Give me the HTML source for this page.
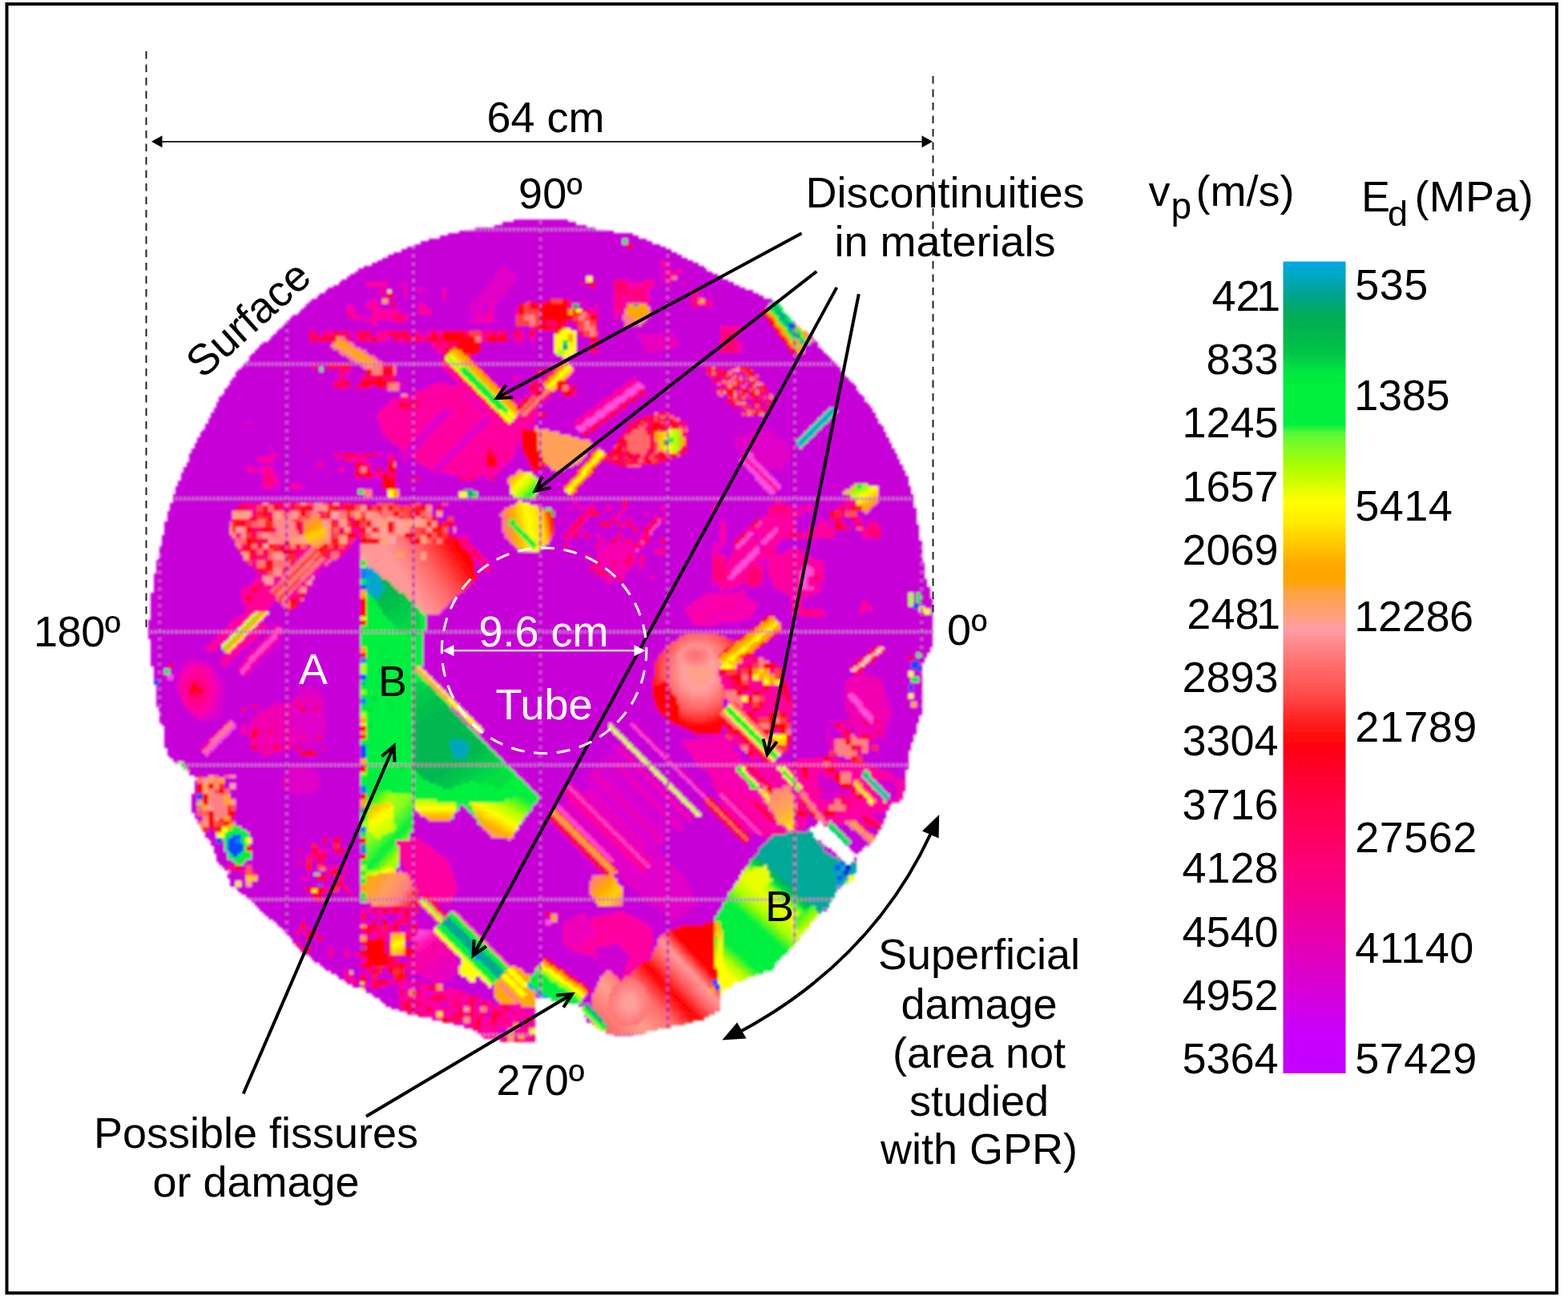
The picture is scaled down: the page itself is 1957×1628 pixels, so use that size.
<!DOCTYPE html>
<html lang="en"><head><meta charset="utf-8"><title>Tomography section</title>
<style>html,body{margin:0;padding:0;background:#fff}body{width:1957px;height:1628px;overflow:hidden}svg{display:block}text{font-family:"Liberation Sans",Arial,sans-serif;font-size:54px;fill:#000}.w{fill:#fff}.m{text-anchor:middle}.e{text-anchor:end}.ln{stroke:#000;stroke-width:4;fill:none;stroke-linecap:butt}</style>
</head><body>
<svg width="1957" height="1628" viewBox="0 0 1957 1628">
<defs>
<filter id="soft" x="-2%" y="-2%" width="104%" height="104%"><feGaussianBlur stdDeviation="1.5"/></filter><filter id="soft2" filterUnits="userSpaceOnUse" x="0" y="0" width="1957" height="1628"><feGaussianBlur stdDeviation="0.65"/></filter>
<clipPath id="hc"><path d="M185.0 787.0 187.0 760.0 195.0 712.0 202.5 672.0 210.0 640.0 217.6 615.5 237.6 565.5 252.6 540.4 275.2 495.3 300.2 460.3 322.7 435.3 355.3 405.2 387.8 375.2 420.4 355.1 452.9 335.1 493.0 315.1 530.5 300.0 580.6 287.5 620.0 281.0 647.0 274.0 702.0 274.0 745.0 286.0 783.0 290.0 830.0 308.5 860.0 325.0 902.8 347.6 940.4 365.0 965.4 375.0 990.5 400.0 1015.5 425.0 1040.5 452.8 1065.6 482.8 1090.6 515.4 1115.6 560.4 1130.7 590.5 1140.7 628.0 1148.2 672.0 1151.0 688.0 1153.6 718.8 1161.0 739.0 1165.0 772.6 1165.0 803.0 1158.7 816.0 1151.0 829.0 1149.0 850.0 1150.0 888.0 1146.0 900.0 1141.0 918.6 1133.0 944.0 1130.6 977.0 1124.0 1000.0 1113.0 1000.0 1108.0 1010.0 1100.0 1032.0 1090.0 1052.0 1078.0 1058.0 1068.0 1066.6 1068.0 1083.0 1066.0 1097.0 1046.0 1110.0 1036.0 1130.0 1016.0 1148.0 993.0 1175.0 975.0 1197.0 960.0 1214.0 935.0 1220.0 915.0 1228.0 900.0 1238.0 899.0 1260.0 876.0 1272.0 852.0 1279.0 826.0 1284.0 800.0 1292.0 775.0 1294.0 761.0 1291.0 748.0 1284.0 734.0 1276.0 723.0 1256.0 700.0 1250.0 669.0 1246.0 667.0 1254.0 666.0 1300.0 640.0 1301.0 608.0 1299.0 592.0 1287.0 554.0 1276.0 515.0 1268.0 485.0 1257.0 462.0 1240.0 439.0 1230.0 408.0 1211.0 373.0 1184.0 354.0 1161.0 325.0 1137.0 310.0 1122.0 288.0 1105.0 282.0 1085.0 270.0 1075.0 265.0 1055.0 246.0 1025.0 238.0 1005.0 245.0 972.0 226.0 956.0 208.0 943.0 205.0 905.0 200.0 900.0 193.0 850.0 187.0 810.0z"/></clipPath>
<linearGradient id="cb" x1="0" y1="326.5" x2="0" y2="1340" gradientUnits="userSpaceOnUse">
<stop offset="0.0000" stop-color="#00a8e4"/>
<stop offset="0.0183" stop-color="#00a8c0"/>
<stop offset="0.0429" stop-color="#00a48c"/>
<stop offset="0.0646" stop-color="#00ac58"/>
<stop offset="0.0824" stop-color="#00b450"/>
<stop offset="0.1120" stop-color="#00c448"/>
<stop offset="0.1367" stop-color="#00e840"/>
<stop offset="0.1613" stop-color="#00f03c"/>
<stop offset="0.2008" stop-color="#00f040"/>
<stop offset="0.2116" stop-color="#58f838"/>
<stop offset="0.2304" stop-color="#84fc20"/>
<stop offset="0.2501" stop-color="#a8fc00"/>
<stop offset="0.2699" stop-color="#ccfc00"/>
<stop offset="0.2955" stop-color="#ffff00"/>
<stop offset="0.3192" stop-color="#ffec00"/>
<stop offset="0.3488" stop-color="#ffc800"/>
<stop offset="0.3735" stop-color="#ffa800"/>
<stop offset="0.3962" stop-color="#ffa400"/>
<stop offset="0.4011" stop-color="#ffa430"/>
<stop offset="0.4228" stop-color="#ffa060"/>
<stop offset="0.4544" stop-color="#ff9ca4"/>
<stop offset="0.4790" stop-color="#ff8080"/>
<stop offset="0.5067" stop-color="#ff6464"/>
<stop offset="0.5363" stop-color="#ff4848"/>
<stop offset="0.5659" stop-color="#ff2020"/>
<stop offset="0.5876" stop-color="#ff0808"/>
<stop offset="0.6152" stop-color="#ff0020"/>
<stop offset="0.6645" stop-color="#ff0048"/>
<stop offset="0.7139" stop-color="#ff0064"/>
<stop offset="0.7632" stop-color="#f80084"/>
<stop offset="0.8125" stop-color="#ec00a0"/>
<stop offset="0.8619" stop-color="#e000c0"/>
<stop offset="0.9112" stop-color="#d400e0"/>
<stop offset="0.9507" stop-color="#c800fc"/>
<stop offset="1.0000" stop-color="#c400ff"/>
</linearGradient>
</defs>
<rect width="1957" height="1628" fill="#fff"/>
<g id="heat" filter="url(#soft)">
<g transform="translate(178.1 272.3) scale(3.4)" fill="none" stroke-width="1.04" shape-rendering="crispEdges">
<path stroke="#c800d8" d="M136 1h20M132 2h27M129 3h34M122 4h44M116 5h57M112 6h68M109 7h73M105 8h71M178 8h7M102 9h74M178 9h9M100 10h78M180 10h10M97 11h81M180 11h12M95 12h99M92 13h104M90 14h108M88 15h112M86 16h104M194 16h8M84 17h106M194 17h10M81 18h51M134 18h56M194 18h12M79 19h52M135 19h55M194 19h2M198 19h9M78 20h52M136 20h54M198 20h11M76 21h53M137 21h53M196 21h15M75 22h54M138 22h25M165 22h25M196 22h17M73 23h55M137 23h26M165 23h8M178 23h6M188 23h2M194 23h21M72 24h10M90 24h4M97 24h30M136 24h25M163 24h1M166 24h7M188 24h4M194 24h4M199 24h18M70 25h12M90 25h4M97 25h29M135 25h29M166 25h7M188 25h31M68 26h28M97 26h4M104 26h6M111 26h14M134 26h39M186 26h35M67 27h20M89 27h1M91 27h5M97 27h4M104 27h6M111 27h13M134 27h39M186 27h15M204 27h20M65 28h22M89 28h1M92 28h4M97 28h13M111 28h13M133 28h40M186 28h15M206 28h20M64 29h26M92 29h4M97 29h13M111 29h12M132 29h41M186 29h15M206 29h22M62 30h20M86 30h2M90 30h11M102 30h8M111 30h11M131 30h18M157 30h16M186 30h15M209 30h22M61 31h21M86 31h2M90 31h1M93 31h8M102 31h8M111 31h9M130 31h11M144 31h2M158 31h2M162 31h11M186 31h15M209 31h22M60 32h15M78 32h4M88 32h3M93 32h8M104 32h16M129 32h9M160 32h6M167 32h6M185 32h16M209 32h21M59 33h16M78 33h4M88 33h13M104 33h16M129 33h9M160 33h6M167 33h6M186 33h43M58 34h17M78 34h6M96 34h5M106 34h14M129 34h8M167 34h6M176 34h1M186 34h41M57 35h18M78 35h6M96 35h5M106 35h14M129 35h8M167 35h6M176 35h1M186 35h42M55 36h20M98 36h22M129 36h8M167 36h6M174 36h2M186 36h42M54 37h23M98 37h22M129 37h8M167 37h6M174 37h2M185 37h44M53 38h28M86 38h6M96 38h24M129 38h8M156 38h2M167 38h10M184 38h46M52 39h32M86 39h51M156 39h2M167 39h10M181 39h1M183 39h47M51 40h86M138 40h4M156 40h4M167 40h10M178 40h34M221 40h10M50 41h87M138 41h4M157 41h3M167 41h45M221 41h11M49 42h12M64 42h2M76 42h2M84 42h2M98 42h2M102 42h2M134 42h2M140 42h2M144 42h7M159 42h1M167 42h27M195 42h17M220 42h13M48 43h13M64 43h2M76 43h2M84 43h2M98 43h2M102 43h2M134 43h2M140 43h2M144 43h7M159 43h1M167 43h14M195 43h17M220 43h13M244 43h1M47 44h14M76 44h2M90 44h2M134 44h2M140 44h2M144 44h7M159 44h5M167 44h15M196 44h16M218 44h16M245 44h1M46 45h15M76 45h2M90 45h2M134 45h2M140 45h2M144 45h7M159 45h5M167 45h16M196 45h16M218 45h17M246 45h1M44 46h26M77 46h29M124 46h27M159 46h5M167 46h16M197 46h15M220 46h16M245 46h3M43 47h26M78 47h28M124 47h27M159 47h5M167 47h17M197 47h15M220 47h16M243 47h5M42 48h28M80 48h27M124 48h27M159 48h5M167 48h17M195 48h17M220 48h17M243 48h6M41 49h31M82 49h26M124 49h27M159 49h5M167 49h18M189 49h23M220 49h18M243 49h7M40 50h33M83 50h27M122 50h30M158 50h80M239 50h12M39 51h36M85 51h26M120 51h34M156 51h96M39 52h37M86 52h24M121 52h33M155 52h98M38 53h40M88 53h21M122 53h31M156 53h2M159 53h95M37 54h25M64 54h4M76 54h4M93 54h16M123 54h29M157 54h98M36 55h26M64 55h1M66 55h2M76 55h5M93 55h17M124 55h25M150 55h1M158 55h48M223 55h33M35 56h30M66 56h6M76 56h6M93 56h18M125 56h20M159 56h48M224 56h32M34 57h38M76 57h6M93 57h19M126 57h18M158 57h49M219 57h1M225 57h32M34 58h38M74 58h6M93 58h20M127 58h10M138 58h10M157 58h51M224 58h1M226 58h32M33 59h39M74 59h6M93 59h21M128 59h8M138 59h9M156 59h24M181 59h27M215 59h1M220 59h1M226 59h33M32 60h38M76 60h4M93 60h22M129 60h13M156 60h22M182 60h27M227 60h33M32 61h38M76 61h4M96 61h11M112 61h4M130 61h12M156 61h21M183 61h26M220 61h1M222 61h1M228 61h33M31 62h39M76 62h2M84 62h2M94 62h11M131 62h11M159 62h17M184 62h26M229 62h33M30 63h60M94 63h9M132 63h10M159 63h15M184 63h26M229 63h33M30 64h70M133 64h9M151 64h3M159 64h14M185 64h26M218 64h1M230 64h33M29 65h66M97 65h1M134 65h7M150 65h4M159 65h13M184 65h27M214 65h1M231 65h33M28 66h66M120 66h1M135 66h2M138 66h2M149 66h21M182 66h31M231 66h34M28 67h63M121 67h1M136 67h1M138 67h1M148 67h21M181 67h33M223 67h1M231 67h34M27 68h63M122 68h1M137 68h1M147 68h20M179 68h36M231 68h35M27 69h62M123 69h1M146 69h20M178 69h38M218 69h1M227 69h1M231 69h36M26 70h62M124 70h1M145 70h20M177 70h41M224 70h1M229 70h23M254 70h14M26 71h61M125 71h1M145 71h18M175 71h16M192 71h27M220 71h1M229 71h22M255 71h13M25 72h61M138 72h1M148 72h14M174 72h14M194 72h26M228 72h1M230 72h20M254 72h15M25 73h61M148 73h13M173 73h11M195 73h54M253 73h16M24 74h62M144 74h15M171 74h10M197 74h51M252 74h18M24 75h14M42 75h45M144 75h14M170 75h9M199 75h48M251 75h19M23 76h64M143 76h16M168 76h10M200 76h46M250 76h21M23 77h64M142 77h2M145 77h14M167 77h11M200 77h45M249 77h23M22 78h66M149 78h11M166 78h11M200 78h27M231 78h13M248 78h24M21 79h67M153 79h8M164 79h12M200 79h23M232 79h11M247 79h26M21 80h68M157 80h5M163 80h13M200 80h18M233 80h9M246 80h27M20 81h70M160 81h15M200 81h17M234 81h7M245 81h29M20 82h71M138 82h1M164 82h10M200 82h17M236 82h4M244 82h30M19 83h73M138 83h1M165 83h9M200 83h18M237 83h3M243 83h32M19 84h27M48 84h46M137 84h2M165 84h8M200 84h18M238 84h3M242 84h33M18 85h28M48 85h47M137 85h2M164 85h2M168 85h4M200 85h19M239 85h37M18 86h52M71 86h24M137 86h3M163 86h2M169 86h3M200 86h19M238 86h38M17 87h30M50 87h20M88 87h2M92 87h2M136 87h4M163 87h1M198 87h21M238 87h39M17 88h25M48 88h23M72 88h2M82 88h8M93 88h1M98 88h1M136 88h5M162 88h2M195 88h25M237 88h40M17 89h25M48 89h23M72 89h2M82 89h8M93 89h2M97 89h3M135 89h6M161 89h2M169 89h1M193 89h26M237 89h41M16 90h22M40 90h4M48 90h16M66 90h12M84 90h6M93 90h8M134 90h8M160 90h2M168 90h4M190 90h30M236 90h42M16 91h22M40 91h4M48 91h16M66 91h12M84 91h6M93 91h10M133 91h9M148 91h1M158 91h3M167 91h8M183 91h38M236 91h43M15 92h23M48 92h24M74 92h4M84 92h2M88 92h2M93 92h12M132 92h11M147 92h3M155 92h5M166 92h56M235 92h44M15 93h23M48 93h24M74 93h4M84 93h2M88 93h2M93 93h13M131 93h7M139 93h4M144 93h8M153 93h6M166 93h57M229 93h5M235 93h45M14 94h30M50 94h28M93 94h14M108 94h5M130 94h7M143 94h16M165 94h59M230 94h50M14 95h30M50 95h28M93 95h24M124 95h2M128 95h7M144 95h14M164 95h61M231 95h50M14 96h30M50 96h38M93 96h5M102 96h14M122 96h4M130 96h4M145 96h12M163 96h62M232 96h49M13 97h31M50 97h38M93 97h41M145 97h11M162 97h64M233 97h48M13 98h31M50 98h4M60 98h28M93 98h42M145 98h10M161 98h66M234 98h19M254 98h7M266 98h15M12 99h32M50 99h4M60 99h28M93 99h42M145 99h9M160 99h68M234 99h6M242 99h10M254 99h6M270 99h12M12 100h67M84 100h6M94 100h24M121 100h14M145 100h10M160 100h69M233 100h25M270 100h12M12 101h67M84 101h6M94 101h22M123 101h12M145 101h11M159 101h71M232 101h25M270 101h12M11 102h70M84 102h6M94 102h22M123 102h13M144 102h13M158 102h100M270 102h13M11 103h128M144 103h114M270 103h13M11 104h127M139 104h19M160 104h16M178 104h54M236 104h22M270 104h13M10 105h26M82 105h4M94 105h4M102 105h2M106 105h4M112 105h25M142 105h16M160 105h4M165 105h11M178 105h54M236 105h15M252 105h6M269 105h14M10 106h25M106 106h2M110 106h25M145 106h11M158 106h2M162 106h2M166 106h4M172 106h4M178 106h12M192 106h17M212 106h17M246 106h8M268 106h15M10 107h24M106 107h2M110 107h23M147 107h1M150 107h6M158 107h2M162 107h1M166 107h4M172 107h4M178 107h12M192 107h17M212 107h17M246 107h8M267 107h17M9 108h24M106 108h2M110 108h22M151 108h11M168 108h6M176 108h8M186 108h23M210 108h19M242 108h10M262 108h3M266 108h18M9 109h24M106 109h2M110 109h21M151 109h10M168 109h6M176 109h8M186 109h2M189 109h20M210 109h19M242 109h10M262 109h22M9 110h24M108 110h4M114 110h18M151 110h3M156 110h4M164 110h8M174 110h4M180 110h8M192 110h35M240 110h8M250 110h2M256 110h4M264 110h20M9 111h24M108 111h4M114 111h18M151 111h3M156 111h3M163 111h9M174 111h4M180 111h7M192 111h33M240 111h8M250 111h2M256 111h4M264 111h20M8 112h24M109 112h1M114 112h18M151 112h7M162 112h6M172 112h2M180 112h6M190 112h22M214 112h10M240 112h8M252 112h2M258 112h4M264 112h2M270 112h14M8 113h24M114 113h18M151 113h6M161 113h7M172 113h2M180 113h5M189 113h23M214 113h9M240 113h8M252 113h2M258 113h4M264 113h2M270 113h15M8 114h24M112 114h2M115 114h17M151 114h5M162 114h18M182 114h2M188 114h24M214 114h6M240 114h4M260 114h2M271 114h14M8 115h24M112 115h2M115 115h17M151 115h5M159 115h1M162 115h18M182 115h2M187 115h25M214 115h6M240 115h4M254 115h10M271 115h14M8 116h24M113 116h20M151 116h4M160 116h2M164 116h2M168 116h6M176 116h7M187 116h25M214 116h6M254 116h10M271 116h14M7 117h26M79 117h1M115 117h2M119 117h14M150 117h4M157 117h1M160 117h2M164 117h2M168 117h6M176 117h6M186 117h26M214 117h5M254 117h10M271 117h14M7 118h26M78 118h2M120 118h14M150 118h5M157 118h11M170 118h2M174 118h2M180 118h2M186 118h4M192 118h20M214 118h4M235 118h9M246 118h39M7 119h27M77 119h3M120 119h15M149 119h19M170 119h2M180 119h1M186 119h4M192 119h20M214 119h3M234 119h10M246 119h40M7 120h27M77 120h3M121 120h15M148 120h6M156 120h10M168 120h2M179 120h1M184 120h26M214 120h3M233 120h53M6 121h29M76 121h4M122 121h15M147 121h8M156 121h10M168 121h1M184 121h26M214 121h3M232 121h7M240 121h46M6 122h29M75 122h5M123 122h15M146 122h22M182 122h6M192 122h17M212 122h5M234 122h3M241 122h45M6 123h30M74 123h6M124 123h43M181 123h7M192 123h17M212 123h4M234 123h1M243 123h43M6 124h31M73 124h7M125 124h37M164 124h3M181 124h1M184 124h25M214 124h2M244 124h42M6 125h31M71 125h9M121 125h1M126 125h36M164 125h2M181 125h1M184 125h25M214 125h1M246 125h40M5 126h33M69 126h11M122 126h1M127 126h39M181 126h1M184 126h25M214 126h1M228 126h2M250 126h36M5 127h34M68 127h12M122 127h2M128 127h38M180 127h2M184 127h25M228 127h1M250 127h37M5 128h35M66 128h14M122 128h2M128 128h36M180 128h2M184 128h25M228 128h1M250 128h37M5 129h36M65 129h15M122 129h3M128 129h36M179 129h3M184 129h25M228 129h1M250 129h37M5 130h37M64 130h16M122 130h4M127 130h39M178 130h31M228 130h2M250 130h37M4 131h39M63 131h17M123 131h44M177 131h32M228 131h2M250 131h37M4 132h38M43 132h1M63 132h17M123 132h45M176 132h10M188 132h21M228 132h2M250 132h37M4 133h37M62 133h18M122 133h48M173 133h1M176 133h33M228 133h3M250 133h38M4 134h36M62 134h18M121 134h49M172 134h37M210 134h1M221 134h1M228 134h3M250 134h38M4 135h35M61 135h19M120 135h89M210 135h1M219 135h3M228 135h3M250 135h38M4 136h33M61 136h19M119 136h93M217 136h15M249 136h40M4 137h32M60 137h20M118 137h94M213 137h6M221 137h13M249 137h40M3 138h33M60 138h20M116 138h91M221 138h15M247 138h34M283 138h1M286 138h3M3 139h33M59 139h21M115 139h90M222 139h16M244 139h37M283 139h1M286 139h3M3 140h33M59 140h21M114 140h90M223 140h15M242 140h39M283 140h1M286 140h4M3 141h34M48 141h2M58 141h22M113 141h89M225 141h13M242 141h22M266 141h15M283 141h1M286 141h4M3 142h34M47 142h4M57 142h23M112 142h89M226 142h12M242 142h22M266 142h15M285 142h5M3 143h35M46 143h6M56 143h24M111 143h88M225 143h13M242 143h21M268 143h15M287 143h3M3 144h35M46 144h7M54 144h26M110 144h89M225 144h13M250 144h13M265 144h1M268 144h17M289 144h1M3 145h34M46 145h34M109 145h91M224 145h14M250 145h13M265 145h22M289 145h1M3 146h33M45 146h35M104 146h96M224 146h6M231 146h11M251 146h39M3 147h31M44 147h36M104 147h97M223 147h5M232 147h58M2 148h31M43 148h37M104 148h97M219 148h8M233 148h57M2 149h30M42 149h1M45 149h35M104 149h98M211 149h15M234 149h56M2 150h29M35 150h1M41 150h1M46 150h2M50 150h30M104 150h121M234 150h56M2 151h28M34 151h1M40 151h1M45 151h3M51 151h29M104 151h119M235 151h55M2 152h27M33 152h1M39 152h1M44 152h3M52 152h28M103 152h119M234 152h56M2 153h26M32 153h1M38 153h1M43 153h3M51 153h29M103 153h96M211 153h10M233 153h57M2 154h25M31 154h1M37 154h1M42 154h3M50 154h30M103 154h94M214 154h5M231 154h59M3 155h23M30 155h1M41 155h3M50 155h30M103 155h93M217 155h1M230 155h60M3 156h22M29 156h1M40 156h3M49 156h31M103 156h91M229 156h61M3 157h21M28 157h1M39 157h3M48 157h32M103 157h89M228 157h42M271 157h19M3 158h20M27 158h2M37 158h4M47 158h33M103 158h89M226 158h42M272 158h17M3 159h21M26 159h4M36 159h4M46 159h34M103 159h88M225 159h42M273 159h16M3 160h28M35 160h4M45 160h35M103 160h87M224 160h42M271 160h13M286 160h2M3 161h27M34 161h4M44 161h36M103 161h86M225 161h40M270 161h11M283 161h1M286 161h2M3 162h26M33 162h5M43 162h37M103 162h86M228 162h35M269 162h12M283 162h4M3 163h13M23 163h5M32 163h5M42 163h38M103 163h85M230 163h32M268 163h14M285 163h2M3 164h7M11 164h4M25 164h4M31 164h5M41 164h39M103 164h85M233 164h28M266 164h16M285 164h1M4 165h6M11 165h4M26 165h9M40 165h40M102 165h86M235 165h24M265 165h17M4 166h4M10 166h4M27 166h8M40 166h40M103 166h85M235 166h25M264 166h20M4 167h4M10 167h4M28 167h8M39 167h41M104 167h84M235 167h26M265 167h16M283 167h3M4 168h5M11 168h2M28 168h9M38 168h42M105 168h83M235 168h26M267 168h14M283 168h3M4 169h5M11 169h2M29 169h51M106 169h81M236 169h23M270 169h12M285 169h1M6 170h7M29 170h51M107 170h80M236 170h22M271 170h11M285 170h1M6 171h7M30 171h50M108 171h79M236 171h22M272 171h14M5 172h8M30 172h30M61 172h19M109 172h78M237 172h21M272 172h9M283 172h3M5 173h8M30 173h28M64 173h16M110 173h77M237 173h21M272 173h9M283 173h3M5 174h8M30 174h27M65 174h15M111 174h76M237 174h21M273 174h13M5 175h9M30 175h26M65 175h15M112 175h75M238 175h20M273 175h8M283 175h3M5 176h9M30 176h26M66 176h14M113 176h74M238 176h20M273 176h8M283 176h3M5 177h9M30 177h25M66 177h14M114 177h74M213 177h2M238 177h20M273 177h13M5 178h10M30 178h22M54 178h1M67 178h13M115 178h73M213 178h2M239 178h19M274 178h8M284 178h2M5 179h10M30 179h10M42 179h5M67 179h13M116 179h72M213 179h2M239 179h19M274 179h8M284 179h2M6 180h10M30 180h6M38 180h7M67 180h13M113 180h1M117 180h72M239 180h19M274 180h12M6 181h11M29 181h7M38 181h5M67 181h13M114 181h1M118 181h71M239 181h19M275 181h11M6 182h12M29 182h13M67 182h13M115 182h1M119 182h71M238 182h21M275 182h11M6 183h13M28 183h13M67 183h13M116 183h1M120 183h71M238 183h21M274 183h11M6 184h14M27 184h13M67 184h13M117 184h1M121 184h71M238 184h21M274 184h11M6 185h25M33 185h7M67 185h13M118 185h1M122 185h72M238 185h14M254 185h2M274 185h11M7 186h23M34 186h2M38 186h1M67 186h13M119 186h1M123 186h48M172 186h7M181 186h14M238 186h16M258 186h1M273 186h11M8 187h21M34 187h2M38 187h1M67 187h13M120 187h1M124 187h47M173 187h7M182 187h16M213 187h1M238 187h16M258 187h2M273 187h11M8 188h20M33 188h3M38 188h1M67 188h13M121 188h1M125 188h47M174 188h7M183 188h17M213 188h1M238 188h13M252 188h4M260 188h1M273 188h11M8 189h19M32 189h4M66 189h14M122 189h1M124 189h49M175 189h7M184 189h18M212 189h2M238 189h13M252 189h4M260 189h1M272 189h12M8 190h18M31 190h7M66 190h14M123 190h51M176 190h7M185 190h25M238 190h13M252 190h4M261 190h1M272 190h11M8 191h17M30 191h9M66 191h14M124 191h51M177 191h7M186 191h18M238 191h13M252 191h4M272 191h11M8 192h16M29 192h10M65 192h15M125 192h51M178 192h7M187 192h11M238 192h14M269 192h14M8 193h15M28 193h11M56 193h2M64 193h16M126 193h51M179 193h7M188 193h10M216 193h1M238 193h14M266 193h16M8 194h14M27 194h13M55 194h1M58 194h1M62 194h4M67 194h13M127 194h47M176 194h2M180 194h7M189 194h10M217 194h2M237 194h15M270 194h12M9 195h12M26 195h14M54 195h2M58 195h8M67 195h13M128 195h45M177 195h2M181 195h7M190 195h10M217 195h3M237 195h15M270 195h12M9 196h13M25 196h17M52 196h6M64 196h16M129 196h43M178 196h2M182 196h7M191 196h9M218 196h3M237 196h15M266 196h4M271 196h10M9 197h14M24 197h20M48 197h10M64 197h16M130 197h41M179 197h2M183 197h7M192 197h9M219 197h3M234 197h18M254 197h1M264 197h6M271 197h10M10 198h70M131 198h39M180 198h2M184 198h7M193 198h9M219 198h4M233 198h14M248 198h2M254 198h4M264 198h17M11 199h69M132 199h37M181 199h2M185 199h7M194 199h8M220 199h4M225 199h3M232 199h8M256 199h4M264 199h17M12 200h1M15 200h65M133 200h35M182 200h2M186 200h7M195 200h8M266 200h15M16 201h64M134 201h33M183 201h2M187 201h7M196 201h8M266 201h15M16 202h38M61 202h19M135 202h31M184 202h2M188 202h7M197 202h8M270 202h11M17 203h36M63 203h17M136 203h29M185 203h2M189 203h7M198 203h9M273 203h7M17 204h35M64 204h16M137 204h27M186 204h2M190 204h7M199 204h9M275 204h5M19 205h1M22 205h2M28 205h2M34 205h17M65 205h15M138 205h25M187 205h2M191 205h7M200 205h8M276 205h4M30 206h21M65 206h15M139 206h23M188 206h2M192 206h7M201 206h8M278 206h2M19 207h1M30 207h21M65 207h15M140 207h22M189 207h2M193 207h7M202 207h7M19 208h1M30 208h2M34 208h17M65 208h15M141 208h16M158 208h5M190 208h2M194 208h7M203 208h6M19 209h1M30 209h2M34 209h17M65 209h15M142 209h14M159 209h5M191 209h2M195 209h7M204 209h6M279 209h1M19 210h1M32 210h20M64 210h16M143 210h12M160 210h3M192 210h2M196 210h7M205 210h5M279 210h1M19 211h1M32 211h22M62 211h18M144 211h10M161 211h1M193 211h2M197 211h7M206 211h5M18 212h2M32 212h48M145 212h10M194 212h2M198 212h7M207 212h4M18 213h2M32 213h48M146 213h10M195 213h2M199 213h7M209 213h3M18 214h2M34 214h46M145 214h10M196 214h2M200 214h6M210 214h2M18 215h2M34 215h46M144 215h10M197 215h2M201 215h5M211 215h1M18 216h2M34 216h46M116 216h2M143 216h9M154 216h1M198 216h2M202 216h5M212 216h1M18 217h2M34 217h46M99 217h1M116 217h3M143 217h8M199 217h2M203 217h5M18 218h2M34 218h46M99 218h2M115 218h5M142 218h8M200 218h2M204 218h5M244 218h1M272 218h1M19 219h1M34 219h46M99 219h3M114 219h7M141 219h8M201 219h2M205 219h5M244 219h1M268 219h5M19 220h3M33 220h47M99 220h5M114 220h8M140 220h8M202 220h9M244 220h2M269 220h4M20 221h2M33 221h47M99 221h6M113 221h10M140 221h9M199 221h1M202 221h10M244 221h3M251 221h1M262 221h3M270 221h2M34 222h46M99 222h24M139 222h11M198 222h15M244 222h4M253 222h1M271 222h1M34 223h46M99 223h25M138 223h13M198 223h16M243 223h4M250 223h1M254 223h5M266 223h1M24 224h1M36 224h44M99 224h26M138 224h14M199 224h16M220 224h1M243 224h2M255 224h5M266 224h3M24 225h2M38 225h42M99 225h27M137 225h16M195 225h2M198 225h18M221 225h1M241 225h3M256 225h6M267 225h3M23 226h4M39 226h41M98 226h29M136 226h18M194 226h23M222 226h2M257 226h6M268 226h2M23 227h4M39 227h41M98 227h30M136 227h19M193 227h25M223 227h4M258 227h6M24 228h3M40 228h26M68 228h2M73 228h7M102 228h32M135 228h21M192 228h27M223 228h7M259 228h6M25 229h2M29 229h1M40 229h26M68 229h2M73 229h7M103 229h54M191 229h29M222 229h7M248 229h1M260 229h6M25 230h5M39 230h23M64 230h6M72 230h8M104 230h54M190 230h38M249 230h1M259 230h8M26 231h4M40 231h22M64 231h6M72 231h8M106 231h53M189 231h38M250 231h1M259 231h6M26 232h4M40 232h17M58 232h4M68 232h2M74 232h6M107 232h53M189 232h37M250 232h3M260 232h4M26 233h5M40 233h17M58 233h4M68 233h2M74 233h6M108 233h53M190 233h36M251 233h3M261 233h2M27 234h4M40 234h20M68 234h12M110 234h52M191 234h34M253 234h2M27 235h4M40 235h20M68 235h12M111 235h52M192 235h32M255 235h1M261 235h1M27 236h6M38 236h19M58 236h2M62 236h2M66 236h14M94 236h1M112 236h52M193 236h30M261 236h1M28 237h6M37 237h20M58 237h2M62 237h2M66 237h8M75 237h5M94 237h1M113 237h52M194 237h29M29 238h2M36 238h2M40 238h20M62 238h2M72 238h2M75 238h5M94 238h2M113 238h53M195 238h27M30 239h1M36 239h2M40 239h20M62 239h2M72 239h2M75 239h5M93 239h3M113 239h54M196 239h25M32 240h4M42 240h26M72 240h2M75 240h5M93 240h1M95 240h2M114 240h54M197 240h23M31 241h5M42 241h21M65 241h3M72 241h2M75 241h5M114 241h55M173 241h1M198 241h22M31 242h7M42 242h16M62 242h2M68 242h2M74 242h6M114 242h51M173 242h2M199 242h20M32 243h6M42 243h16M62 243h2M68 243h2M74 243h6M115 243h50M174 243h2M199 243h20M32 244h2M36 244h2M40 244h30M74 244h6M115 244h49M174 244h3M200 244h18M32 245h2M36 245h2M40 245h24M66 245h4M74 245h6M115 245h49M175 245h3M200 245h17M34 246h26M72 246h2M76 246h4M116 246h48M176 246h3M201 246h16M255 246h1M35 247h25M72 247h2M76 247h4M115 247h49M176 247h5M201 247h15M36 248h26M66 248h10M77 248h3M101 248h1M115 248h49M176 248h6M202 248h13M38 249h24M66 249h10M77 249h3M101 249h1M114 249h51M176 249h7M202 249h13M39 250h21M62 250h2M66 250h14M101 250h1M114 250h52M176 250h8M203 250h11M40 251h24M66 251h14M113 251h53M176 251h10M203 251h11M41 252h43M101 252h1M108 252h4M113 252h54M176 252h11M204 252h9M42 253h40M84 253h2M101 253h2M109 253h79M203 253h10M43 254h37M101 254h3M110 254h79M201 254h11M250 254h1M44 255h36M101 255h4M111 255h2M115 255h33M150 255h23M177 255h14M200 255h11M45 256h35M82 256h4M88 256h6M100 256h6M116 256h32M152 256h8M163 256h6M179 256h13M198 256h13M46 257h34M82 257h4M88 257h6M100 257h7M117 257h33M152 257h6M163 257h2M181 257h12M197 257h13M48 258h32M86 258h2M90 258h2M98 258h2M101 258h7M118 258h30M152 258h3M183 258h11M195 258h15M49 259h9M60 259h20M86 259h2M90 259h2M98 259h2M101 259h8M119 259h29M150 259h4M185 259h21M50 260h8M60 260h20M94 260h4M101 260h7M120 260h34M186 260h11M51 261h7M60 261h20M94 261h4M101 261h6M121 261h33M187 261h8M52 262h4M58 262h2M64 262h16M122 262h32M187 262h6M53 263h3M58 263h2M64 263h16M123 263h31M187 263h4M54 264h6M62 264h2M66 264h14M82 264h2M90 264h1M124 264h30M187 264h3M55 265h5M62 265h2M66 265h14M90 265h1M125 265h29M188 265h1M55 266h1M58 266h22M89 266h1M96 266h3M126 266h28M188 266h1M58 267h22M89 267h1M96 267h3M127 267h28M187 267h2M57 268h1M62 268h6M70 268h10M89 268h1M128 268h29M187 268h1M62 269h6M70 269h4M76 269h4M89 269h1M129 269h29M187 269h1M59 270h9M70 270h4M76 270h2M130 270h32M61 271h7M70 271h4M76 271h2M115 271h1M131 271h34M186 271h1M62 272h18M94 272h4M115 272h2M132 272h15M149 272h17M185 272h1M63 273h17M94 273h4M116 273h1M133 273h14M150 273h17M65 274h15M116 274h1M134 274h12M152 274h16M66 275h14M137 275h8M153 275h16M67 276h7M76 276h6M88 276h2M96 276h2M139 276h5M155 276h16M69 277h5M77 277h5M88 277h2M96 277h2M140 277h4M156 277h14M71 278h3M78 278h2M82 278h2M86 278h6M100 278h2M115 278h2M142 278h1M157 278h12M72 279h2M78 279h2M82 279h2M86 279h6M97 279h6M114 279h5M122 279h2M159 279h9M79 280h1M97 280h8M112 280h8M122 280h3M160 280h8M75 281h1M79 281h1M92 281h1M103 281h4M111 281h15M162 281h5M77 282h2M82 282h1M89 282h5M110 282h17M128 282h1M163 282h4M82 283h3M86 283h8M114 283h15M164 283h2M82 284h12M117 284h12M164 284h2M84 285h10M120 285h9M144 285h1M163 285h2M85 286h9M123 286h6M144 286h2M162 286h3M87 287h7M125 287h5M161 287h4M88 288h6M128 288h3M161 288h4M89 289h5M160 289h2M164 289h1M91 290h4M94 291h1M162 293h1M163 294h1M163 295h2"/>
<path stroke="#ff00a0" d="M190 16h2M190 17h2M192 18h2M192 19h2M196 19h2M192 20h6M192 21h4M192 22h2M176 23h2M184 23h2M192 23h2M82 24h8M96 24h1M178 24h6M186 24h2M192 24h2M198 24h1M82 25h8M96 25h1M178 25h6M186 25h2M96 26h1M101 26h1M110 26h1M184 26h2M96 27h1M101 27h1M110 27h1M184 27h2M201 27h3M96 28h1M184 28h2M201 28h3M96 29h1M184 29h2M201 29h3M84 30h2M156 30h1M176 30h10M206 30h2M84 31h2M128 31h1M146 31h2M156 31h2M160 31h2M176 31h10M206 31h2M75 32h1M82 32h4M101 32h3M156 32h2M166 32h1M176 32h2M204 32h2M75 33h1M82 33h4M101 33h3M156 33h2M166 33h1M176 33h2M76 34h2M84 34h10M101 34h5M137 34h1M164 34h2M173 34h3M76 35h2M84 35h10M101 35h5M137 35h1M164 35h2M173 35h3M78 36h2M84 36h8M96 36h2M126 36h2M173 36h1M78 37h2M84 37h8M96 37h2M126 37h2M173 37h1M81 38h5M122 38h6M84 39h2M142 40h2M154 40h2M212 40h4M218 40h3M142 41h2M212 41h4M218 41h3M104 42h2M108 42h2M104 43h2M108 43h2M88 44h2M124 44h2M142 44h2M88 45h2M124 45h2M142 45h2M106 46h2M110 46h2M164 46h2M218 46h2M106 47h2M110 47h2M164 47h2M218 47h2M108 48h2M218 48h2M108 49h2M218 49h2M154 52h1M109 53h2M153 53h1M158 53h1M109 54h3M152 54h1M110 55h3M151 55h1M74 56h2M111 56h3M148 56h3M158 56h1M74 57h2M112 57h3M148 57h2M157 57h1M113 58h3M137 58h1M148 58h1M156 58h1M114 59h3M136 59h2M147 59h1M155 59h1M180 59h1M115 60h3M146 60h1M178 60h4M107 61h5M116 61h3M177 61h4M105 62h15M146 62h2M176 62h4M103 63h18M146 63h2M151 63h1M174 63h4M182 63h2M100 64h22M142 64h2M150 64h1M158 64h1M173 64h4M181 64h2M98 65h25M141 65h3M149 65h1M158 65h1M172 65h4M180 65h2M94 66h26M121 66h3M140 66h1M148 66h1M170 66h4M178 66h2M91 67h30M122 67h3M139 67h1M147 67h1M169 67h4M177 67h2M90 68h4M102 68h20M123 68h3M138 68h1M146 68h1M167 68h4M175 68h2M89 69h5M102 69h21M124 69h3M137 69h1M145 69h1M166 69h4M174 69h2M88 70h8M98 70h12M112 70h4M118 70h6M125 70h3M144 70h1M165 70h4M173 70h2M87 71h9M98 71h12M114 71h2M118 71h7M126 71h3M143 71h2M163 71h4M171 71h2M86 72h22M113 72h17M142 72h4M162 72h4M170 72h2M86 73h21M112 73h13M127 73h4M137 73h3M141 73h5M161 73h4M169 73h2M86 74h20M111 74h13M128 74h4M136 74h8M159 74h4M167 74h2M87 75h18M110 75h13M127 75h6M135 75h9M158 75h4M166 75h2M87 76h17M109 76h13M126 76h17M159 76h2M165 76h1M87 77h16M108 77h13M125 77h17M163 77h2M198 77h1M88 78h14M107 78h13M124 78h15M162 78h2M88 79h14M106 79h13M123 79h16M161 79h1M177 79h1M89 80h12M105 80h13M122 80h17M90 81h10M104 81h13M121 81h18M199 81h1M91 82h8M104 82h12M120 82h18M92 83h6M103 83h12M119 83h19M94 84h3M102 84h12M118 84h8M128 84h9M95 85h1M101 85h12M117 85h9M128 85h9M188 85h1M100 86h12M116 86h10M130 86h7M48 87h2M86 87h2M90 87h2M99 87h12M115 87h11M130 87h6M42 88h6M71 88h1M76 88h6M99 88h11M114 88h12M130 88h6M176 88h1M220 88h2M42 89h6M71 89h1M76 89h6M100 89h9M113 89h13M130 89h5M221 89h2M64 90h2M82 90h2M101 90h7M112 90h14M130 90h4M222 90h2M64 91h2M82 91h2M103 91h4M111 91h15M130 91h3M223 91h2M38 92h2M44 92h4M72 92h2M105 92h1M110 92h22M224 92h2M38 93h2M44 93h4M72 93h2M109 93h22M225 93h2M84 94h4M113 94h17M226 94h2M84 95h4M117 95h7M126 95h2M227 95h2M48 96h2M126 96h2M228 96h2M48 97h2M229 97h2M44 98h4M54 98h4M230 98h2M44 99h4M54 99h4M231 99h2M232 100h1M232 104h2M260 104h2M164 105h1M232 105h2M260 105h2M40 106h2M62 106h1M164 106h1M209 106h1M238 106h2M242 106h4M258 106h2M40 107h2M62 107h1M163 107h1M165 107h1M209 107h1M238 107h2M242 107h4M258 107h2M162 108h1M174 108h2M209 108h1M232 108h3M238 108h4M161 109h1M163 109h1M174 109h2M188 109h1M209 109h1M230 109h12M160 110h1M162 110h2M188 110h1M227 110h13M262 110h2M159 111h1M162 111h1M187 111h1M226 111h14M262 111h2M161 112h1M212 112h2M227 112h13M248 112h3M157 113h1M160 113h1M185 113h1M212 113h2M226 113h14M248 113h3M159 114h1M212 114h2M222 114h10M233 114h5M246 114h5M252 114h2M264 114h2M158 115h1M212 115h2M222 115h9M233 115h5M246 115h8M264 115h2M155 116h1M157 116h1M183 116h1M212 116h2M226 116h4M232 116h5M242 116h2M246 116h4M252 116h2M264 116h2M117 117h2M154 117h1M156 117h1M182 117h2M212 117h2M223 117h1M226 117h3M231 117h5M242 117h2M246 117h4M252 117h2M264 117h2M116 118h1M118 118h2M155 118h2M182 118h1M212 118h2M222 118h6M230 118h5M117 119h1M119 119h1M181 119h1M212 119h2M221 119h6M229 119h5M61 120h1M117 120h2M120 120h1M210 120h2M220 120h6M228 120h5M60 121h2M118 121h2M121 121h1M210 121h2M217 121h1M219 121h6M228 121h4M239 121h1M59 122h2M119 122h2M122 122h1M188 122h2M209 122h1M217 122h7M226 122h2M237 122h4M58 123h2M120 123h1M123 123h1M188 123h2M209 123h1M216 123h7M226 123h2M235 123h8M57 124h2M68 124h1M121 124h1M124 124h1M212 124h2M216 124h6M225 124h19M56 125h2M68 125h1M122 125h1M124 125h2M212 125h2M215 125h6M224 125h22M56 126h1M66 126h2M123 126h1M125 126h2M215 126h5M223 126h3M230 126h20M55 127h1M65 127h2M124 127h1M126 127h2M214 127h5M222 127h4M229 127h21M54 128h1M64 128h2M124 128h2M127 128h1M214 128h4M221 128h1M226 128h2M229 128h9M240 128h3M245 128h5M53 129h1M63 129h2M125 129h2M214 129h3M220 129h2M226 129h2M229 129h9M240 129h2M246 129h4M52 130h1M62 130h2M126 130h1M214 130h2M219 130h3M230 130h11M246 130h2M51 131h1M61 131h2M214 131h2M218 131h4M230 131h11M246 131h2M48 132h3M60 132h2M214 132h1M217 132h3M230 132h11M244 132h2M48 133h3M59 133h2M214 133h6M231 133h10M244 133h2M48 134h2M58 134h2M209 134h1M211 134h10M231 134h10M244 134h4M47 135h2M57 135h2M60 135h1M209 135h1M211 135h8M231 135h10M244 135h4M46 136h2M56 136h2M212 136h5M232 136h10M246 136h3M55 137h2M212 137h1M219 137h2M234 137h15M54 138h2M218 138h2M236 138h11M53 139h2M216 139h3M238 139h6M53 140h1M215 140h2M238 140h4M52 141h1M213 141h3M238 141h4M211 142h7M210 143h3M214 143h4M263 143h2M266 143h2M208 144h3M214 144h2M238 144h4M246 144h4M263 144h2M266 144h2M37 145h4M207 145h2M214 145h2M238 145h4M246 145h4M263 145h2M36 146h4M205 146h3M250 146h1M34 147h5M203 147h3M33 148h5M203 148h2M32 149h5M43 149h2M31 150h4M42 150h4M48 150h2M30 151h4M41 151h4M48 151h1M29 152h4M40 152h4M47 152h2M50 152h2M28 153h4M39 153h4M46 153h2M49 153h2M27 154h4M38 154h4M45 154h2M49 154h1M26 155h4M36 155h5M44 155h2M48 155h2M25 156h4M35 156h5M43 156h2M47 156h2M24 157h4M34 157h5M42 157h2M46 157h2M23 158h4M33 158h4M41 158h2M45 158h2M24 159h2M32 159h4M40 159h2M44 159h2M31 160h4M39 160h2M43 160h2M30 161h4M38 161h2M42 161h2M29 162h4M38 162h1M41 162h2M28 163h4M37 163h2M40 163h2M29 164h2M36 164h2M39 164h2M218 164h2M35 165h2M39 165h1M218 165h2M19 166h2M35 166h1M38 166h2M230 166h2M17 167h2M21 167h2M37 167h2M230 167h2M16 168h1M23 168h1M37 168h1M212 168h2M23 169h1M212 169h2M15 170h1M24 170h1M222 170h2M15 171h1M24 171h1M222 171h2M224 172h2M230 172h4M224 173h2M230 173h4M222 174h2M228 174h2M232 174h2M260 174h2M222 175h2M228 175h2M232 175h2M261 175h1M15 176h1M24 176h1M262 176h1M15 177h1M24 177h1M263 177h1M16 178h1M23 178h1M52 178h2M215 178h1M238 178h1M264 178h1M16 179h1M23 179h1M52 179h2M238 179h1M264 179h2M17 180h2M21 180h2M220 180h4M230 180h4M265 180h1M221 181h3M230 181h4M266 181h1M267 182h1M268 183h1M268 184h1M31 185h1M30 186h1M180 186h1M29 187h1M181 187h1M28 188h1M36 188h2M182 188h1M230 188h2M27 189h1M36 189h2M183 189h1M230 189h2M26 190h1M184 190h1M216 190h2M25 191h1M185 191h1M216 191h2M24 192h1M186 192h1M23 193h2M187 193h1M22 194h2M188 194h1M21 195h2M189 195h1M190 196h1M236 196h1M191 197h1M192 198h1M226 198h1M247 198h1M193 199h1M240 199h10M252 199h4M194 200h1M237 200h13M254 200h8M195 201h1M238 201h12M254 201h12M196 202h1M238 202h4M244 202h6M254 202h16M197 203h1M238 203h4M244 203h6M256 203h9M266 203h7M198 204h1M238 204h4M244 204h4M250 204h2M260 204h4M267 204h8M199 205h1M239 205h3M244 205h4M250 205h2M260 205h4M267 205h9M200 206h1M240 206h8M260 206h5M268 206h10M201 207h1M240 207h8M260 207h1M263 207h3M276 207h4M157 208h1M202 208h1M241 208h7M264 208h3M276 208h4M157 209h2M203 209h1M242 209h6M264 209h4M277 209h2M155 210h2M158 210h2M204 210h1M239 210h1M241 210h7M266 210h3M277 210h2M154 211h4M159 211h2M205 211h1M212 211h2M218 211h1M240 211h2M243 211h5M266 211h3M277 211h2M155 212h4M160 212h2M206 212h1M211 212h1M213 212h2M219 212h2M240 212h1M244 212h4M254 212h2M259 212h3M267 212h3M277 212h2M156 213h4M161 213h2M212 213h1M214 213h2M220 213h2M244 213h5M254 213h2M258 213h4M268 213h2M277 213h2M157 214h4M162 214h2M213 214h1M215 214h2M221 214h2M225 214h2M241 214h1M245 214h6M260 214h6M269 214h3M274 214h4M158 215h4M163 215h2M214 215h1M216 215h2M222 215h2M226 215h2M241 215h1M246 215h6M260 215h7M268 215h7M153 216h1M159 216h4M164 216h2M215 216h1M217 216h2M223 216h2M227 216h2M242 216h1M247 216h5M260 216h14M154 217h1M160 217h4M165 217h2M216 217h1M218 217h2M224 217h2M228 217h2M247 217h5M260 217h14M155 218h1M161 218h4M166 218h2M217 218h1M219 218h2M225 218h2M229 218h2M248 218h2M254 218h18M156 219h1M162 219h4M167 219h2M218 219h1M220 219h2M226 219h2M230 219h2M249 219h1M254 219h14M148 220h1M157 220h1M163 220h4M168 220h2M219 220h1M221 220h2M227 220h2M231 220h1M250 220h14M266 220h3M149 221h1M158 221h1M164 221h4M169 221h2M220 221h1M222 221h2M228 221h2M250 221h1M252 221h10M267 221h3M150 222h1M159 222h1M165 222h4M170 222h2M221 222h1M223 222h2M229 222h2M251 222h1M254 222h4M262 222h2M269 222h2M151 223h1M160 223h1M166 223h4M171 223h2M222 223h1M224 223h2M263 223h1M270 223h1M152 224h1M161 224h1M167 224h4M172 224h2M223 224h1M225 224h2M264 224h2M153 225h1M162 225h1M168 225h4M173 225h2M224 225h1M226 225h2M265 225h2M154 226h1M163 226h1M169 226h4M174 226h2M225 226h1M266 226h2M155 227h1M164 227h1M170 227h4M175 227h2M268 227h1M98 228h4M156 228h1M165 228h1M171 228h4M176 228h2M93 229h10M157 229h1M166 229h1M172 229h4M177 229h2M93 230h11M158 230h1M167 230h1M173 230h4M178 230h2M94 231h12M159 231h1M168 231h1M174 231h4M179 231h2M94 232h13M160 232h1M169 232h1M175 232h4M180 232h2M94 233h14M161 233h1M170 233h1M176 233h4M181 233h2M60 234h2M94 234h16M162 234h1M171 234h1M177 234h4M182 234h2M60 235h2M94 235h17M163 235h1M172 235h1M178 235h4M183 235h2M95 236h17M164 236h1M179 236h4M184 236h2M74 237h1M95 237h18M165 237h1M180 237h4M185 237h2M96 238h17M166 238h1M181 238h4M96 239h17M167 239h1M182 239h3M97 240h17M168 240h1M183 240h1M97 241h17M169 241h1M72 242h2M98 242h16M72 243h2M98 243h17M99 244h16M100 245h15M100 246h16M101 247h14M102 248h13M102 249h1M105 249h9M106 250h8M107 251h6M112 252h1M173 255h4M169 256h10M165 257h16M164 258h19M165 259h20M165 260h21M166 261h21M166 262h21M167 263h20M165 264h22M108 265h1M164 265h24M162 266h26M105 267h1M155 267h2M161 267h10M175 267h12M104 268h1M157 268h2M160 268h6M176 268h11M158 269h8M177 269h10M101 270h1M162 270h4M178 270h9M165 271h1M179 271h7M166 272h1M179 272h6M178 273h6M178 274h5M84 275h2M177 275h5M177 276h4M177 277h3M173 278h1M176 278h3M174 279h1M176 279h1M92 280h1M96 280h1M175 280h1M96 281h4M83 282h1M94 282h2M98 282h2M102 282h2M94 283h2M98 283h2M102 283h2M112 283h2M102 284h2M106 284h6M114 284h2M102 285h2M106 285h6M114 285h2M118 285h2M94 286h4M100 286h4M112 286h2M116 286h4M94 287h4M100 287h4M112 287h2M116 287h4M124 287h1M98 288h2M104 288h4M112 288h2M116 288h2M98 289h2M104 289h4M112 289h2M116 289h2M130 289h2M134 289h4M95 290h1M106 290h4M114 290h2M126 290h2M130 290h2M138 290h2M142 290h2M95 291h1M106 291h4M114 291h2M126 291h2M130 291h2M138 291h2M142 291h2M97 292h3M104 292h4M110 292h2M118 292h2M122 292h2M132 292h2M104 293h4M110 293h2M118 293h2M122 293h2M132 293h2M106 294h4M116 294h2M120 294h2M124 294h4M130 294h2M134 294h4M116 295h2M120 295h2M124 295h4M130 295h2M134 295h4M114 296h2M124 296h4M130 296h6M124 297h4M130 297h6M124 298h6M136 298h4M124 299h6M136 299h4M126 300h4M132 300h2M136 300h2M140 300h2M126 301h4M132 301h2M136 301h2M140 301h2M140 302h2"/>
<path stroke="#ff0000" d="M178 10h2M178 11h2M164 24h2M164 25h2M90 28h2M90 29h2M149 30h1M154 30h2M91 31h2M148 31h2M154 31h2M91 32h2M138 32h2M142 32h14M138 33h2M142 33h14M138 34h2M146 34h10M158 34h1M161 34h1M227 34h2M138 35h2M146 35h10M158 35h3M228 35h1M146 36h12M164 36h3M228 36h2M146 37h12M164 37h3M229 37h2M146 38h2M152 38h2M230 38h2M146 39h2M152 39h2M230 39h2M144 40h6M152 40h2M166 40h1M231 40h2M144 41h6M152 41h2M166 41h1M232 41h2M106 42h2M151 42h2M233 42h1M106 43h2M233 43h2M106 44h2M120 44h2M128 44h2M164 44h3M234 44h2M106 45h2M120 45h2M128 45h2M164 45h3M235 45h2M122 46h2M236 46h1M115 47h1M122 47h2M236 47h2M112 48h2M115 48h2M166 48h1M237 48h2M112 49h1M117 49h1M166 49h1M238 49h2M118 50h1M120 50h2M238 50h1M119 51h1M110 52h1M120 52h1M111 53h1M121 53h1M154 53h1M68 54h2M74 54h2M112 54h1M122 54h1M153 54h1M68 55h2M74 55h2M113 55h1M123 55h1M149 55h1M152 55h1M206 55h1M212 55h1M222 55h1M82 56h2M88 56h4M114 56h1M124 56h1M145 56h3M151 56h1M222 56h1M82 57h2M88 57h4M115 57h1M125 57h1M144 57h4M150 57h1M220 57h1M222 57h1M224 57h1M86 58h2M116 58h1M126 58h1M149 58h1M211 58h1M86 59h2M117 59h1M127 59h1M148 59h1M211 59h1M214 59h1M74 60h2M80 60h12M118 60h1M128 60h1M147 60h1M152 60h4M218 60h1M220 60h1M74 61h2M80 61h10M119 61h1M129 61h1M146 61h1M152 61h4M209 61h1M213 61h1M70 62h2M78 62h4M86 62h2M120 62h1M130 62h1M142 62h2M152 62h2M158 62h1M216 62h1M223 62h1M121 63h1M131 63h1M142 63h2M152 63h2M158 63h1M211 63h1M214 63h1M216 63h2M220 63h2M226 63h1M228 63h1M122 64h1M132 64h1M144 64h3M149 64h1M154 64h4M183 64h2M212 64h1M220 64h1M226 64h1M123 65h1M133 65h1M144 65h2M148 65h1M154 65h4M182 65h2M215 65h1M124 66h1M134 66h1M141 66h2M144 66h1M147 66h1M180 66h2M216 66h1M125 67h1M135 67h1M140 67h2M143 67h1M146 67h1M179 67h2M215 67h1M225 67h1M229 67h2M94 68h2M98 68h2M126 68h1M136 68h1M139 68h2M142 68h1M145 68h1M177 68h2M94 69h2M98 69h2M127 69h1M138 69h2M141 69h1M144 69h1M176 69h2M216 69h1M224 69h1M229 69h1M128 70h1M137 70h2M140 70h1M143 70h1M175 70h2M129 71h1M139 71h1M142 71h1M173 71h2M219 71h1M221 71h1M228 71h1M130 72h1M141 72h1M146 72h2M172 72h2M224 72h1M131 73h1M140 73h1M146 73h2M171 73h2M132 74h1M169 74h2M194 74h1M133 75h1M168 75h2M166 76h2M165 77h2M139 78h5M164 78h2M186 78h1M139 79h6M162 79h2M176 79h1M139 80h6M162 80h1M139 81h6M139 82h6M139 83h6M139 84h6M139 85h6M166 85h1M126 86h2M140 86h6M165 86h1M71 87h1M74 87h4M82 87h4M126 87h2M140 87h6M164 87h1M170 87h1M126 88h4M141 88h6M164 88h1M169 88h1M126 89h4M141 89h6M163 89h1M168 89h1M170 89h1M172 89h1M78 90h2M90 90h2M126 90h4M142 90h6M162 90h1M167 90h1M78 91h2M90 91h2M126 91h4M142 91h6M161 91h1M166 91h1M86 92h2M90 92h3M143 92h4M160 92h1M165 92h1M86 93h2M90 93h3M143 93h1M159 93h1M165 93h1M78 94h2M82 94h2M88 94h2M92 94h1M159 94h1M164 94h1M78 95h2M82 95h2M88 95h2M92 95h1M158 95h1M163 95h1M88 96h5M98 96h4M116 96h2M120 96h2M128 96h2M157 96h1M162 96h1M88 97h5M156 97h1M161 97h1M88 98h5M155 98h1M160 98h1M88 99h5M154 99h1M159 99h1M159 100h1M158 101h1M157 102h1M70 106h2M108 106h2M165 106h1M70 107h2M108 107h2M164 107h1M163 108h1M162 109h1M150 110h1M161 110h1M189 110h1M34 111h2M150 111h1M160 111h2M188 111h1M225 111h1M90 112h2M160 112h1M188 112h1M224 112h2M90 113h2M109 113h1M223 113h2M44 114h2M158 114h1M186 114h1M254 114h2M44 115h2M57 116h1M112 116h1M156 116h1M220 116h2M112 117h3M155 117h1M219 117h2M100 118h2M114 118h2M117 118h1M183 118h1M218 118h2M100 119h2M114 119h2M118 119h1M182 119h1M217 119h2M114 120h3M119 120h1M217 120h1M115 121h3M120 121h1M52 122h2M64 122h2M115 122h4M121 122h1M52 123h2M65 123h1M116 123h4M121 123h2M117 124h4M122 124h2M117 125h4M123 125h1M118 126h4M124 126h1M119 127h3M125 127h1M119 128h3M126 128h1M120 129h2M127 129h1M121 130h1M121 131h2M122 132h1M40 136h2M40 137h2M58 138h2M38 139h2M58 139h1M38 140h2M80 140h2M80 141h2M80 142h2M80 143h2M80 144h2M80 145h2M80 146h2M230 146h1M228 147h2M80 148h2M227 148h2M80 149h2M226 149h1M225 150h1M223 151h2M234 151h1M222 152h2M232 152h2M221 153h1M231 153h2M219 154h2M230 154h1M218 155h2M229 155h1M217 156h1M227 156h2M216 157h1M226 157h2M270 157h1M214 158h2M225 158h1M268 158h2M213 159h2M224 159h1M267 159h2M271 159h2M80 160h2M212 160h1M221 160h3M266 160h2M270 160h1M80 161h2M211 161h1M219 161h3M265 161h1M268 161h2M281 161h2M263 162h2M267 162h2M281 162h2M262 163h2M266 163h2M10 164h1M228 164h4M261 164h2M265 164h1M10 165h1M228 165h4M259 165h2M263 165h2M212 166h2M222 166h2M234 166h1M262 166h2M212 167h2M222 167h2M234 167h1M261 167h2M216 168h4M234 168h1M216 169h4M234 169h2M191 170h1M218 170h2M234 170h2M18 171h2M190 171h3M218 171h2M234 171h2M18 172h2M188 172h5M220 172h2M228 172h2M234 172h3M17 173h5M187 173h7M220 173h2M228 173h2M234 173h3M17 174h2M20 174h2M187 174h7M218 174h2M224 174h2M236 174h1M17 175h2M187 175h8M218 175h2M224 175h2M236 175h2M188 176h8M222 176h2M236 176h2M188 177h8M222 177h2M236 177h2M188 178h8M217 178h1M226 178h2M188 179h9M218 179h1M226 179h2M189 180h8M219 180h1M224 180h2M189 181h8M220 181h1M224 181h2M190 182h7M221 182h3M230 182h2M234 182h2M191 183h6M212 183h1M222 183h2M230 183h2M234 183h2M192 184h5M213 184h1M223 184h1M230 184h2M194 185h4M211 185h1M214 185h1M224 185h1M230 185h2M264 185h2M197 186h2M209 186h1M214 186h2M225 186h1M230 186h6M80 187h2M202 187h5M214 187h3M226 187h1M230 187h6M80 188h2M216 188h3M227 188h3M234 188h2M216 189h4M228 189h2M234 189h2M80 190h2M219 190h2M229 190h1M236 190h2M80 191h2M220 191h2M230 191h1M236 191h2M221 192h2M231 192h1M236 192h2M222 193h2M232 193h1M236 193h2M223 194h2M233 194h1M236 194h1M224 195h2M234 195h1M236 195h1M222 196h2M225 196h2M235 196h1M222 197h2M226 197h2M223 198h1M227 198h2M250 198h2M228 199h2M250 199h2M221 200h1M80 201h2M221 201h2M80 202h2M222 202h2M242 202h2M252 202h2M80 203h2M223 203h2M242 203h2M252 203h2M224 204h2M242 204h2M254 204h2M225 205h2M242 205h2M254 205h2M226 206h2M254 206h2M227 207h2M254 207h2M20 208h2M24 208h2M228 208h2M256 208h4M20 209h2M24 209h2M229 209h2M256 209h4M20 210h2M28 210h2M229 210h2M260 210h2M265 210h1M20 211h2M28 211h2M230 211h1M260 211h2M22 212h2M80 212h2M262 212h2M22 213h2M80 213h2M207 213h2M241 213h1M262 213h2M206 214h1M208 214h2M223 214h1M242 214h1M206 215h2M209 215h2M224 215h2M242 215h2M31 216h1M207 216h2M210 216h2M225 216h2M243 216h1M31 217h1M151 217h1M208 217h2M211 217h2M226 217h2M244 217h1M24 218h2M31 218h1M152 218h1M209 218h2M212 218h2M227 218h2M240 218h4M245 218h1M250 218h4M24 219h2M31 219h1M149 219h1M153 219h1M210 219h2M213 219h2M228 219h2M240 219h4M245 219h2M250 219h4M24 220h2M32 220h1M149 220h2M154 220h1M211 220h2M214 220h2M229 220h2M246 220h1M264 220h2M24 221h2M28 221h2M32 221h1M150 221h2M155 221h1M212 221h2M215 221h2M230 221h2M247 221h1M265 221h2M24 222h2M30 222h2M151 222h2M156 222h1M213 222h2M216 222h2M239 222h1M266 222h3M24 223h2M30 223h1M152 223h2M157 223h1M214 223h2M217 223h2M267 223h3M25 224h1M153 224h2M158 224h1M215 224h2M218 224h2M269 224h2M154 225h2M159 225h1M216 225h2M219 225h2M155 226h2M160 226h1M217 226h2M220 226h2M156 227h2M161 227h1M218 227h2M221 227h2M80 228h2M157 228h2M162 228h1M219 228h2M222 228h1M80 229h2M158 229h2M163 229h1M220 229h2M159 230h2M164 230h1M38 231h2M160 231h2M165 231h1M38 232h2M161 232h2M166 232h1M162 233h2M167 233h1M80 234h2M163 234h2M168 234h1M80 235h2M164 235h2M169 235h1M64 236h2M165 236h2M170 236h1M166 237h2M171 237h1M167 238h2M172 238h1M168 239h2M173 239h1M74 240h1M169 240h2M74 241h1M170 241h1M103 249h2M104 250h2M105 251h2M100 252h1M106 252h2M86 253h2M94 253h2M107 253h2M108 254h2M109 255h2M148 255h2M110 256h2M148 256h2M206 259h4M197 260h13M80 261h2M195 261h15M195 262h15M195 263h15M196 264h14M82 265h7M197 265h13M82 266h7M198 266h12M82 267h7M199 267h11M82 268h7M98 268h2M200 268h10M80 269h9M98 269h2M201 269h9M82 270h8M202 270h8M82 271h8M203 271h7M82 272h8M147 272h2M204 272h6M82 273h8M148 273h2M205 273h5M82 274h8M94 274h2M149 274h3M184 274h1M206 274h4M82 275h2M94 275h2M151 275h2M185 275h1M207 275h3M152 276h3M186 276h1M207 276h4M154 277h2M187 277h1M208 277h3M80 278h2M155 278h2M188 278h1M209 278h2M80 279h2M156 279h3M210 279h1M78 280h1M158 280h2M78 281h1M159 281h3M161 282h2M162 283h2M192 283h1M163 284h1M193 284h1M194 285h1M195 286h1M196 287h1M197 288h1M198 289h1M199 290h1M200 291h1"/>
<path stroke="#00f040" d="M176 8h2M176 9h2M232 31h1M230 32h1M233 32h1M230 33h2M233 33h2M230 34h2M234 34h1M231 35h2M235 35h1M232 36h2M236 36h1M233 37h1M236 37h2M233 38h2M237 38h2M234 39h2M239 39h1M235 40h2M239 40h1M236 41h1M239 41h2M236 42h2M240 42h2M237 43h2M241 43h1M238 44h2M241 44h2M154 45h2M238 45h1M242 45h2M154 46h2M243 46h2M240 47h1M65 55h1M117 55h2M65 56h1M116 56h4M117 57h4M118 58h4M119 59h4M120 60h4M121 61h4M122 62h4M123 63h4M124 64h4M125 65h4M126 66h4M127 67h4M128 68h4M129 69h4M130 70h4M252 70h1M132 71h2M251 71h1M254 71h1M250 72h1M253 72h1M249 73h1M252 73h1M248 74h1M251 74h1M247 75h1M250 75h1M246 76h1M249 76h1M245 77h1M248 77h1M244 78h1M247 78h1M243 79h1M246 79h1M242 80h1M245 80h1M193 81h2M241 81h1M244 81h1M193 82h2M240 82h1M243 82h1M242 83h1M241 84h1M262 98h2M262 99h2M79 100h2M79 101h2M121 101h2M121 102h2M148 107h2M135 111h2M134 112h3M135 113h3M136 114h3M137 115h3M138 116h3M139 117h3M140 118h3M141 119h3M142 120h3M143 121h1M80 126h2M80 127h2M80 133h2M80 134h2M82 138h1M284 138h2M82 139h2M284 139h2M82 140h3M284 140h2M82 141h4M284 141h2M82 142h4M82 143h5M100 143h1M82 144h6M101 144h1M42 145h1M82 145h6M101 145h2M41 146h1M82 146h7M102 146h2M40 147h1M82 147h8M102 147h2M39 148h1M82 148h9M102 148h2M38 149h1M82 149h10M102 149h2M37 150h1M80 150h13M102 150h2M36 151h1M80 151h13M102 151h2M35 152h1M80 152h14M102 152h1M34 153h1M80 153h16M102 153h1M33 154h1M80 154h19M101 154h2M32 155h1M80 155h23M31 156h1M80 156h23M30 157h1M80 157h23M29 158h1M82 158h6M90 158h8M99 158h4M82 159h6M90 159h8M99 159h4M82 160h14M98 160h5M284 160h2M82 161h14M98 161h5M284 161h2M82 162h6M92 162h11M82 163h6M92 163h11M82 164h21M82 165h18M8 166h2M82 166h4M88 166h12M8 167h2M82 167h4M88 167h13M82 168h14M98 168h4M82 169h14M98 169h5M282 169h3M80 170h12M94 170h5M100 170h4M282 170h3M82 171h10M94 171h5M103 171h2M80 172h6M88 172h11M80 173h6M88 173h11M82 174h10M94 174h5M80 175h12M94 175h5M108 175h1M80 176h3M86 176h13M109 176h1M82 177h1M86 177h13M110 177h1M82 178h8M92 178h6M111 178h1M80 179h10M92 179h6M112 179h1M80 180h3M84 180h6M92 180h6M214 180h2M80 181h3M84 181h6M92 181h6M214 181h3M82 182h17M215 182h3M82 183h17M216 183h3M82 184h17M217 184h3M82 185h17M218 185h3M82 186h1M84 186h15M219 186h3M82 187h1M84 187h15M119 187h1M220 187h3M82 188h14M98 188h1M120 188h1M221 188h3M82 189h14M98 189h1M121 189h1M222 189h3M82 190h16M122 190h1M223 190h3M82 191h16M123 191h1M224 191h3M80 192h19M124 192h1M225 192h3M80 193h19M125 193h1M226 193h3M82 194h16M126 194h1M227 194h3M82 195h16M127 195h1M228 195h3M82 196h6M90 196h9M128 196h1M229 196h3M82 197h6M90 197h9M129 197h1M230 197h3M82 198h2M86 198h2M90 198h9M130 198h1M231 198h2M82 199h2M86 199h2M90 199h9M131 199h1M82 200h16M132 200h1M14 201h2M82 201h16M132 201h2M15 202h1M82 202h12M96 202h3M133 202h2M218 202h2M234 202h1M82 203h18M134 203h2M218 203h2M235 203h1M265 203h1M82 204h19M135 204h2M219 204h2M235 204h2M265 204h2M80 205h22M136 205h2M220 205h2M236 205h2M264 205h1M266 205h1M80 206h23M135 206h4M221 206h2M237 206h2M265 206h1M267 206h1M80 207h25M120 207h2M134 207h6M222 207h2M238 207h2M266 207h1M268 207h1M80 208h28M117 208h9M133 208h8M223 208h2M239 208h1M267 208h1M269 208h1M82 209h28M114 209h15M132 209h10M223 209h3M240 209h1M268 209h1M270 209h1M82 210h61M240 210h1M269 210h1M271 210h1M82 211h3M91 211h53M270 211h1M272 211h1M82 212h2M99 212h46M271 212h1M273 212h1M82 213h1M99 213h37M141 213h5M272 213h1M108 214h25M142 214h3M272 214h1M20 215h2M99 215h1M115 215h5M99 216h1M115 216h1M118 216h3M115 217h1M119 217h2M142 217h1M120 218h2M141 218h1M80 219h2M121 219h1M80 220h2M113 220h1M122 220h1M80 221h2M139 221h1M98 222h1M123 222h1M252 222h1M33 223h1M97 223h1M252 223h2M33 224h3M96 224h1M253 224h2M31 225h7M95 225h1M254 225h2M30 226h9M80 226h2M255 226h2M30 227h3M36 227h3M80 227h2M256 227h2M29 228h2M36 228h2M257 228h2M30 229h1M36 229h2M258 229h2M30 230h1M37 230h2M30 231h1M37 231h1M30 232h1M37 232h1M31 233h1M36 233h4M88 233h1M31 234h2M35 234h5M87 234h1M31 235h9M86 235h1M33 236h5M80 236h2M85 236h1M34 237h3M80 237h2M80 240h2M63 241h2M80 241h2M80 243h2M80 244h2M233 246h1M234 247h1M80 248h2M80 249h2M80 250h2M102 250h1M80 251h2M103 251h1M214 251h1M104 252h1M213 252h3M105 253h1M213 253h5M241 253h1M106 254h1M212 254h7M242 254h1M107 255h1M113 255h1M211 255h9M108 256h1M112 256h3M211 256h10M109 257h1M113 257h3M210 257h12M114 258h3M210 258h13M109 259h1M115 259h3M212 259h12M108 260h3M116 260h3M212 260h14M108 261h4M117 261h3M212 261h15M109 262h4M118 262h3M213 262h15M110 263h4M119 263h3M213 263h16M111 264h4M120 264h3M213 264h17M112 265h4M121 265h3M213 265h18M113 266h4M122 266h3M214 266h18M114 267h4M123 267h3M215 267h19M115 268h4M124 268h3M216 268h19M116 269h4M125 269h3M217 269h19M117 270h3M126 270h3M218 270h18M118 271h4M127 271h3M220 271h15M119 272h3M128 272h3M221 272h13M120 273h4M129 273h3M222 273h11M121 274h4M130 274h3M223 274h9M122 275h4M131 275h3M224 275h8M123 276h4M132 276h2M144 276h1M225 276h6M76 277h1M124 277h4M144 277h2M226 277h2M125 278h4M143 278h5M126 279h4M142 279h7M127 280h3M142 280h8M128 281h1M142 281h10M143 282h10M145 283h10M146 284h10M147 285h10M149 286h10M150 287h10M155 288h6M162 290h1M162 291h2M163 292h2M164 293h2M165 294h2M166 295h2M167 296h2M168 297h2M169 298h1"/>
<path stroke="#ff8080" d="M194 22h2M161 35h2M140 36h4M160 36h3M176 36h3M140 37h4M160 37h2M176 37h4M142 38h2M162 38h2M177 38h4M142 39h2M162 39h2M177 39h4M162 40h4M177 40h1M162 41h4M164 42h2M164 43h2M72 44h2M122 44h2M73 45h2M122 45h2M75 46h2M69 47h1M76 47h2M70 48h2M78 48h2M72 49h2M80 49h2M73 50h2M81 50h2M75 51h2M83 51h2M76 52h2M84 52h2M78 53h2M86 53h2M80 54h2M84 54h4M92 54h1M81 55h2M84 55h4M92 55h1M218 55h1M84 56h4M92 56h1M216 56h1M84 57h4M92 57h1M216 59h1M90 61h4M90 62h4M154 62h2M224 62h1M90 63h4M148 63h1M154 63h2M147 64h2M146 65h2M212 65h1M143 66h1M145 66h2M142 67h1M144 67h2M141 68h1M143 68h2M219 68h1M140 69h1M142 69h2M139 70h1M141 70h2M138 71h1M140 71h2M139 72h2M193 77h1M188 86h1M182 89h1M92 90h1M92 91h1M80 92h2M80 93h2M81 100h3M81 101h3M81 102h3M46 106h2M46 107h2M62 108h2M85 108h1M62 109h1M131 109h1M132 112h1M132 113h1M132 114h1M132 115h1M46 116h2M90 116h2M46 117h2M93 118h1M93 119h1M34 120h2M93 120h2M35 121h1M62 121h1M94 121h2M61 122h2M94 122h2M60 123h2M64 123h1M96 123h1M59 124h2M63 124h1M96 124h2M58 125h2M62 125h1M65 125h2M96 125h2M57 126h2M61 126h2M64 126h2M97 126h2M56 127h2M60 127h2M63 127h2M98 127h2M55 128h2M59 128h2M62 128h2M98 128h2M54 129h2M58 129h2M61 129h2M99 129h2M53 130h2M57 130h2M60 130h2M100 130h2M52 131h2M56 131h2M59 131h2M100 131h2M51 132h2M55 132h2M58 132h2M101 132h2M51 133h1M54 133h2M58 133h1M102 133h2M50 134h1M53 134h2M57 134h1M102 134h2M49 135h1M52 135h2M56 135h1M103 135h2M48 136h1M51 136h2M55 136h1M104 136h2M47 137h1M50 137h2M54 137h1M104 137h2M49 138h2M53 138h1M105 138h2M49 139h1M52 139h1M106 139h2M51 140h2M106 140h2M51 141h1M107 141h2M108 142h2M108 143h2M109 144h1M200 156h3M205 156h3M199 157h1M208 157h2M202 158h1M209 158h2M200 159h1M204 159h2M210 159h1M199 160h1M205 160h2M211 160h1M195 161h1M199 161h1M205 161h2M195 162h1M200 162h1M204 162h2M226 162h2M195 163h1M202 163h1M226 163h4M226 164h2M194 165h1M226 165h2M194 166h1M194 167h1M194 168h1M220 168h2M220 169h2M195 170h1M195 171h1M196 172h1M212 172h1M196 173h1M211 173h1M197 174h1M210 174h1M214 174h4M198 175h1M209 175h1M214 175h4M199 176h2M208 176h1M214 176h6M224 176h2M201 177h7M215 177h5M224 177h2M216 178h1M218 178h2M216 179h2M219 179h1M217 180h2M218 181h2M212 182h2M219 182h2M213 183h2M220 183h2M214 184h2M221 184h2M232 184h2M32 185h1M215 185h2M222 185h2M232 185h2M31 186h2M216 186h2M223 186h2M226 186h4M30 187h2M217 187h2M224 187h2M227 187h3M29 188h2M219 188h1M225 188h2M236 188h2M28 189h2M220 189h1M226 189h2M236 189h2M27 190h2M221 190h1M227 190h2M260 190h1M26 191h2M222 191h1M228 191h2M260 191h2M25 192h2M223 192h1M229 192h2M254 192h4M260 192h6M25 193h1M224 193h1M230 193h2M254 193h4M260 193h6M24 194h1M220 194h2M225 194h1M231 194h2M254 194h6M264 194h2M23 195h1M220 195h2M226 195h1M232 195h2M254 195h6M264 195h2M22 196h1M221 196h1M227 196h1M233 196h2M254 196h8M264 196h2M228 197h1M255 197h7M229 198h1M258 198h2M230 199h1M250 200h2M250 201h2M256 204h4M256 205h4M26 206h2M256 206h4M26 207h2M256 207h4M228 209h1M228 210h1M262 210h1M226 211h1M229 211h1M242 211h1M262 211h2M25 212h5M227 212h1M241 212h3M25 213h5M228 213h1M242 213h2M20 214h2M25 214h5M207 214h1M228 214h1M243 214h2M254 214h2M25 215h5M208 215h1M229 215h1M244 215h2M254 215h2M25 216h6M209 216h1M244 216h3M252 216h6M26 217h5M210 217h1M245 217h2M252 217h6M26 218h5M211 218h1M246 218h2M26 219h5M150 219h1M212 219h1M247 219h2M26 220h4M151 220h1M213 220h1M247 220h3M26 221h1M152 221h1M214 221h1M248 221h2M153 222h1M215 222h1M249 222h2M258 222h2M154 223h1M216 223h1M235 223h1M239 223h1M259 223h2M155 224h1M217 224h1M236 224h1M260 224h2M156 225h1M218 225h1M237 225h1M262 225h1M157 226h1M219 226h1M263 226h2M158 227h1M220 227h1M264 227h2M159 228h1M221 228h1M265 228h2M160 229h1M266 229h2M161 230h1M162 231h1M163 232h1M164 233h1M165 234h1M166 235h1M167 236h1M168 237h1M169 238h1M65 239h2M170 239h1M171 240h1M172 241h1M98 244h1M97 245h1M96 246h1M96 247h1M95 248h1M94 249h1M94 250h1M103 250h1M93 251h1M104 251h1M92 252h1M105 252h1M106 253h1M107 254h1M108 255h1M114 255h1M109 256h1M115 256h1M110 257h1M116 257h1M117 258h1M118 259h1M119 260h1M120 261h1M121 262h1M122 263h1M123 264h1M190 264h1M124 265h1M191 265h1M125 266h1M192 266h1M126 267h1M189 267h1M193 267h1M127 268h1M190 268h1M128 269h1M191 269h1M129 270h1M191 270h1M130 271h1M192 271h1M131 272h1M193 272h1M132 273h1M194 273h1M133 274h1M195 274h1M134 275h1M196 275h1M197 276h1M201 276h1M198 277h1M202 277h1M199 278h1M203 278h1M200 279h1M204 279h1M201 280h1M205 280h1M131 281h1M178 281h1M202 281h1M131 282h2M175 282h7M203 282h1M132 283h2M174 283h2M181 283h2M203 283h1M133 284h2M173 284h2M182 284h2M204 284h1M134 285h2M173 285h1M183 285h1M205 285h1M135 286h2M172 286h2M183 286h2M206 286h1M136 287h2M172 287h1M184 287h1M207 287h1M137 288h2M172 288h1M184 288h1M208 288h1M172 289h1M184 289h1M209 289h1M172 290h1M184 290h1M210 290h1M173 291h1M183 291h1M211 291h1M173 292h1M183 292h1M174 293h1M182 293h1M175 294h2M180 294h2M177 295h3"/>
<path stroke="#ffff00" d="M163 22h2M163 23h2M90 27h1M159 34h2M154 41h3M153 42h6M151 43h5M158 43h1M151 44h5M158 44h1M151 45h3M158 45h1M151 46h3M156 46h3M151 47h3M156 47h3M151 48h3M156 48h3M151 49h1M155 49h4M112 50h1M155 50h3M113 51h1M154 51h2M111 52h1M114 52h1M112 53h1M115 53h1M113 54h1M116 54h1M156 54h1M114 55h1M155 55h2M115 56h1M154 56h2M116 57h1M153 57h2M117 58h1M152 58h2M118 59h1M151 59h2M119 60h1M150 60h2M120 61h1M149 61h2M121 62h1M148 62h2M122 63h1M123 64h1M124 65h1M125 66h1M126 67h1M127 68h1M128 69h1M129 70h1M130 71h2M134 71h1M131 72h2M134 72h2M132 73h2M135 73h2M133 74h2M134 75h1M167 86h2M166 87h3M166 88h2M165 89h2M164 90h2M163 91h2M162 92h2M161 93h2M141 94h1M161 94h2M140 95h1M160 95h2M139 96h1M159 96h2M138 97h1M158 97h2M137 98h1M157 98h2M156 99h2M90 100h2M155 100h3M90 101h2M116 101h3M156 101h1M90 102h2M116 102h3M264 102h1M140 105h1M140 106h1M141 109h1M141 110h1M141 111h1M141 112h1M142 115h1M142 116h1M142 117h1M143 122h1M285 143h2M285 144h4M41 145h1M45 145h1M287 145h2M40 146h1M44 146h1M39 147h1M43 147h1M80 147h2M38 148h1M42 148h1M37 149h1M41 149h1M232 149h1M36 150h1M40 150h1M231 150h1M35 151h1M39 151h1M229 151h2M34 152h1M38 152h1M228 152h1M33 153h1M37 153h1M227 153h1M32 154h1M36 154h1M225 154h2M31 155h1M35 155h1M224 155h2M30 156h1M34 156h1M223 156h1M29 157h1M33 157h1M222 157h1M32 158h1M220 158h2M31 159h1M219 159h2M218 160h1M216 161h2M215 162h2M214 163h1M213 164h3M101 165h1M212 165h4M102 166h1M103 167h1M281 167h2M104 168h1M224 168h2M281 168h2M105 169h1M224 169h2M106 170h1M228 170h2M232 170h2M107 171h1M228 171h2M232 171h2M108 172h1M109 173h1M110 174h1M111 175h1M281 175h2M112 176h1M220 176h2M281 176h2M112 177h2M220 177h2M113 178h2M114 179h2M215 179h1M115 180h2M216 180h1M116 181h2M213 181h1M217 181h1M117 182h2M214 182h1M218 182h1M118 183h2M215 183h1M219 183h1M119 184h2M216 184h1M220 184h1M120 185h2M217 185h1M221 185h1M80 186h2M121 186h2M218 186h1M222 186h1M122 187h2M171 187h1M219 187h1M223 187h1M123 188h2M172 188h1M220 188h1M224 188h1M173 189h1M221 189h1M225 189h1M174 190h1M222 190h1M226 190h1M230 190h6M175 191h1M223 191h1M227 191h1M231 191h5M176 192h1M224 192h1M228 192h1M177 193h1M225 193h1M229 193h1M178 194h1M226 194h1M230 194h1M179 195h1M227 195h1M231 195h1M180 196h1M228 196h1M232 196h1M181 197h1M229 197h1M233 197h1M182 198h1M230 198h1M183 199h1M231 199h1M184 200h1M185 201h1M219 201h1M186 202h1M220 202h1M233 202h1M235 202h1M187 203h1M220 203h1M234 203h1M236 203h1M188 204h1M221 204h1M237 204h1M189 205h1M222 205h1M235 205h1M238 205h1M190 206h1M223 206h1M236 206h1M239 206h1M191 207h1M224 207h1M237 207h1M192 208h1M225 208h1M238 208h1M240 208h1M261 208h1M193 209h1M239 209h1M241 209h1M262 209h1M194 210h1M226 210h1M263 210h1M195 211h1M227 211h1M264 211h1M196 212h1M228 212h1M265 212h1M197 213h1M229 213h1M266 213h1M198 214h1M229 214h1M266 214h2M122 215h1M199 215h1M267 215h1M200 216h1M91 217h1M100 217h15M201 217h1M127 218h1M202 218h1M88 219h1M129 219h1M203 219h1M87 220h1M131 220h1M85 221h1M84 222h1M134 222h1M136 223h1M236 223h1M29 224h2M237 224h1M29 225h2M27 226h3M27 227h3M38 228h2M38 229h2M90 239h1M89 240h1M259 242h2M259 243h2M62 247h2M102 251h1M103 252h1M104 253h1M105 254h1M106 255h1M107 256h1M108 257h1M109 258h1M107 261h1M107 262h2M108 263h2M109 264h2M110 265h2M111 266h2M92 267h1M112 267h2M113 268h2M211 268h2M114 269h2M211 269h2M115 270h2M211 270h2M116 271h2M211 271h2M117 272h2M211 272h2M117 273h3M211 273h2M117 274h4M146 274h1M211 274h3M116 275h6M146 275h2M210 275h4M116 276h7M134 276h2M147 276h3M211 276h3M116 277h8M134 277h3M149 277h2M211 277h3M117 278h8M132 278h2M135 278h3M150 278h3M211 278h4M119 279h3M124 279h2M132 279h3M136 279h3M151 279h3M211 279h5M120 280h2M125 280h2M133 280h3M137 280h3M153 280h2M211 280h6M126 281h2M134 281h3M138 281h3M154 281h3M211 281h6M127 282h1M135 282h3M139 282h2M156 282h2M212 282h4M136 283h3M157 283h3M212 283h2M137 284h3M158 284h3M212 284h1M138 285h3M160 285h2M139 286h1M161 286h1"/>
<path stroke="#ffa800" d="M88 30h2M204 30h2M88 31h2M204 31h2M178 32h2M182 32h3M178 33h8M229 33h1M156 34h2M177 34h9M229 34h1M156 35h2M177 35h9M229 35h2M179 36h7M230 36h2M180 37h5M231 37h2M181 38h3M232 38h1M182 39h1M232 39h2M233 40h2M240 40h1M234 41h2M241 41h1M234 42h2M242 42h2M156 43h2M235 43h2M242 43h2M71 44h1M156 44h2M236 44h2M243 44h2M71 45h2M156 45h2M237 45h1M239 45h2M244 45h2M71 46h4M237 46h4M72 47h4M238 47h2M241 47h2M74 48h4M114 48h1M239 48h4M76 49h4M114 49h3M240 49h3M77 50h4M115 50h3M79 51h4M116 51h3M80 52h4M117 52h3M82 53h4M118 53h3M155 53h1M119 54h3M154 54h2M120 55h3M153 55h2M121 56h3M152 56h2M122 57h3M151 57h2M123 58h3M150 58h2M124 59h3M149 59h2M125 60h3M148 60h2M126 61h3M147 61h2M127 62h3M128 63h3M129 64h3M95 65h2M130 65h3M131 66h3M132 67h3M133 68h3M134 69h3M135 70h2M136 71h2M137 72h1M188 79h1M188 80h1M188 81h1M167 85h1M166 86h1M165 87h1M169 87h1M165 88h1M168 88h1M164 89h1M167 89h1M163 90h1M166 90h1M162 91h1M165 91h1M161 92h1M164 92h1M160 93h1M163 93h2M160 94h1M163 94h1M135 95h1M159 95h1M162 95h1M134 96h1M158 96h1M161 96h1M157 97h1M160 97h1M156 98h1M159 98h1M155 99h1M158 99h1M92 100h2M158 100h1M92 101h2M157 101h1M92 102h2M269 103h1M266 105h1M135 106h1M265 106h1M135 107h1M135 108h1M147 110h1M64 113h1M62 114h1M60 115h1M148 116h1M137 118h1M137 119h1M137 120h1M80 137h2M80 138h2M80 139h2M43 145h2M42 146h2M41 147h2M230 147h2M40 148h2M229 148h3M39 149h2M227 149h3M233 149h1M38 150h2M226 150h3M232 150h2M37 151h2M225 151h3M231 151h3M36 152h2M224 152h2M229 152h3M35 153h2M222 153h3M228 153h3M34 154h2M221 154h3M227 154h3M33 155h2M220 155h3M226 155h3M32 156h2M218 156h3M224 156h3M31 157h2M217 157h3M223 157h3M30 158h2M80 158h2M216 158h3M222 158h3M30 159h1M80 159h2M215 159h3M221 159h3M213 160h3M219 160h2M212 161h3M218 161h1M211 162h3M218 162h2M215 163h1M218 163h2M224 166h2M228 166h2M224 167h2M228 167h2M226 168h2M230 168h2M226 169h2M230 169h2M230 170h2M230 171h2M282 178h2M282 179h2M80 184h2M80 185h2M80 189h2M80 199h2M80 200h2M16 203h1M28 206h2M28 207h2M261 207h2M262 208h2M263 209h1M264 210h1M265 211h1M30 212h2M266 212h1M30 213h2M267 213h1M30 214h2M80 214h2M268 214h1M30 215h2M80 215h2M80 216h2M150 218h2M151 219h2M30 220h2M104 220h9M152 220h2M27 221h1M30 221h2M123 221h1M153 221h2M154 222h2M260 222h2M31 223h2M126 223h1M155 223h2M261 223h2M31 224h2M128 224h1M156 224h2M262 224h2M130 225h1M157 225h2M263 225h2M158 226h2M265 226h1M133 227h1M159 227h2M266 227h2M160 228h2M267 228h2M161 229h2M162 230h2M163 231h2M164 232h2M165 233h2M166 234h2M167 235h2M168 236h2M169 237h2M170 238h2M171 239h2M172 240h2M172 243h1M171 244h1M80 245h2M170 245h1M80 246h2M169 246h1M80 247h2M168 247h1M167 248h1M166 249h1M101 251h1M102 252h1M103 253h1M104 254h1M105 255h1M106 256h1M150 256h2M107 257h1M150 257h2M108 258h1M150 258h2M80 260h2M91 263h1M80 264h2M80 265h2M95 270h1M147 273h1M147 274h2M135 275h2M148 275h3M136 276h3M150 276h2M133 277h1M137 277h3M151 277h3M134 278h1M138 278h4M153 278h2M131 279h1M135 279h1M139 279h3M154 279h2M130 280h3M136 280h1M140 280h2M155 280h3M129 281h2M132 281h2M137 281h1M157 281h2M108 282h2M129 282h2M133 282h2M138 282h1M158 282h3M108 283h2M129 283h3M134 283h2M139 283h3M160 283h2M208 283h2M98 284h2M129 284h4M135 284h2M140 284h4M161 284h2M208 284h2M98 285h2M129 285h5M136 285h2M141 285h3M162 285h1M129 286h6M137 286h2M140 286h4M130 287h6M138 287h6M131 288h6M139 288h5M139 289h5M138 300h2M138 301h2"/>
<path stroke="#e000c8" d="M192 16h2M192 17h2M132 18h2M190 18h2M131 19h4M190 19h2M130 20h6M190 20h2M129 21h8M190 21h2M129 22h9M190 22h2M128 23h9M190 23h2M94 24h2M127 24h9M94 25h2M126 25h9M102 26h2M125 26h9M102 27h2M124 27h10M124 28h9M204 28h2M123 29h9M204 29h2M82 30h2M101 30h1M110 30h1M122 30h9M82 31h2M101 31h1M110 31h1M124 31h2M129 31h1M76 32h2M86 32h2M120 32h4M126 32h2M76 33h2M86 33h2M120 33h4M126 33h2M94 34h2M122 34h4M94 35h2M122 35h4M80 36h4M80 37h4M218 42h2M218 43h2M211 56h1M213 56h1M208 59h2M212 60h1M210 62h1M213 66h1M227 66h1M226 67h1M216 68h1M228 69h1M110 70h2M218 70h1M110 71h4M108 72h5M107 73h5M125 73h2M106 74h5M124 74h4M105 75h5M123 75h4M104 76h5M122 76h4M103 77h5M121 77h4M102 78h5M120 78h4M227 78h4M102 79h4M119 79h4M223 79h9M101 80h4M118 80h4M218 80h15M100 81h4M117 81h4M217 81h17M99 82h5M116 82h4M217 82h19M98 83h5M115 83h4M218 83h19M97 84h5M114 84h4M218 84h20M96 85h5M113 85h4M219 85h20M70 86h1M95 86h5M112 86h4M219 86h3M223 86h15M70 87h1M94 87h5M111 87h4M219 87h2M224 87h14M94 88h4M110 88h4M224 88h13M95 89h2M109 89h4M225 89h12M46 90h2M108 90h4M226 90h10M46 91h2M107 91h4M227 91h9M106 92h4M228 92h7M106 93h3M234 93h1M48 94h2M107 94h1M48 95h2M48 98h2M58 98h2M253 98h1M48 99h2M58 99h2M240 99h2M252 99h2M258 102h2M258 103h2M234 104h2M234 105h2M210 106h2M229 106h1M240 106h2M210 107h2M229 107h1M240 107h2M248 110h2M248 111h2M220 114h2M220 115h2M224 116h2M224 117h2M244 118h2M244 119h2M212 120h2M226 120h2M212 121h2M226 121h2M210 122h2M232 122h2M210 123h2M232 123h2M226 126h2M226 127h2M170 128h2M170 129h2M226 134h2M248 134h2M226 135h2M248 135h2M16 163h1M15 164h1M24 164h1M25 165h1M26 166h1M27 168h1M27 169h1M28 172h1M60 172h1M28 173h1M58 173h6M28 174h1M57 174h8M56 175h9M56 176h10M55 177h1M58 177h2M62 177h2M65 177h1M27 178h1M55 178h1M58 178h6M65 178h2M27 179h1M55 179h1M58 179h6M65 179h2M56 180h2M60 180h2M64 180h3M26 181h1M56 181h2M60 181h2M64 181h3M25 182h1M54 182h13M24 183h1M54 183h13M23 184h1M54 184h10M66 184h1M54 185h10M66 185h1M55 186h1M58 186h9M55 187h1M58 187h9M55 188h12M55 189h11M56 190h2M60 190h4M270 190h1M56 191h2M60 191h4M270 191h1M57 192h8M58 193h6M59 194h3M270 196h1M270 197h1M54 202h7M53 203h10M52 204h12M51 205h14M51 206h14M51 207h14M51 208h14M51 209h14M52 210h12M54 211h8M162 211h2M162 212h3M163 213h3M155 214h2M164 214h3M154 215h4M165 215h3M155 216h4M166 216h3M155 217h5M167 217h3M156 218h5M168 218h3M157 219h5M169 219h3M158 220h5M170 220h3M159 221h5M171 221h3M160 222h5M172 222h3M161 223h5M173 223h3M162 224h5M174 224h3M163 225h5M175 225h3M164 226h5M176 226h3M165 227h5M177 227h3M166 228h5M178 228h3M167 229h5M179 229h3M168 230h5M180 230h3M169 231h5M181 231h5M170 232h5M182 232h5M188 232h1M171 233h5M183 233h7M172 234h5M184 234h7M173 235h5M185 235h7M173 236h6M186 236h7M172 237h8M187 237h7M173 238h8M186 238h9M174 239h8M185 239h11M174 240h9M184 240h13M174 241h24M60 242h2M175 242h24M60 243h2M176 243h23M177 244h23M178 245h22M179 246h22M181 247h20M182 248h20M183 249h19M184 250h19M186 251h17M187 252h17M188 253h15M189 254h12M191 255h9M192 256h6M193 257h4M194 258h1M90 262h2M90 263h1M84 264h2M74 269h2M92 271h2M115 277h1M114 278h1M113 279h1M82 280h2M111 280h1M82 281h2M110 281h1M96 282h2M96 283h2M104 284h2M104 285h2M110 288h2M122 288h2M110 289h2M122 289h2M140 290h2M140 291h2"/>
<path stroke="#ff50e0" d="M181 61h2M180 62h4M178 63h4M177 64h4M176 65h4M174 66h4M173 67h4M171 68h4M170 69h4M169 70h4M167 71h4M166 72h4M165 73h4M163 74h4M162 75h4M161 76h4M159 77h4M160 78h2M222 86h1M221 87h3M222 88h2M219 89h2M223 89h2M220 90h2M224 90h2M221 91h2M225 91h2M222 92h2M226 92h2M223 93h2M227 93h2M224 94h2M228 94h2M225 95h2M229 95h2M225 96h3M230 96h2M226 97h3M231 97h2M227 98h3M232 98h2M228 99h3M233 99h1M229 100h3M230 101h2M189 111h1M189 112h1M226 112h1M188 113h1M225 113h1M187 114h1M232 114h1M186 115h1M231 115h2M186 116h1M222 116h2M230 116h2M221 117h2M229 117h2M220 118h2M228 118h2M183 119h1M219 119h2M227 119h2M218 120h2M218 121h1M225 121h1M181 122h1M224 122h2M223 123h3M222 124h3M221 125h3M220 126h3M219 127h3M218 128h3M243 128h2M217 129h3M242 129h4M216 130h3M241 130h5M216 131h2M241 131h5M215 132h2M241 132h3M241 133h3M241 134h3M241 135h3M242 136h4M49 151h2M49 152h1M48 153h1M47 154h2M46 155h2M45 156h2M44 157h2M43 158h2M42 159h2M41 160h2M40 161h2M39 162h2M39 163h1M38 164h1M37 165h2M36 166h2M36 167h1M9 168h2M9 169h2M259 175h2M259 176h3M260 177h3M261 178h3M262 179h2M263 180h2M263 181h3M264 182h3M265 183h3M266 184h2M267 185h1M33 186h1M179 186h1M32 187h2M180 187h1M31 188h2M181 188h1M30 189h2M182 189h1M29 190h2M183 190h1M28 191h2M184 191h1M27 192h2M185 192h1M26 193h2M186 193h1M25 194h2M187 194h1M24 195h2M188 195h1M23 196h2M189 196h1M23 197h1M190 197h1M191 198h1M192 199h1M193 200h1M194 201h1M195 202h1M196 203h1M197 204h1M198 205h1M199 206h1M200 207h1M201 208h1M227 208h1M156 209h1M202 209h1M157 210h1M203 210h1M158 211h1M204 211h1M159 212h1M205 212h1M212 212h1M160 213h1M206 213h1M213 213h1M161 214h1M214 214h1M162 215h1M215 215h1M152 216h1M163 216h1M216 216h1M152 217h2M164 217h1M217 217h1M153 218h2M165 218h1M218 218h1M154 219h2M166 219h1M219 219h1M155 220h2M167 220h1M220 220h1M156 221h2M168 221h1M221 221h1M157 222h2M169 222h1M222 222h1M158 223h2M170 223h1M223 223h1M159 224h2M171 224h1M224 224h1M160 225h2M172 225h1M225 225h1M161 226h2M173 226h1M226 226h1M162 227h2M174 227h1M163 228h2M175 228h1M164 229h2M176 229h1M165 230h2M177 230h1M166 231h2M178 231h1M167 232h2M179 232h1M168 233h2M180 233h1M169 234h2M181 234h1M170 235h2M182 235h1M171 236h2M183 236h1M184 237h1M185 238h1M148 258h2M148 259h2M101 262h1"/>
<path stroke="#ff7878" d="M217 58h1M211 61h1M230 65h1M220 66h1M188 72h1M190 73h1M196 74h1M184 76h1M199 78h1M183 87h1M196 87h1M186 88h1M51 108h1M72 108h3M76 108h2M88 108h2M104 108h2M51 109h1M72 109h3M76 109h2M88 109h2M104 109h2M72 110h3M88 110h2M92 114h1M92 115h1M42 116h2M48 116h1M92 116h1M42 117h2M48 117h2M93 117h2M34 118h2M94 118h1M108 118h2M34 119h2M94 119h2M108 119h2M40 120h2M54 120h2M95 120h2M40 121h2M54 121h2M96 121h2M96 122h2M97 123h2M98 124h2M98 125h2M42 126h3M68 126h1M99 126h2M42 127h3M67 127h1M100 127h2M42 128h3M100 128h2M101 129h2M102 130h2M102 131h2M103 132h2M104 133h2M104 134h2M105 135h2M106 136h2M106 137h2M107 138h2M108 139h2M58 140h1M108 140h2M109 141h2M110 142h2M110 143h1M200 155h8M198 156h2M208 156h2M197 157h2M210 157h1M196 158h2M211 158h1M196 159h1M201 159h3M211 159h2M195 160h1M200 160h2M204 160h1M200 161h2M204 161h1M194 162h1M201 162h3M194 163h1M194 164h1M194 169h1M194 170h1M194 171h1M195 172h1M195 173h1M212 173h1M196 174h1M211 174h1M197 175h1M210 175h2M198 176h1M209 176h2M199 177h2M208 177h1M201 178h6M20 206h2M20 207h2M97 246h1M95 249h1M93 252h1M189 268h1M194 268h1M190 269h1M195 269h1M190 270h1M196 270h1M191 271h1M197 271h1M192 272h1M198 272h1M193 273h1M194 274h1M195 275h1M196 276h1M197 277h1M198 278h1M199 279h1M176 280h5M200 280h1M174 281h4M179 281h4M201 281h1M206 281h1M173 282h2M182 282h2M202 282h1M207 282h1M173 283h1M183 283h1M202 283h1M172 284h1M184 284h1M203 284h1M172 285h1M184 285h1M204 285h1M210 285h1M171 286h1M185 286h1M205 286h1M171 287h1M185 287h1M206 287h1M165 288h1M171 288h1M185 288h1M207 288h1M166 289h1M171 289h1M185 289h1M208 289h1M167 290h1M171 290h1M185 290h1M209 290h1M168 291h1M171 291h2M184 291h3M210 291h1M169 292h1M172 292h1M184 292h1M187 292h1M170 293h1M172 293h2M183 293h2M188 293h1M171 294h1M173 294h2M182 294h2M189 294h1M172 295h1M174 295h3M180 295h3M190 295h1M173 296h1M176 296h5M191 296h1M192 297h1M176 300h1"/>
<path stroke="#ff4040" d="M150 30h4M141 31h1M150 31h4M140 32h2M140 33h2M140 34h6M140 35h6M137 36h3M144 36h2M158 36h2M163 36h1M137 37h3M144 37h2M158 37h2M162 37h2M137 38h5M144 38h2M160 38h2M164 38h2M137 39h5M144 39h2M160 39h2M164 39h2M160 40h2M160 41h2M120 42h4M162 42h2M166 42h1M120 43h4M162 43h2M166 43h1M119 50h1M220 56h1M221 57h1M215 66h1M218 67h1M183 75h1M199 77h1M173 84h1M177 88h1M182 90h1M56 105h2M88 105h2M96 106h1M97 107h1M97 108h1M75 112h1M75 113h1M101 114h2M102 115h1M105 120h2M106 121h1M63 122h1M107 122h1M62 123h2M107 123h2M61 124h2M64 124h2M108 124h1M60 125h2M63 125h2M109 125h1M38 126h2M59 126h2M63 126h1M109 126h2M39 127h1M58 127h2M62 127h1M110 127h1M57 128h2M61 128h1M111 128h1M56 129h2M60 129h1M111 129h2M55 130h2M59 130h1M112 130h1M54 131h2M58 131h1M113 131h1M53 132h2M57 132h1M113 132h2M52 133h2M56 133h2M114 133h1M51 134h2M55 134h2M115 134h1M50 135h2M54 135h2M115 135h2M49 136h2M53 136h2M116 136h1M48 137h2M52 137h2M117 137h1M48 138h1M51 138h2M50 139h2M50 140h1M214 155h1M215 156h1M190 161h1M224 164h2M189 165h1M224 165h2M189 166h1M214 166h4M220 166h2M232 166h2M189 167h1M214 167h4M220 167h2M232 167h2M232 168h2M232 169h2M220 170h2M220 171h2M226 176h2M226 177h2M224 178h2M224 179h2M212 180h1M211 181h1M198 182h1M209 182h1M232 182h2M201 183h6M232 183h2M226 184h4M234 184h2M226 185h4M234 185h2M236 186h2M236 187h2M214 190h2M215 191h1M219 194h1M234 194h2M235 195h1M28 222h2M28 223h2M99 248h1M97 251h1M192 263h1M193 264h1M194 265h1M195 266h1M196 267h1M187 272h1M188 273h1M189 274h1M190 275h1M191 276h1M204 276h1M181 277h1M192 277h1M205 277h1M182 278h1M193 278h1M206 278h1M183 279h1M194 279h1M207 279h1M184 280h1M208 280h1M187 284h1M188 285h1M199 285h1M189 286h1M200 286h1M190 287h1M201 287h1M191 288h1M202 288h1M192 289h1M203 289h1M193 290h1M204 290h1M194 291h1M205 291h1M195 292h1M206 292h1M196 293h1"/>
<path stroke="#f800a8" d="M254 106h2M254 107h2M190 110h2M190 111h2M176 112h2M176 113h2M170 126h2M170 127h2M170 130h2M170 131h2M170 134h2M18 165h4M17 166h2M21 166h2M16 167h1M23 167h1M15 168h1M24 168h1M15 169h1M24 169h1M14 170h1M25 170h1M14 171h1M25 171h1M14 172h1M25 172h1M14 173h1M25 173h1M14 174h1M25 174h1M14 175h1M25 175h1M14 176h1M25 176h1M14 177h1M25 177h1M56 177h2M15 178h1M24 178h1M15 179h1M24 179h1M16 180h1M23 180h1M17 181h2M21 181h2M19 182h2M251 190h1M251 191h1M44 194h2M266 194h2M44 195h2M266 195h2M262 196h2M262 197h2M222 200h15M223 201h15M224 202h9M236 202h2M225 203h9M237 203h1M226 204h9M208 205h2M227 205h8M209 206h2M228 206h8M209 207h4M229 207h8M209 208h5M230 208h8M210 209h6M231 209h4M238 209h1M210 210h7M238 210h1M211 211h1M214 211h4M238 211h2M215 212h4M239 212h1M216 213h4M226 213h2M239 213h2M212 214h1M217 214h4M227 214h1M239 214h2M212 215h2M218 215h4M228 215h1M240 215h1M213 216h2M219 216h4M229 216h1M213 217h3M220 217h4M242 217h2M214 218h3M221 218h4M239 218h1M215 219h3M222 219h4M239 219h1M216 220h3M223 220h4M239 220h5M217 221h3M224 221h4M232 221h1M239 221h5M218 222h3M225 222h4M231 222h2M240 222h4M219 223h3M226 223h9M240 223h3M221 224h2M227 224h9M239 224h4M222 225h2M228 225h9M238 225h3M224 226h1M227 226h9M227 227h4M74 238h1M74 239h1M70 242h2M70 243h2M82 254h2M82 255h2M94 256h2M94 257h2M100 258h1M100 259h1M96 262h2M96 263h2M109 266h2M108 267h4M106 268h6M105 269h5M104 270h5M94 271h2M102 271h6M101 272h5M100 273h5M101 274h3M88 275h2M101 275h1M74 276h2M98 276h2M74 277h2M98 277h2M76 278h2M76 279h2M112 284h2M112 285h2M118 288h2M118 289h2M102 290h2M102 291h2M112 292h2M140 292h2M112 293h2M140 293h2M142 296h2M142 297h2M130 300h2M130 301h2"/>
<path stroke="#ff0088" d="M186 23h2M184 24h2M184 25h2M178 26h6M178 27h6M110 28h1M173 28h7M110 29h1M173 29h7M173 30h3M202 30h2M208 30h1M173 31h3M202 31h2M208 31h1M173 32h3M206 32h3M173 33h3M75 34h1M75 35h1M76 36h2M77 37h1M92 38h2M216 40h2M216 41h2M124 42h2M130 42h2M138 42h2M216 42h2M124 43h2M130 43h2M138 43h2M216 43h2M61 44h1M138 44h2M61 45h1M138 45h2M188 73h1M179 75h1M179 77h1M179 78h1M198 79h1M176 84h1M184 87h1M186 87h1M176 89h1M183 90h1M176 91h1M44 94h4M44 95h4M44 96h2M44 97h2M258 104h2M38 105h2M258 105h2M50 106h2M72 106h2M176 106h2M230 106h2M236 106h2M50 107h2M72 107h2M176 107h2M230 107h2M236 107h2M46 108h2M229 108h1M236 108h2M46 109h2M229 109h1M76 110h2M252 110h2M76 111h2M252 111h2M266 112h4M266 113h4M58 114h1M238 114h2M244 114h2M270 114h1M58 115h1M238 115h2M244 115h2M270 115h1M184 116h2M244 116h2M250 116h2M184 117h2M244 117h2M250 117h2M56 122h2M70 122h2M228 122h4M56 123h2M228 123h4M182 124h2M209 124h3M182 125h2M209 125h3M212 126h2M212 127h2M212 128h2M222 128h2M238 128h2M212 129h2M222 129h2M238 129h2M209 130h1M226 130h2M248 130h2M209 131h1M226 131h2M248 131h2M209 132h1M212 132h2M220 132h2M226 132h2M248 132h2M209 133h1M212 133h2M220 133h2M226 133h2M248 133h2M238 142h4M238 143h4M242 144h4M242 145h4M19 169h2M18 170h1M21 170h1M17 171h1M22 171h1M22 175h1M17 176h1M22 176h1M18 177h1M21 177h1M19 178h2M258 185h2M42 188h2M256 188h2M42 189h2M256 189h2M58 190h2M262 190h2M58 191h2M262 191h2M32 238h2M32 239h2M40 240h2M40 241h2M86 256h2M86 257h2M88 262h2M92 262h2M88 263h2M102 288h2M102 289h2M120 296h2M120 297h2M124 300h2M125 301h1"/>
<path stroke="#ff7070" d="M217 60h1M214 61h2M221 65h1M226 72h1M194 73h1M197 77h1M188 82h1M180 91h2M88 106h1M88 107h2M57 108h1M90 108h1M57 109h1M90 109h1M42 111h3M32 112h1M42 112h3M92 112h1M32 113h1M42 113h3M92 113h1M95 117h1M95 118h2M96 119h2M97 120h2M98 121h1M42 122h2M98 122h2M42 123h2M69 123h3M99 123h2M69 124h3M100 124h1M69 125h2M100 125h2M48 126h6M101 126h2M48 127h6M102 127h1M48 128h6M102 128h2M103 129h2M104 130h1M104 131h2M105 132h2M106 133h1M106 134h2M107 135h2M108 136h1M108 137h2M109 138h2M110 139h2M49 140h1M110 140h2M53 141h1M111 141h2M51 142h3M52 143h2M200 154h8M199 155h1M208 155h2M197 156h1M210 156h1M196 157h1M211 157h1M195 158h1M212 158h1M195 159h1M194 160h1M202 160h2M194 161h1M202 161h2M193 162h1M193 163h1M193 164h1M193 165h1M193 166h1M193 167h1M193 168h1M193 169h1M193 170h1M194 172h1M194 173h1M195 174h1M212 174h1M196 175h1M212 175h1M196 176h2M211 176h1M197 177h2M209 177h2M199 178h2M207 178h2M201 179h6M26 205h2M20 216h2M20 217h2M98 245h1M97 247h1M96 248h1M95 250h1M94 251h1M191 264h1M188 268h1M189 269h1M189 270h1M190 271h1M191 272h1M192 273h1M199 273h1M193 274h1M200 274h1M194 275h1M201 275h1M195 276h1M202 276h1M196 277h1M203 277h1M197 278h1M177 279h2M198 279h1M199 280h1M200 281h1M201 282h1M172 283h1M184 283h1M201 283h1M202 284h1M171 285h1M185 285h1M203 285h1M204 286h1M211 286h1M205 287h1M186 288h1M206 288h1M186 289h2M207 289h1M165 290h1M187 290h2M208 290h1M166 291h1M188 291h2M209 291h1M167 292h1M189 292h2M168 293h1M190 293h2M169 294h1M191 294h2M169 295h2M192 295h2M170 296h2M175 296h1M181 296h1M193 296h2M171 297h2M172 298h1M173 299h1M173 300h2"/>
<path stroke="#ff0060" d="M87 27h2M87 28h2M142 31h2M162 34h2M166 34h1M163 35h1M166 35h1M148 38h4M154 38h2M158 38h2M166 38h1M148 39h4M154 39h2M158 39h2M166 39h1M137 40h1M150 40h2M137 41h1M150 41h2M62 42h2M78 42h2M118 42h2M160 42h2M62 43h2M78 43h2M118 43h2M160 43h2M74 44h2M108 44h2M75 45h1M108 45h2M108 46h2M112 46h4M166 46h1M108 47h2M112 47h3M166 47h1M110 48h2M164 48h2M110 49h2M164 49h2M70 54h4M88 54h4M70 55h4M88 55h4M207 56h1M82 58h4M92 58h1M213 58h1M82 59h4M92 59h1M72 60h2M92 60h1M72 61h2M72 62h2M88 62h2M144 62h2M156 62h2M222 62h1M144 63h2M156 63h2M96 68h2M225 68h1M96 69h2M184 73h1M185 76h1M176 83h1M198 86h1M92 88h1M187 88h1M92 89h1M80 90h2M173 90h1M80 91h2M78 92h2M82 92h2M78 93h2M82 93h2M80 94h2M80 95h2M118 96h2M68 105h2M36 106h2M36 107h2M39 110h1M60 110h1M38 111h2M186 112h2M186 113h2M69 114h1M180 114h2M69 115h1M180 115h2M44 118h2M44 119h2M40 124h2M162 124h2M40 125h2M162 125h2M42 135h2M42 136h2M222 161h3M224 162h2M224 163h2M220 164h4M232 164h1M220 165h4M232 165h2M218 166h2M218 167h2M214 168h2M222 168h2M214 169h2M222 169h2M216 170h2M216 171h2M216 172h4M222 172h2M216 173h4M222 173h2M226 174h2M234 174h2M226 175h2M234 175h2M60 177h2M222 178h2M222 179h2M224 184h2M236 184h2M225 185h1M236 185h2M256 185h2M268 185h2M214 188h2M214 189h2M220 192h1M220 193h2M252 200h2M264 200h2M252 201h2M250 202h2M250 203h2M256 214h2M256 215h2M70 232h2M70 233h2M94 258h2M94 259h2M74 280h2M100 284h2M100 285h2M120 286h3M120 287h4M116 290h2M116 291h2M114 292h2M114 293h2M138 302h2M142 302h2"/>
<path stroke="#ff6868" d="M224 59h1M216 61h1M220 62h1M225 69h1M191 73h1M193 73h1M182 77h2M180 78h4M179 79h6M177 80h9M177 81h9M178 82h8M178 83h8M178 84h8M178 85h7M179 86h6M52 105h2M89 106h1M91 108h1M102 108h2M91 109h1M102 109h2M58 110h2M104 110h2M58 111h1M104 111h2M40 112h2M40 113h2M70 114h2M70 115h2M82 116h2M82 117h2M36 118h2M97 118h1M104 118h2M36 119h2M104 119h2M58 120h2M99 120h1M58 121h2M99 121h2M100 122h2M101 123h1M46 124h2M101 124h1M46 125h2M103 126h1M103 127h2M104 128h2M105 129h1M105 130h2M106 131h2M107 132h1M107 133h2M108 134h2M109 135h1M109 136h2M110 137h2M111 138h1M112 139h1M112 140h2M201 153h6M199 154h1M208 154h1M197 155h2M210 155h1M196 156h1M211 156h1M195 157h1M212 157h1M213 158h1M194 159h1M193 160h1M193 161h1M192 164h1M192 165h1M192 166h1M192 167h1M192 168h1M192 169h1M193 171h1M193 172h1M194 174h1M213 174h1M195 175h1M212 176h1M196 177h1M211 177h1M198 178h1M209 178h2M199 179h2M207 179h2M202 180h4M30 205h2M30 210h2M30 211h2M20 222h2M32 222h2M21 223h1M98 246h1M96 249h1M94 252h1M192 265h1M193 266h1M194 267h1M195 268h1M188 269h1M196 269h1M192 274h1M193 275h1M194 276h1M195 277h1M196 278h1M204 278h1M179 279h1M197 279h1M205 279h1M198 280h1M206 280h1M199 281h1M207 281h1M200 282h1M208 282h1M186 287h1M204 287h1M187 288h1M205 288h1M188 289h1M206 289h1M189 290h1M207 290h1M190 291h1M208 291h1M191 292h1M209 292h1M192 293h1M193 294h1M194 295h1M165 296h1M195 296h1M170 298h2M170 299h2"/>
<path stroke="#ff9090" d="M217 61h1M213 64h1M230 66h1M218 68h1M58 105h2M63 105h3M63 106h3M63 107h3M82 108h1M84 109h3M84 110h3M36 114h2M104 114h2M36 115h2M104 115h2M33 116h1M36 116h2M33 117h1M36 117h2M68 117h1M48 118h2M68 118h1M48 119h2M68 119h1M90 120h1M90 121h2M90 122h2M91 123h2M92 124h1M92 125h2M93 126h2M94 127h2M94 128h2M48 129h3M95 129h2M48 130h3M96 130h2M48 131h3M96 131h2M97 132h2M98 133h2M98 134h2M99 135h2M100 136h2M100 137h2M101 138h2M102 139h2M102 140h2M103 141h2M104 142h2M104 143h2M105 144h2M106 145h2M201 157h4M199 158h1M206 158h1M198 159h1M207 159h1M197 160h1M208 160h2M197 161h1M208 161h1M210 161h1M198 162h1M207 162h1M210 162h1M196 163h1M199 163h1M206 163h1M211 163h1M196 164h1M201 164h4M211 164h1M196 165h1M211 165h1M196 166h1M196 167h1M196 168h1M196 169h1M211 169h1M196 170h1M211 170h1M197 171h1M210 171h1M197 172h1M210 172h1M198 173h1M209 173h1M199 174h2M208 174h1M201 175h7M24 214h1M24 215h1M189 265h1M190 266h1M191 267h2M192 268h2M193 269h2M193 270h1M195 270h1M194 271h1M196 271h1M195 272h1M196 273h1M197 274h1M198 275h1M199 276h1M200 277h1M201 278h1M202 279h1M203 280h2M204 281h2M205 282h2M205 283h1M207 283h1M176 284h5M206 284h1M175 285h1M181 285h1M207 285h1M175 286h1M181 286h1M208 286h1M174 287h1M182 287h1M209 287h1M174 288h1M182 288h1M210 288h1M174 289h1M182 289h1M211 289h1M124 290h2M174 290h1M182 290h1M124 291h2M175 291h1M181 291h1M176 292h2M179 292h2M178 293h1M134 302h2"/>
<path stroke="#f000b8" d="M126 31h2M128 32h1M128 33h1M126 34h3M126 35h3M122 36h4M128 36h1M122 37h4M128 37h1M120 38h2M128 38h1M38 75h2M40 92h4M40 93h4M158 104h2M158 105h2M178 110h2M178 111h2M160 114h2M160 115h2M220 138h1M219 139h3M217 140h3M216 141h2M213 143h1M211 144h3M209 145h3M208 146h3M206 147h3M205 148h2M204 149h2M17 164h2M21 164h2M16 165h1M23 165h1M15 166h1M24 166h1M14 167h1M25 167h1M13 169h1M26 169h1M13 170h1M26 170h1M26 177h1M26 178h1M25 180h1M54 180h2M24 181h1M54 181h2M23 182h1M19 183h4M36 186h2M36 187h2M251 188h1M251 189h1M174 194h2M174 195h3M175 196h3M176 197h3M177 198h3M178 199h3M179 200h3M180 201h3M181 202h3M182 203h3M183 204h3M184 205h3M185 206h3M186 207h3M187 208h3M188 209h3M163 210h2M189 210h3M164 211h2M190 211h3M165 212h2M191 212h3M166 213h2M192 213h3M167 214h2M193 214h3M168 215h2M194 215h3M169 216h2M195 216h3M170 217h2M196 217h3M171 218h2M197 218h3M172 219h2M198 219h3M173 220h2M199 220h3M174 221h2M200 221h2M175 222h2M176 223h2M177 224h2M178 225h2M179 226h2M180 227h2M181 228h2M182 229h2M183 230h2M66 232h2M66 233h2M96 253h2M80 254h2M98 254h2M80 255h2M98 255h2M160 256h3M158 257h5M155 258h9M154 259h11M154 260h11M154 261h12M154 262h12M154 263h13M154 264h11M154 265h10M154 266h8M157 267h4M159 268h1M114 270h1M113 271h2M80 272h2M112 272h2M80 273h2M110 273h3M109 274h3M108 275h2M106 276h3M105 277h3M104 278h2M103 279h2M128 289h2M112 290h2M112 291h2M118 296h2M118 297h2"/>
<path stroke="#ff0010" d="M110 42h8M110 43h8M84 44h2M110 44h10M132 44h2M84 45h2M110 45h10M132 45h2M116 46h6M116 47h6M107 48h1M117 48h7M118 49h6M110 50h2M221 55h1M213 57h1M214 60h1M215 63h1M219 69h1M230 69h1M190 72h3M185 73h3M182 74h1M186 74h1M189 74h1M192 74h1M180 75h1M182 75h1M184 75h1M188 75h2M193 75h4M178 76h1M183 76h1M187 76h4M193 76h2M197 76h1M178 77h1M180 77h2M185 77h3M189 77h1M192 77h1M178 78h1M188 78h1M191 78h2M178 79h1M185 79h1M199 79h1M175 81h2M174 82h4M186 83h1M199 83h1M174 84h2M177 84h1M187 84h1M173 85h1M175 85h1M177 85h1M186 85h1M198 85h2M172 86h3M178 86h1M186 86h2M196 86h1M171 87h1M178 87h2M181 87h2M185 87h1M190 87h2M194 87h2M197 87h1M174 88h1M178 88h4M190 88h2M194 88h1M174 89h1M177 89h1M181 89h1M184 89h2M192 89h1M172 90h1M174 90h2M178 90h2M181 90h1M185 90h1M175 91h1M54 105h2M80 105h2M82 106h2M82 107h2M58 108h2M75 108h1M92 108h2M58 109h2M75 109h1M92 109h2M46 110h2M68 110h1M75 110h1M46 111h2M69 111h1M75 111h1M82 112h2M82 113h2M38 114h2M90 114h2M38 115h2M90 115h2M96 116h2M104 116h2M96 117h2M104 117h2M38 118h2M80 118h2M84 118h2M38 119h2M80 119h2M84 119h2M52 120h2M52 121h2M65 121h1M38 122h2M50 122h2M39 123h1M51 123h1M39 124h1M39 125h1M56 142h1M53 144h1M28 224h1M28 225h1M64 246h2M64 247h2M58 259h2M92 260h2M92 261h2M80 280h2M86 280h2M81 281h1M86 281h2M84 282h2M85 283h1"/>
<path stroke="#ff0098" d="M86 42h2M86 43h2M78 44h2M94 44h2M78 45h2M94 45h2M191 75h1M186 76h1M196 76h1M184 77h1M185 78h1M185 86h1M180 87h1M192 87h1M171 89h1M52 106h2M52 107h2M70 111h2M251 112h1M251 113h1M168 118h2M168 119h2M182 126h2M182 127h2M42 132h1M186 132h2M41 133h3M40 134h5M39 135h3M44 135h2M37 136h3M44 136h2M36 137h4M42 137h5M36 138h12M56 138h2M36 139h2M40 139h9M56 139h2M36 140h2M40 140h9M37 141h11M264 141h2M37 142h10M264 142h2M38 143h8M265 143h1M38 144h8M220 162h4M220 163h4M234 165h1M211 166h1M19 167h2M211 167h1M17 168h2M21 168h2M211 168h1M16 169h2M22 169h1M16 170h1M23 170h1M212 170h4M224 170h4M212 171h4M224 171h4M15 172h1M24 172h1M213 172h3M226 172h2M15 173h1M24 173h1M213 173h3M226 173h2M15 174h1M24 174h1M220 174h2M230 174h2M15 175h1M24 175h1M220 175h2M230 175h2M228 176h8M16 177h1M23 177h1M228 177h8M17 178h1M22 178h1M220 178h2M228 178h10M17 179h6M220 179h2M228 179h10M19 180h2M226 180h4M234 180h5M226 181h4M234 181h5M224 182h6M236 182h2M224 183h6M236 183h2M252 185h2M256 186h2M256 187h2M232 188h2M232 189h2M218 190h1M218 191h2M216 192h4M252 192h2M217 193h3M252 193h2M222 194h1M222 195h2M224 196h1M224 197h2M224 198h2M224 199h1M64 232h2M64 233h2M60 250h2M94 254h2M94 255h2M98 262h2M98 263h2M98 272h2M98 273h2M98 274h3M98 275h3M74 278h2M74 279h2M90 280h2M90 281h2M138 289h1M138 292h2M138 293h2M122 298h2M140 298h2M123 299h1M140 299h2"/>
<path stroke="#ff8888" d="M219 59h1M217 64h1M217 66h1M83 108h2M53 109h2M51 110h4M92 110h2M48 111h7M92 111h1M48 112h8M48 113h8M49 114h7M114 114h1M49 115h8M114 115h1M49 116h8M86 116h1M50 117h6M86 117h1M50 118h4M50 119h2M91 120h2M92 121h2M92 122h2M94 125h2M95 126h2M96 127h2M96 128h2M97 129h2M98 130h2M98 131h2M99 132h2M100 133h2M100 134h2M101 135h2M102 136h2M102 137h2M103 138h2M104 139h2M104 140h2M105 141h2M106 142h2M106 143h2M107 144h2M108 145h1M203 156h2M206 157h2M200 158h2M203 158h3M208 158h1M199 159h1M206 159h1M209 159h1M198 160h1M207 160h1M210 160h1M198 161h1M207 161h1M196 162h1M199 162h1M206 162h1M200 163h2M203 163h3M195 164h1M212 164h1M195 165h1M195 166h1M195 167h1M195 168h1M195 169h1M196 171h1M211 171h1M211 172h1M197 173h1M210 173h1M198 174h1M209 174h1M199 175h2M208 175h1M201 176h7M24 210h2M24 211h2M22 220h2M22 221h2M189 266h1M190 267h1M191 268h1M192 269h1M192 270h1M193 271h1M194 272h1M197 272h1M195 273h1M198 273h1M196 274h1M199 274h1M197 275h1M200 275h1M198 276h1M199 277h1M200 278h1M201 279h1M202 280h1M203 281h1M204 282h1M176 283h5M204 283h1M175 284h1M181 284h1M205 284h1M174 285h1M182 285h1M206 285h1M209 285h1M174 286h1M182 286h1M207 286h1M210 286h1M173 287h1M183 287h1M208 287h1M211 287h1M173 288h1M183 288h1M209 288h1M173 289h1M183 289h1M210 289h1M173 290h1M183 290h1M211 290h1M174 291h1M182 291h1M174 292h2M181 292h2M175 293h3M179 293h3M177 294h3"/>
<path stroke="#ff9898" d="M209 55h1M217 56h1M209 57h1M215 57h1M213 60h1M215 60h1M225 61h1M215 62h1M211 64h1M222 72h1M44 105h2M70 105h2M104 106h2M104 107h2M54 108h3M55 109h2M55 110h2M100 110h2M66 111h3M72 111h3M84 111h3M66 112h3M72 112h3M84 112h3M66 113h3M72 113h3M84 113h3M82 114h2M82 115h2M44 116h2M44 117h2M46 118h2M46 119h2M80 120h10M80 121h10M80 122h10M48 123h3M80 123h11M48 124h4M81 124h11M48 125h4M82 125h10M82 126h11M83 127h11M84 128h10M85 129h10M86 130h10M87 131h9M44 132h4M88 132h9M44 133h4M90 133h8M45 134h3M91 134h7M92 135h7M93 136h7M94 137h6M96 138h5M97 139h5M98 140h4M99 141h4M100 142h4M101 143h3M102 144h3M103 145h3M200 157h1M205 157h1M198 158h1M207 158h1M197 159h1M208 159h1M196 160h1M196 161h1M209 161h1M197 162h1M208 162h2M197 163h2M207 163h1M210 163h1M197 164h1M200 164h1M205 164h1M210 164h1M197 165h1M210 165h1M197 166h1M197 167h1M210 167h1M197 168h1M210 168h1M197 169h1M210 169h1M197 170h1M210 170h1M198 171h1M209 171h1M198 172h2M208 172h2M199 173h2M207 173h2M201 174h7M22 206h2M22 207h2M31 240h1M190 265h1M191 266h1M194 270h1M195 271h1M196 272h1M197 273h1M198 274h1M199 275h1M200 276h1M201 277h1M202 278h1M203 279h1M206 283h1M207 284h1M176 285h5M208 285h1M176 286h1M180 286h1M209 286h1M175 287h1M181 287h1M210 287h1M175 288h1M181 288h1M211 288h1M175 289h1M181 289h1M175 290h2M180 290h2M176 291h2M179 291h2M178 292h1"/>
<path stroke="#f800b0" d="M160 106h2M190 106h2M160 107h2M190 107h2M166 116h2M166 117h2M174 119h2M170 120h9M169 121h11M168 122h13M167 123h14M167 124h11M180 124h1M166 125h12M180 125h1M168 126h2M174 126h2M180 126h1M168 127h2M174 127h2M166 128h4M172 128h8M166 129h4M172 129h7M172 130h6M172 131h5M168 132h6M170 133h3M207 138h11M205 139h11M204 140h11M220 140h3M202 141h11M218 141h7M201 142h10M218 142h8M199 143h11M218 143h7M199 144h9M216 144h9M200 145h7M212 145h2M216 145h8M200 146h5M211 146h13M201 147h2M209 147h14M201 148h2M207 148h12M202 149h2M206 149h5M17 165h1M22 165h1M16 166h1M23 166h1M15 167h1M24 167h1M14 168h1M14 169h1M25 169h1M13 171h1M13 172h1M26 172h1M13 173h1M26 173h1M13 174h1M26 174h1M26 175h1M25 178h1M24 180h1M23 181h1M18 182h1M21 182h2M48 186h2M48 187h2M210 190h4M204 191h11M198 192h18M198 193h18M199 194h18M200 195h17M200 196h18M201 197h18M202 198h17M202 199h18M203 200h18M204 201h15M220 201h1M205 202h13M221 202h1M207 203h11M221 203h2M208 204h11M222 204h2M210 205h10M223 205h2M211 206h10M224 206h2M213 207h9M225 207h2M214 208h9M226 208h1M216 209h7M226 209h2M217 210h9M219 211h7M221 212h6M222 213h4M224 214h1M82 253h2M88 253h2M86 254h2M86 255h2M98 256h2M98 257h2M80 258h2M80 259h2M80 262h2M100 262h1M80 263h2M100 263h1M110 269h1M109 270h1M106 272h1M105 273h1M102 275h1M100 276h2M100 277h1M76 280h2M76 281h2M96 284h2M96 285h2M122 290h2M122 291h2"/>
<path stroke="#d800d0" d="M120 31h4M124 32h2M124 33h2M120 34h2M120 35h2M120 36h2M120 37h2M209 60h1M222 64h1M228 67h1M229 72h1M40 75h2M46 84h2M46 85h2M38 90h2M44 90h2M38 91h2M44 91h2M154 110h2M154 111h2M27 167h1M28 169h1M28 170h1M28 171h2M29 172h1M29 173h1M29 174h1M29 175h1M28 176h2M28 177h2M28 178h2M28 179h2M27 180h3M27 181h2M26 182h3M25 183h3M24 184h3M173 195h1M172 196h3M171 197h5M170 198h7M169 199h9M168 200h5M175 200h4M167 201h6M176 201h4M166 202h8M177 202h4M167 203h8M178 203h4M168 204h8M179 204h4M163 205h1M169 205h8M180 205h4M162 206h3M170 206h8M181 206h4M162 207h4M171 207h8M182 207h4M163 208h4M172 208h8M183 208h4M164 209h4M173 209h8M184 209h4M165 210h4M174 210h8M185 210h4M166 211h4M175 211h8M186 211h4M167 212h4M176 212h8M187 212h4M168 213h4M177 213h8M188 213h4M169 214h4M178 214h8M189 214h4M170 215h4M179 215h8M190 215h4M171 216h4M180 216h8M191 216h4M172 217h4M181 217h8M192 217h4M173 218h4M182 218h8M193 218h4M174 219h4M183 219h8M194 219h4M175 220h4M184 220h8M195 220h4M176 221h4M185 221h8M196 221h3M177 222h4M186 222h8M197 222h1M178 223h4M187 223h8M179 224h4M188 224h8M180 225h4M189 225h6M181 226h4M190 226h4M182 227h4M191 227h2M183 228h4M184 229h4M185 230h4M186 231h3M187 232h1M82 258h2M82 259h2M100 270h1M100 271h1M132 298h2M132 299h2"/>
<path stroke="#e800c0" d="M194 42h1M181 43h14M182 44h14M183 45h13M183 46h14M184 47h13M184 48h11M185 49h4M218 63h1M219 70h1M184 108h2M184 109h2M182 128h2M182 129h2M17 163h6M16 164h1M23 164h1M15 165h1M24 165h1M14 166h1M25 166h1M26 167h1M13 168h1M26 168h1M27 170h1M27 171h1M27 172h1M27 173h1M27 174h1M27 175h1M27 176h1M27 177h1M64 177h1M26 179h1M25 181h1M24 182h1M23 183h1M20 184h3M64 184h2M64 185h2M56 186h2M56 187h2M252 194h2M252 195h2M173 200h2M173 201h3M174 202h3M165 203h2M175 203h3M164 204h4M176 204h3M164 205h5M177 205h3M165 206h5M178 206h3M166 207h5M179 207h3M167 208h5M180 208h3M168 209h5M181 209h3M169 210h5M182 210h3M170 211h5M183 211h3M171 212h5M184 212h3M172 213h5M185 213h3M173 214h5M186 214h3M174 215h5M187 215h3M175 216h5M188 216h3M176 217h5M189 217h3M177 218h5M190 218h3M178 219h5M191 219h3M179 220h5M192 220h3M180 221h5M193 221h3M181 222h5M194 222h3M182 223h5M195 223h3M183 224h5M196 224h3M184 225h5M197 225h1M185 226h5M186 227h5M187 228h5M188 229h3M189 230h1M58 242h2M58 243h2M94 262h2M115 273h1M114 274h2M113 275h3M111 276h5M110 277h5M98 278h2M109 278h5M107 279h6M106 280h5M107 281h3M108 288h2M108 289h2M136 290h2M136 291h2M134 292h2M142 292h2M134 293h2M142 293h2M138 294h2M138 295h2M138 296h2M138 297h2M131 302h1"/>
<path stroke="#a8ff00" d="M152 49h3M152 50h3M111 51h2M112 52h2M113 53h2M114 54h2M115 55h2M133 72h1M134 73h1M135 74h1M264 99h2M264 100h2M139 101h1M138 102h1M80 128h2M281 138h2M281 139h2M281 140h2M281 141h2M281 142h2M80 164h2M80 165h2M80 166h2M80 167h2M80 174h2M80 182h2M80 183h2M171 186h1M172 187h1M173 188h1M174 189h1M175 190h1M176 191h1M177 192h1M178 193h1M179 194h1M180 195h1M181 196h1M182 197h1M183 198h1M184 199h1M13 200h2M185 200h1M186 201h1M187 202h1M188 203h1M80 204h2M189 204h1M190 205h1M191 206h1M192 207h1M193 208h1M194 209h1M195 210h1M196 211h1M91 212h1M197 212h1M90 213h1M198 213h1M89 214h1M199 214h1M200 215h1M201 216h1M135 217h1M202 217h1M137 218h1M203 218h1M204 219h1M80 222h3M80 223h2M93 234h1M93 235h1M92 236h2M91 237h3M80 238h2M90 238h4M80 239h2M92 239h1M222 239h1M82 240h1M80 242h2M258 244h1M230 246h1M231 247h1M219 248h1M220 249h1M221 250h1M238 253h1M239 254h1M227 255h1M228 256h1M229 257h1M235 262h1M236 263h1M237 264h1M215 273h1M216 274h1M145 275h1M145 276h2M146 277h3M148 278h2M149 279h2M150 280h3M80 281h1M152 281h2M153 282h3M80 283h1M155 283h2M156 284h2M157 285h3M159 286h2M160 287h1M161 290h1M161 291h1M162 292h1M163 293h1M164 294h1M165 295h1M166 296h1M166 297h2M168 298h1"/>
<path stroke="#ff0078" d="M62 54h2M62 55h2M72 56h2M72 57h2M72 58h2M80 58h2M88 58h4M72 59h2M80 59h2M88 59h4M70 60h2M142 60h4M70 61h2M94 61h2M142 61h4M74 62h2M82 62h2M137 66h1M137 67h1M100 68h2M100 69h2M96 70h2M116 70h2M96 71h2M116 71h2M189 72h1M185 75h1M182 76h1M191 76h1M177 78h1M190 78h1M186 81h1M126 84h2M126 85h2M185 85h1M128 86h2M72 87h2M78 87h4M128 87h2M74 88h2M90 88h2M171 88h1M74 89h2M90 89h2M180 89h1M189 89h1M90 94h2M90 95h2M38 106h2M38 107h2M256 108h2M256 109h2M174 116h2M174 117h2M178 118h2M178 119h2M36 120h2M166 120h2M36 121h2M166 121h2M44 124h2M44 125h2M178 126h2M178 127h2M40 128h2M41 129h1M42 130h4M43 131h3M20 171h1M21 172h1M21 175h1M19 176h2M64 190h2M258 190h2M64 191h2M258 191h2M262 194h2M262 195h2M252 204h2M252 205h2M260 208h1M260 209h2M248 210h2M248 211h2M256 212h2M264 212h1M256 213h2M264 213h2M252 214h2M258 214h2M252 215h2M258 215h2M240 216h2M258 216h2M240 217h2M258 217h2M264 222h2M264 223h2M66 246h2M66 247h2M90 254h2M90 255h2M100 266h1M100 267h1M68 270h2M68 271h2M92 272h2M92 273h2M96 274h2M96 275h2M88 282h1M110 290h2M134 290h2M110 291h2M134 291h2M128 296h2M128 297h2"/>
<path stroke="#ff5050" d="M214 58h1M217 59h1M219 64h1M217 67h1M190 75h1M189 78h1M188 84h1M193 88h1M183 89h1M60 105h2M66 105h2M90 105h2M100 105h2M93 106h1M95 108h1M258 108h4M95 109h2M258 109h4M96 110h1M80 112h2M80 113h2M86 114h1M99 114h1M86 115h1M99 115h2M100 116h1M101 117h1M68 120h2M103 120h1M68 121h2M103 121h2M104 122h1M105 123h1M106 124h1M106 125h1M107 126h1M108 127h1M108 128h1M109 129h1M110 130h1M110 131h2M111 132h1M112 133h1M112 134h2M113 135h1M114 136h1M114 137h2M115 138h1M212 154h1M213 155h1M214 156h1M193 157h1M192 158h1M192 159h1M191 160h1M191 161h1M190 164h1M190 165h1M190 166h1M190 167h1M190 168h1M190 169h1M212 179h1M197 180h1M210 180h1M198 181h2M208 181h2M201 182h6M26 210h2M26 211h2M32 216h2M32 217h2M26 222h2M26 223h2M38 238h2M38 239h2M98 248h1M96 251h1M194 266h1M195 267h1M196 268h1M197 269h1M187 270h1M198 270h1M191 275h1M192 276h1M193 277h1M180 278h1M194 278h1M181 279h1M195 279h1M206 279h1M182 280h1M196 280h1M207 280h1M183 281h1M197 281h1M208 281h1M184 282h1M198 282h1M209 282h1M185 283h1M199 283h1M186 284h1M187 285h1M188 286h1M203 288h1M204 289h1M205 290h1M192 291h1M206 291h1M193 292h1M207 292h1M194 293h1M195 294h1M196 295h1M197 296h1"/>
<path stroke="#ff5858" d="M225 58h1M225 60h1M221 61h1M223 63h1M225 63h1M223 71h2M220 72h1M188 74h1M195 74h1M192 76h1M198 78h1M173 88h1M187 89h1M179 91h1M86 105h2M78 106h2M92 106h1M78 107h2M93 107h1M80 108h2M94 108h1M80 109h2M94 109h1M98 114h1M110 114h2M262 114h2M98 115h1M110 115h2M106 116h2M100 117h1M106 117h2M102 120h1M102 121h1M46 122h2M103 122h1M46 123h2M104 123h1M104 124h2M105 125h1M106 126h1M106 127h2M107 128h1M108 129h1M46 130h2M108 130h2M46 131h2M109 131h1M110 132h1M110 133h2M111 134h1M112 135h1M112 136h2M113 137h1M114 138h1M114 139h1M209 153h2M211 154h1M212 155h1M194 156h1M213 156h1M214 157h1M193 158h1M192 160h1M191 162h1M191 163h1M191 164h1M191 165h1M191 167h1M191 168h1M191 169h1M212 178h1M197 179h1M210 179h2M198 180h1M209 180h1M200 181h8M20 218h2M20 219h2M38 240h2M38 241h2M99 246h1M97 249h1M95 252h1M191 263h1M192 264h1M193 265h1M188 271h1M189 272h1M190 273h1M191 274h1M192 275h1M202 275h1M193 276h1M203 276h1M194 277h1M204 277h1M195 278h1M205 278h1M185 284h1M200 284h1M186 285h1M201 285h1M187 286h1M202 286h1M188 287h1M203 287h1M189 288h1M204 288h1M190 289h1M205 289h1M191 290h1M206 290h1M207 291h1M194 294h1M195 295h1M196 296h1"/>
<path stroke="#ff0070" d="M173 23h3M173 24h5M173 25h5M173 26h5M173 27h5M180 28h4M180 29h4M201 30h1M201 31h1M201 32h3M75 36h1M92 36h4M92 37h4M94 38h2M66 42h2M72 42h2M212 42h4M66 43h2M72 43h2M212 43h4M212 44h6M212 45h6M212 46h6M212 47h6M212 48h6M212 49h6M214 55h1M227 64h2M184 74h1M180 76h1M198 76h1M187 83h1M199 84h1M190 86h1M47 87h1M182 88h1M46 96h2M46 97h2M54 106h2M232 106h4M54 107h2M232 107h4M230 108h2M235 108h1M42 114h2M266 114h4M42 115h2M266 115h4M237 116h5M266 116h5M236 117h6M266 117h5M74 120h2M74 121h2M72 122h2M72 123h2M42 124h2M42 125h2M209 126h3M209 127h3M209 128h3M224 128h2M51 129h1M209 129h3M224 129h2M210 130h4M222 130h4M210 131h4M222 131h4M210 132h2M222 132h4M246 132h2M210 133h2M222 133h4M246 133h2M222 134h4M222 135h4M242 146h8M20 172h1M19 175h2M46 188h2M46 189h2M256 190h2M256 191h2M66 194h1M66 195h1M252 198h2M62 234h2M62 235h2M74 246h2M74 247h2M100 253h1M92 258h2M96 258h2M92 259h2M96 259h2M90 260h2M90 261h2M58 268h2M58 269h2M78 270h2M78 271h2M84 280h2M84 281h2M110 286h2M110 287h2M124 292h2M124 293h2M112 294h2M132 294h2M112 295h2M132 295h2M121 298h1"/>
<path stroke="#ffd000" d="M113 49h1M113 50h2M114 51h2M115 52h2M116 53h2M117 54h2M119 55h1M157 55h1M120 56h1M156 56h2M121 57h1M155 57h2M122 58h1M154 58h2M123 59h1M153 59h2M124 60h1M125 61h1M151 61h1M126 62h1M150 62h2M127 63h1M149 63h2M128 64h1M129 65h1M130 66h1M131 67h1M132 68h1M133 69h1M134 70h1M135 71h1M136 72h1M269 101h1M266 103h1M137 105h1M263 105h1M137 106h1M146 108h1M146 109h1M138 110h1M138 111h1M138 112h1M147 114h1M65 115h2M147 115h1M63 116h2M61 117h2M60 118h1M139 118h1M140 122h1M232 148h1M230 149h2M229 150h2M228 151h1M226 152h2M225 153h2M224 154h1M223 155h1M221 156h2M220 157h2M219 158h1M218 159h1M216 160h2M215 161h1M214 162h1M217 162h1M212 163h2M216 163h2M216 164h2M216 165h2M226 166h2M226 167h2M228 168h2M228 169h2M232 192h4M233 193h3M227 210h1M228 211h1M229 212h1M88 215h1M87 216h1M84 218h1M122 218h1M83 219h1M124 219h1M125 220h1M127 221h1M129 222h1M131 223h1M237 223h2M132 224h1M238 224h1M134 225h1M38 242h2M38 243h2M175 246h1M174 247h1M173 248h1M172 249h1M171 250h1M170 251h1M169 252h1M210 263h2M94 264h1M91 265h1M95 268h1M93 269h1"/>
<path stroke="#ff1818" d="M210 57h1M208 58h1M226 66h1M223 70h1M225 71h1M192 73h1M187 75h1M187 78h1M188 87h1M188 88h1M187 90h1M100 106h2M100 107h2M98 108h2M98 109h2M105 112h1M110 112h2M110 113h2M107 114h1M107 115h2M58 116h1M108 116h1M109 117h1M70 118h2M110 118h1M70 119h2M110 119h1M111 120h1M111 121h2M112 122h1M113 123h1M113 124h2M114 125h1M54 126h2M115 126h1M54 127h1M116 127h1M116 128h1M117 129h1M118 130h1M118 131h1M119 132h1M120 133h1M120 134h1M197 184h2M210 184h1M200 185h2M206 185h2M20 205h2M26 224h2M26 225h2M62 230h2M62 231h2M60 236h2M60 237h2M100 250h1M99 252h1M98 253h2M88 260h2M88 261h2M193 262h1M194 263h1M195 264h1M196 265h1M185 273h1M186 274h1M204 274h1M183 275h1M187 275h1M205 275h1M86 276h2M94 276h2M184 276h1M188 276h1M206 276h1M86 277h2M94 277h2M189 277h1M207 277h1M84 278h2M92 278h2M208 278h1M84 279h2M92 279h2M187 280h1M188 281h1M189 282h1M190 283h1M194 283h1M191 284h1M195 284h1M192 285h1M196 285h1M193 286h1M197 286h1M194 287h1M198 287h1M195 288h1M199 288h1M196 289h1M200 289h1M201 290h1M199 293h1M200 294h1M201 295h1"/>
<path stroke="#ff2020" d="M207 55h1M223 60h1M224 61h1M226 65h1M221 68h1M229 68h1M221 69h1M227 71h1M196 77h1M177 90h1M184 90h1M74 105h2M68 106h2M68 107h2M42 108h2M254 108h2M42 109h2M254 109h2M80 110h2M98 110h2M103 110h1M80 111h2M33 112h1M45 112h3M70 112h2M104 112h1M33 113h1M45 113h3M70 113h2M105 113h1M106 114h1M106 115h1M108 117h1M33 118h1M110 120h1M110 121h1M66 122h2M111 122h1M66 123h2M112 123h1M112 124h1M113 125h1M114 126h1M114 127h2M115 128h1M116 129h1M116 130h2M117 131h1M118 132h1M118 133h2M119 134h1M216 155h1M188 163h1M188 169h1M188 170h1M188 171h1M197 183h1M211 183h1M199 184h1M208 184h2M202 185h4M262 200h2M22 224h2M22 225h2M70 230h2M70 231h2M99 251h1M199 269h1M200 270h1M201 271h1M202 272h1M203 273h1M86 275h2M182 275h1M183 276h1M184 277h1M185 278h1M190 278h1M186 279h1M191 279h1M192 280h1M193 281h1M194 282h1M195 283h1M190 284h1M196 284h1M191 285h1M197 285h1M192 286h1M193 287h1M194 288h1M195 289h1M196 290h1M197 291h1M202 291h1M198 292h1M203 292h1M204 293h1M205 294h1"/>
<path stroke="#ff3030" d="M223 56h1M211 65h1M226 71h1M178 89h1M94 106h2M98 106h1M94 107h2M99 107h1M44 110h2M45 111h1M38 116h2M110 116h2M38 117h2M110 117h2M76 118h2M86 118h1M106 118h1M76 119h1M86 119h1M107 119h1M60 120h1M108 120h1M108 121h1M109 122h1M110 123h1M110 124h1M111 125h1M112 126h1M112 127h1M113 128h1M114 129h1M114 130h1M115 131h1M116 132h1M116 133h1M117 134h1M118 135h1M118 136h1M215 155h1M216 156h1M189 161h1M189 162h1M189 171h1M213 180h1M212 181h1M211 182h1M198 183h2M209 183h1M202 184h5M252 196h2M252 197h2M262 198h2M262 199h2M64 238h2M64 239h1M70 246h2M70 247h2M100 248h1M98 251h1M193 263h1M194 264h1M186 272h1M187 273h1M202 273h1M188 274h1M203 274h1M189 275h1M204 275h1M92 276h2M190 276h1M205 276h1M92 277h2M182 277h1M206 277h1M183 278h1M184 279h1M185 280h1M186 281h1M194 281h1M187 282h1M195 282h1M188 283h1M196 283h1M189 284h1M197 284h1M190 285h1M198 285h1M191 286h1M199 286h1M200 287h1M201 288h1M202 289h1M194 290h1M195 291h1M196 292h1M197 293h1M198 294h1M199 295h1"/>
<path stroke="#f000b0" d="M251 105h1M19 164h2M263 167h2M25 168h1M261 168h6M259 169h11M258 170h13M26 171h1M258 171h14M258 172h14M258 173h14M258 174h2M262 174h11M258 175h1M262 175h11M26 176h1M258 176h1M263 176h10M258 177h2M264 177h9M258 178h3M265 178h9M25 179h1M47 179h5M54 179h1M258 179h4M266 179h8M45 180h9M258 180h5M266 180h8M43 181h11M258 181h5M267 181h8M42 182h12M259 182h5M268 182h7M41 183h13M259 183h6M269 183h5M40 184h14M259 184h7M269 184h5M40 185h14M260 185h4M266 185h1M271 185h3M39 186h9M50 186h5M259 186h14M39 187h9M50 187h5M260 187h13M39 188h1M44 188h2M48 188h7M261 188h9M271 188h2M38 189h2M44 189h2M48 189h7M261 189h9M271 189h1M38 190h2M42 190h14M268 190h2M271 190h1M39 191h1M42 191h14M268 191h2M271 191h1M39 192h18M266 192h3M39 193h17M42 194h2M46 194h2M50 194h2M54 194h1M42 195h2M46 195h2M50 195h2M42 196h2M46 196h6M46 197h2M90 253h2M68 268h2M112 268h1M68 269h2M111 269h3M110 270h4M108 271h5M107 272h5M106 273h4M104 274h5M103 275h5M102 276h4M101 277h4M102 278h2"/>
<path stroke="#ff1010" d="M212 56h1M219 56h1M209 58h1M222 59h1M215 64h1M224 64h1M223 65h2M191 77h1M186 90h1M189 90h1M90 106h2M260 106h2M90 107h2M260 107h2M84 114h2M108 114h1M84 115h2M109 115h1M109 116h1M69 118h1M111 118h1M69 119h1M111 119h1M116 119h1M112 120h1M113 121h1M113 122h1M114 123h1M115 124h1M115 125h1M116 126h1M117 127h1M45 128h1M117 128h1M44 129h2M118 129h1M119 130h1M119 131h1M120 132h1M121 133h1M54 142h2M54 143h2M187 169h1M187 170h1M187 171h1M211 184h1M198 185h2M208 185h2M202 186h5M260 198h2M260 199h2M100 251h1M100 254h1M100 255h1M98 260h2M98 261h2M197 266h1M198 267h1M199 268h1M200 269h1M201 270h1M185 274h1M186 275h1M187 276h1M185 277h1M188 277h1M94 278h2M186 278h1M189 278h1M94 279h2M187 279h1M190 279h1M209 279h1M188 280h1M191 280h1M189 281h1M192 281h1M190 282h1M193 282h1M191 283h1M192 284h1M193 285h1M194 286h1M197 287h1M198 288h1M199 289h1M197 290h1M200 290h1M198 291h1M201 291h1M199 292h1M202 292h1M200 293h1M203 293h1M201 294h1M204 294h1"/>
<path stroke="#ff4848" d="M219 58h1M221 59h1M228 66h1M221 70h1M176 85h1M187 87h1M62 105h1M110 105h2M42 106h2M42 107h2M96 107h1M86 108h2M96 108h1M87 109h1M97 109h1M97 110h1M100 114h1M101 115h1M70 116h2M101 116h1M70 117h2M72 120h2M104 120h1M72 121h2M105 121h1M105 122h2M106 123h1M107 124h1M107 125h2M108 126h1M109 127h1M109 128h2M110 129h1M111 130h1M112 131h1M112 132h1M113 133h1M114 134h1M114 135h1M115 136h1M116 137h1M213 154h1M192 157h1M215 157h1M191 159h1M190 162h1M190 163h1M190 170h1M211 180h1M197 181h1M210 181h1M199 182h2M207 182h2M99 247h1M98 249h1M97 250h1M96 252h1M187 271h1M199 271h1M188 272h1M200 272h1M189 273h1M201 273h1M190 274h1M202 274h1M203 275h1M180 277h1M181 278h1M182 279h1M183 280h1M195 280h1M184 281h1M196 281h1M185 282h1M197 282h1M186 283h1M198 283h1M199 284h1M211 284h1M200 285h1M201 286h1M189 287h1M202 287h1M190 288h1M191 289h1M192 290h1M193 291h1M194 292h1M195 293h1M207 293h1M196 294h1M197 295h1M198 296h1"/>
<path stroke="#ff6060" d="M227 61h1M223 72h1M191 86h1M178 91h1M182 91h1M92 107h1M60 108h2M60 109h2M82 111h2M100 120h2M101 121h1M102 122h1M104 125h1M104 126h2M105 127h1M106 128h1M106 129h2M107 130h1M108 131h1M108 132h2M109 133h1M110 134h1M110 135h2M111 136h1M57 137h1M112 137h1M112 138h2M113 139h1M199 153h2M207 153h2M197 154h2M209 154h2M196 155h1M211 155h1M195 156h1M212 156h1M194 157h1M213 157h1M194 158h1M193 159h1M192 161h1M192 162h1M192 163h1M191 166h1M192 170h1M213 175h1M213 176h1M212 177h1M196 178h2M211 178h1M198 179h1M209 179h1M199 180h3M206 180h3M22 218h2M22 219h2M99 245h1M98 247h1M97 248h1M96 250h1M95 251h1M188 270h1M197 270h1M189 271h1M198 271h1M190 272h1M199 272h1M191 273h1M200 273h1M201 274h1M179 278h1M180 279h1M196 279h1M181 280h1M197 280h1M198 281h1M199 282h1M200 283h1M201 284h1M210 284h1M202 285h1M211 285h1M186 286h1M203 286h1M187 287h1M188 288h1M189 289h1M190 290h1M191 291h1M192 292h1M208 292h1M193 293h1"/>
<path stroke="#ff2828" d="M207 57h1M212 63h1M222 66h2M222 69h1M174 83h1M170 88h1M56 106h2M99 106h1M262 106h2M56 107h2M262 107h2M102 110h1M55 111h1M104 113h1M80 116h2M80 117h2M107 118h1M48 120h2M109 120h1M48 121h2M109 121h1M110 122h1M111 123h1M54 124h2M111 124h1M54 125h2M112 125h1M113 126h1M113 127h1M114 128h1M115 129h1M115 130h1M116 131h1M117 132h1M117 133h1M118 134h1M119 135h1M188 164h1M188 165h1M188 166h1M188 167h1M188 168h1M210 183h1M200 184h2M207 184h1M268 194h2M268 195h2M28 208h2M28 209h2M100 249h1M99 250h1M98 252h1M195 265h1M196 266h1M197 267h1M198 268h1M186 273h1M187 274h1M188 275h1M182 276h1M189 276h1M183 277h1M190 277h1M184 278h1M191 278h1M207 278h1M185 279h1M192 279h1M208 279h1M186 280h1M193 280h1M187 281h1M188 282h1M189 283h1M198 286h1M192 287h1M199 287h1M193 288h1M200 288h1M194 289h1M201 289h1M195 290h1M202 290h1M196 291h1M203 291h1M197 292h1M204 292h1M198 293h1M205 293h1M199 294h1M200 295h1"/>
<path stroke="#00a890" d="M231 31h1M180 32h2M231 32h2M232 33h1M232 34h2M233 35h2M234 36h2M234 37h2M235 38h2M236 39h1M237 41h2M238 42h2M239 43h2M240 44h1M241 45h1M241 46h2M154 47h2M154 48h2M118 100h3M119 101h2M119 102h2M80 171h2M80 217h2M80 218h2M251 223h1M252 224h1M244 225h1M253 225h1M242 226h4M254 226h1M243 227h3M255 227h1M244 228h3M256 228h1M246 229h2M257 229h1M80 230h2M247 230h2M258 230h1M80 231h2M248 231h2M249 232h1M250 233h1M225 234h1M251 234h2M226 235h1M252 235h3M254 236h3M232 240h1M233 241h1M234 242h1M240 247h1M241 248h1M242 249h1M248 254h1M111 257h2M110 258h4M110 259h5M111 260h5M112 261h5M113 262h5M114 263h5M115 264h5M116 265h5M117 266h5M118 267h5M119 268h5M120 269h5M122 270h4M124 271h3M124 272h4M124 273h5M125 274h5M126 275h5M127 276h5M128 277h5M129 278h3M130 279h1M162 289h2M163 290h2M164 291h2M165 292h2M166 293h2M167 294h2M168 295h1M169 296h1M170 297h1"/>
<path stroke="#ff0808" d="M210 56h1M227 67h1M185 74h1M191 74h1M199 82h1M199 86h1M92 105h2M104 105h2M74 106h2M74 107h2M34 112h2M69 112h1M108 112h1M34 113h2M69 113h1M108 113h1M46 114h2M109 114h1M46 115h2M40 118h2M82 118h2M40 119h2M82 119h2M46 120h2M113 120h1M46 121h2M114 121h1M48 122h2M58 122h1M114 122h1M115 123h1M116 124h1M116 125h1M117 126h1M118 127h1M46 128h2M118 128h1M46 129h2M119 129h1M120 130h1M120 131h1M121 132h1M187 172h1M212 184h1M210 185h1M199 186h3M207 186h2M260 194h2M260 195h2M60 238h2M60 239h2M70 240h2M70 241h2M80 256h2M80 257h2M58 260h2M58 261h2M194 262h1M202 271h1M203 272h1M184 273h1M204 273h1M183 274h1M205 274h1M184 275h1M206 275h1M185 276h1M186 277h1M187 278h1M188 279h2M189 280h2M190 281h2M191 282h2M193 283h1M194 284h1M195 285h1M196 286h1M195 287h1M196 288h1M197 289h1M198 290h1M199 291h1M200 292h2M201 293h2M202 294h2"/>
<path stroke="#ff3838" d="M222 58h1M219 61h1M227 63h1M218 65h1M220 69h1M184 78h1M188 89h1M84 106h2M97 106h1M84 107h2M98 107h1M66 108h2M66 109h2M42 110h2M57 110h1M112 110h2M56 111h2M112 111h2M38 112h2M38 113h2M103 114h1M103 115h1M106 119h1M107 120h1M107 121h1M108 122h1M109 123h1M109 124h1M110 125h1M111 126h1M111 127h1M112 128h1M113 129h1M113 130h1M114 131h1M115 132h1M115 133h1M116 134h1M117 135h1M117 136h1M50 141h1M190 160h1M189 163h1M189 164h1M189 168h1M189 169h1M189 170h1M197 182h1M210 182h1M200 183h1M207 183h2M100 247h1M99 249h1M98 250h1M97 252h1M197 268h1M198 269h1M199 270h1M200 271h1M201 272h1M181 276h1M191 277h1M192 278h1M193 279h1M194 280h1M185 281h1M195 281h1M186 282h1M196 282h1M187 283h1M197 283h1M188 284h1M198 284h1M189 285h1M190 286h1M191 287h1M192 288h1M193 289h1M203 290h1M204 291h1M205 292h1M206 293h1M197 294h1M198 295h1"/>
<path stroke="#ff0090" d="M68 42h2M88 42h2M68 43h2M88 43h2M86 44h2M136 44h2M86 45h2M136 45h2M190 74h1M186 75h1M192 75h1M181 76h1M199 76h1M172 85h1M177 87h1M183 88h1M179 89h1M191 89h1M76 105h2M48 114h1M76 114h4M48 115h1M76 115h4M34 116h2M34 117h2M75 118h1M75 119h1M76 120h1M182 120h2M182 121h2M40 126h2M40 127h2M19 168h2M18 169h1M21 169h1M17 170h1M22 170h1M16 171h1M23 171h1M16 172h1M23 172h1M16 173h1M23 173h1M16 174h1M23 174h1M16 175h1M23 175h1M16 176h1M23 176h1M17 177h1M22 177h1M18 178h1M21 178h1M52 194h2M52 195h2M44 196h2M44 197h2M31 238h1M31 239h1M36 240h2M36 241h2M68 246h2M68 247h2M86 260h2M86 261h2M84 262h2M84 263h2M88 264h2M98 264h2M89 265h1M98 265h2M74 270h2M74 271h2M94 280h2M94 281h2M86 282h2M126 288h2M126 289h2M102 292h2M102 293h2M142 294h2M142 295h2"/>
<path stroke="#ff0040" d="M70 42h2M80 42h2M96 42h2M70 43h2M80 43h2M96 43h2M208 55h1M220 55h1M211 57h1M216 58h1M213 59h1M219 60h1M217 62h1M227 62h1M210 63h1M214 64h1M229 66h1M216 67h1M221 67h1M217 69h1M227 70h1M179 76h1M186 82h1M188 83h1M172 87h1M190 89h1M188 90h1M177 91h1M176 104h2M40 105h2M176 105h2M256 106h2M256 107h2M166 108h2M166 109h2M184 114h2M184 115h2M54 122h2M54 123h2M52 124h2M52 125h2M166 126h2M166 127h2M164 128h2M52 129h1M164 129h2M166 130h2M167 131h1M56 140h2M56 141h2M64 178h1M40 179h2M64 179h1M62 232h2M62 233h2M68 240h2M68 241h2M92 253h2M64 264h2M96 264h2M64 265h2M96 265h2M60 268h2M60 269h2M96 270h2M96 271h2M90 274h2M90 275h2M106 282h2M106 283h2M98 290h2M98 291h2"/>
<path stroke="#ffa0a0" d="M223 59h1M226 61h1M225 64h1M217 65h1M220 68h1M222 71h1M227 72h1M80 106h2M80 107h2M69 108h3M69 109h3M69 110h3M87 110h1M90 110h2M90 111h2M93 111h3M93 112h3M93 113h3M34 114h2M87 114h3M96 114h2M34 115h2M87 115h3M96 115h2M84 116h2M87 116h3M84 117h2M90 117h3M90 118h3M90 119h3M44 120h2M44 121h2M80 124h1M80 125h2M82 127h1M83 128h1M209 163h1M198 164h1M209 164h1M198 165h1M209 165h1M198 166h1M210 166h1M198 167h1M198 168h1M209 168h1M198 169h1M209 169h1M198 170h2M209 170h1M199 171h1M208 171h1M200 172h2M207 172h1M201 173h6M32 208h2M32 209h2M24 216h1M24 217h2M177 286h3M176 287h1M180 287h1M176 288h1M180 288h1M176 289h1M180 289h1M118 290h2M177 290h1M179 290h1M118 291h2M178 291h1"/>
<path stroke="#ffa058" d="M70 46h1M70 47h2M72 48h2M74 49h2M75 50h2M77 51h2M78 52h2M80 53h2M82 54h2M83 55h1M144 77h1M144 78h5M145 79h8M145 80h12M145 81h15M145 82h19M145 83h20M145 84h20M145 85h19M146 86h17M146 87h17M147 88h15M147 89h14M148 90h12M149 91h9M150 92h5M152 93h1M100 165h1M100 166h2M101 167h2M102 168h2M103 169h2M104 170h2M105 171h2M106 172h2M107 173h2M108 174h2M109 175h2M110 176h2M111 177h1M112 178h1M113 179h1M114 180h1M115 181h1M116 182h1M117 183h1M118 184h1M119 185h1M120 186h1M121 187h1M122 188h1M123 189h1M237 214h2M236 215h2M234 216h2M232 217h2M231 218h2M127 226h1M92 241h1M91 242h2M91 243h1M90 244h1M89 245h2M89 246h1M88 247h1M87 248h2M87 249h1M86 250h1M85 251h2M85 252h1"/>
<path stroke="#ff0080" d="M161 24h2M100 42h2M126 42h2M100 43h2M126 43h2M82 44h2M102 44h2M82 45h2M102 45h2M191 71h1M181 74h1M193 74h1M198 80h1M197 85h1M176 86h1M175 89h1M42 105h2M170 106h2M170 107h2M40 108h2M64 108h2M40 109h2M65 109h1M58 112h1M174 112h2M58 113h1M174 113h2M156 114h2M258 114h2M156 115h2M74 122h1M190 122h2M190 123h2M59 135h1M55 139h1M19 170h2M21 171h1M17 172h1M22 172h1M22 173h1M22 174h1M18 176h1M21 176h1M19 177h2M36 180h2M36 181h2M64 237h2M70 238h2M70 239h2M56 262h2M86 262h2M56 263h2M86 263h2M56 266h2M56 267h2M90 270h1M90 271h2M82 276h2M82 277h2M114 286h2M114 287h2M128 290h2M128 291h2M140 296h2M140 297h2M142 300h2M142 301h2"/>
<path stroke="#ff0068" d="M74 42h2M74 43h2M98 44h2M98 45h2M215 55h1M219 55h1M208 56h1M212 57h1M218 59h1M223 61h1M220 65h1M218 66h2M215 68h1M226 68h1M222 70h1M187 74h1M198 75h1M187 82h1M174 87h1M189 87h1M193 87h1M173 89h1M164 108h2M164 109h2M36 111h2M256 112h2M256 113h2M40 114h2M251 114h1M40 115h2M69 116h1M78 116h2M162 116h2M69 117h1M78 117h1M162 117h2M50 120h2M180 120h2M50 121h2M180 121h2M56 124h1M172 126h2M176 126h2M172 127h2M176 127h2M174 132h2M174 133h2M19 174h1M62 180h2M62 181h2M66 238h2M67 239h1M76 248h1M76 249h1M86 264h2M80 266h2M80 267h2M102 281h1M94 288h2M94 289h2M120 290h2M120 291h2M136 292h2M136 293h2"/>
<path stroke="#b8ff00" d="M195 78h1M195 79h1M195 80h1M195 81h1M195 82h1M195 83h1M195 84h1M195 85h1M195 86h1M143 96h1M142 97h1M141 98h1M140 99h1M139 100h1M138 101h1M262 101h1M137 102h1M130 215h1M132 216h1M135 218h1M137 219h1M139 220h1M221 239h1M217 245h1M218 246h1M229 246h1M219 247h1M230 247h1M221 248h1M231 248h1M222 249h1M232 249h1M223 250h1M224 251h1M225 252h1M226 253h1M237 253h1M227 254h1M238 254h1M229 255h1M239 255h1M230 256h1M240 256h1M247 256h1M231 257h1M246 257h1M232 258h1M245 258h1M233 259h1M244 259h1M234 260h1M243 260h1M235 261h1M242 261h1M237 262h1M241 262h1M238 263h1M239 264h1M240 265h1M213 272h1M214 273h1M215 274h1M216 275h1M221 279h1"/>
<path stroke="#ff0048" d="M82 42h2M90 42h2M82 43h2M90 43h2M216 55h1M224 60h1M219 63h1M227 65h1M227 68h1M226 70h1M195 76h1M190 77h1M176 87h1M189 88h1M168 112h2M168 113h2M72 116h2M158 116h2M158 117h2M172 118h2M190 118h2M172 119h2M190 119h2M44 122h2M68 122h2M44 123h2M68 123h1M254 186h2M254 187h2M40 190h2M264 190h2M40 191h2M264 191h2M57 236h1M57 237h1M72 244h2M72 245h2M62 248h2M62 249h2M84 260h2M84 261h2M60 262h2M82 262h2M60 263h2M82 263h2M90 266h1M90 267h1M90 268h1M90 269h1M84 276h2M84 277h2M96 278h2M96 279h1M132 290h2M132 291h2M120 292h2M130 292h2M120 293h2M130 293h2M114 294h2M114 295h2"/>
<path stroke="#ff0058" d="M92 42h2M128 42h2M132 42h2M92 43h2M128 43h2M132 43h2M64 44h2M80 44h2M100 44h2M64 45h2M80 45h2M100 45h2M221 56h1M211 60h1M212 61h1M222 63h1M226 69h1M176 80h1M186 80h1M199 80h1M198 84h1M184 88h1M72 105h2M254 110h2M254 111h2M158 112h2M178 112h2M158 113h2M178 113h2M72 114h2M72 115h2M40 116h2M40 117h2M42 118h2M184 118h2M42 119h2M184 119h2M178 124h2M178 125h2M168 130h2M168 131h2M56 178h2M56 179h2M56 194h2M56 195h2M66 234h2M66 235h2M84 254h2M84 255h2M92 274h2M92 275h2M94 284h2M94 285h2M100 288h2M124 288h2M100 289h2M124 289h2M132 289h2M100 292h2M101 293h1M136 302h2"/>
<path stroke="#d0ff00" d="M194 78h1M194 79h1M194 80h1M194 83h1M194 84h1M194 85h1M194 86h1M266 99h1M138 100h1M137 101h1M263 101h1M136 102h1M127 215h1M129 216h1M131 217h1M134 219h1M136 220h1M138 221h1M90 223h2M89 224h1M87 225h2M86 226h1M85 227h1M220 240h1M84 241h1M221 241h1M219 244h1M220 245h1M221 246h1M222 247h1M228 247h1M224 248h1M229 248h1M225 249h1M230 249h1M226 250h1M227 251h1M228 252h1M229 253h1M235 253h1M230 254h1M236 254h1M232 255h1M237 255h1M233 256h1M238 256h1M234 257h1M235 258h1M236 259h1M237 260h1M244 260h1M238 261h1M243 261h1M240 262h1M242 262h1M241 263h1M210 271h1M218 278h1M219 279h1"/>
<path stroke="#ff0038" d="M61 42h1M94 42h2M61 43h1M94 43h2M62 44h2M68 44h2M62 45h2M68 45h2M210 55h1M214 57h1M229 64h1M216 65h1M229 65h1M224 67h1M217 68h1M193 72h1M183 74h1M194 77h1M186 89h1M36 105h2M78 105h2M44 106h2M58 106h2M44 107h2M58 107h2M100 108h2M100 109h2M40 110h2M94 110h2M33 111h1M40 111h2M112 118h2M112 119h2M42 120h2M42 121h2M270 185h1M258 188h2M258 189h2M62 196h2M62 197h2M64 248h2M64 249h2M90 272h2M90 273h2M80 274h2M80 275h2M116 284h1M116 285h2M120 288h2M120 289h2M96 290h2M96 291h2M128 292h2M128 293h2M140 294h2M140 295h2M132 302h2"/>
<path stroke="#ff0028" d="M142 42h2M142 43h2M218 61h1M218 62h1M226 62h1M225 65h1M221 66h1M214 67h1M224 68h1M228 70h1M225 72h1M195 77h1M175 87h1M175 88h1M192 88h1M46 105h4M98 105h2M48 106h2M48 107h2M106 110h2M260 110h2M106 111h2M260 111h2M36 112h2M76 112h2M112 112h2M36 113h2M76 113h2M112 113h2M80 114h2M80 115h2M102 116h2M38 120h2M38 121h2M35 122h1M46 126h2M46 127h2M46 135h1M66 228h2M66 229h2M88 254h2M88 255h2M96 256h2M96 257h2M82 260h2M82 261h2M96 268h2M96 269h2M98 270h2M98 271h2M88 280h2M88 281h2M104 290h2M104 291h2"/>
<path stroke="#ffe000" d="M191 79h1M191 80h1M191 81h1M191 84h1M191 85h1M269 100h1M266 102h1M265 103h1M138 104h1M138 105h1M262 105h1M138 106h1M144 106h1M144 107h1M144 108h1M144 109h1M139 110h1M145 110h1M139 111h1M145 111h1M139 112h1M145 112h1M145 113h1M145 114h1M145 115h1M146 116h1M146 117h1M146 118h1M146 119h1M146 120h1M146 121h1M141 122h1M90 215h1M89 216h1M87 217h1M122 217h1M86 218h1M101 218h14M124 218h1M125 219h1M83 220h1M127 220h1M129 221h1M131 222h1M132 223h1M134 224h1M136 225h1M91 240h1M211 264h2M93 265h1M93 268h1M91 269h1M108 292h2M108 293h2"/>
<path stroke="#ff0050" d="M136 42h2M136 43h2M66 44h2M70 44h1M92 44h2M104 44h2M66 45h2M70 45h1M92 45h2M104 45h2M212 58h1M218 58h1M223 58h1M225 59h1M187 81h1M175 83h1M189 86h1M197 86h1M172 110h2M172 111h2M170 112h2M262 112h2M170 113h2M262 113h2M52 119h2M154 120h2M155 121h1M36 122h2M40 122h2M40 123h2M66 124h2M67 125h1M60 136h1M266 190h2M266 191h2M57 232h1M57 233h1M64 234h2M64 235h2M70 244h2M70 245h2M84 258h2M84 259h2M62 262h2M62 263h2M104 282h2M104 283h2M98 286h2M106 286h2M98 287h2M106 287h2M114 288h2M114 289h2"/>
<path stroke="#00b850" d="M158 32h2M158 33h2M191 82h2M191 83h2M150 108h1M150 109h1M91 136h2M89 137h5M87 138h7M87 139h5M85 140h5M86 141h2M86 142h1M111 179h1M109 180h4M108 181h6M106 182h9M105 183h11M103 184h14M102 185h16M100 186h19M99 187h20M99 188h21M99 189h22M99 190h23M99 191h24M99 192h14M118 192h6M99 193h14M119 193h6M99 194h14M120 194h6M99 195h14M120 195h5M99 196h15M119 196h4M99 197h15M119 197h3M99 198h15M119 198h1M99 199h20M99 200h18M99 201h17M99 202h15M100 203h13M101 204h10M102 205h8M103 206h5M105 207h2M236 246h1M237 247h1M244 253h1"/>
<path stroke="#fff800" d="M192 79h1M192 80h1M192 81h1M192 84h1M192 85h1M192 86h1M136 99h1M135 100h1M267 100h1M266 101h1M263 103h1M141 105h1M141 106h1M140 107h2M140 108h2M140 109h1M142 109h1M142 110h1M142 111h1M142 112h1M141 113h2M141 114h2M141 115h1M143 115h1M143 116h1M143 117h1M143 118h1M142 121h1M144 121h1M144 122h1M121 215h1M123 216h1M90 217h1M125 217h1M89 218h1M126 218h1M87 219h1M128 219h1M86 220h1M130 220h1M84 221h1M132 221h1M83 222h1M133 222h1M135 223h1M137 224h1M94 266h2M91 267h1M93 267h1M211 267h2M142 298h2M142 299h2"/>
<path stroke="#ff0008" d="M96 44h2M96 45h2M216 57h1M215 58h1M210 59h1M221 60h1M213 63h1M219 65h1M189 73h1M181 75h1M197 75h1M188 77h1M187 79h1M177 83h1M172 88h1M50 105h2M102 106h2M102 107h2M252 108h2M252 109h2M66 110h2M56 112h2M56 113h2M56 120h2M56 121h2M45 126h1M45 127h1M42 129h2M187 176h1M212 185h2M195 186h2M210 186h4M198 187h4M207 187h6M200 188h13M202 189h10M258 192h2M258 193h2M22 214h2M22 215h2M32 218h2M32 219h2M66 242h2M66 243h2M64 250h2M64 251h2M96 254h2M96 255h2M90 276h2M90 277h2"/>
<path stroke="#fff000" d="M140 94h1M269 99h1M268 100h1M265 102h1M262 104h1M139 105h1M139 106h1M142 106h1M142 107h1M142 108h1M143 109h1M140 110h1M143 110h1M140 111h1M143 111h1M140 112h1M143 112h1M143 113h1M143 114h1M144 115h1M141 116h1M144 116h1M144 117h1M144 118h1M144 119h1M145 121h1M142 122h1M145 122h1M120 215h1M91 216h1M122 216h1M89 217h1M124 217h1M88 218h1M86 219h1M127 219h1M85 220h1M129 220h1M131 221h1M134 223h1M136 224h1M91 239h1M90 240h1M34 244h2M34 245h2M95 265h1M93 266h1M211 266h2M94 267h1M91 268h1"/>
<path stroke="#e0ff00" d="M140 97h1M139 98h1M138 99h1M137 100h1M136 101h1M264 101h1M261 103h1M125 215h1M127 216h1M129 217h1M131 218h1M132 219h1M134 220h1M90 221h2M136 221h1M89 222h1M138 222h1M87 223h2M86 224h1M85 225h1M84 226h1M220 241h1M219 242h1M221 242h1M220 243h1M224 247h1M226 248h1M228 248h1M227 249h1M229 249h1M228 250h1M230 250h1M229 251h1M231 251h1M230 252h1M232 252h1M231 253h1M232 254h1M234 255h1M236 255h1M235 256h1M237 256h1M236 257h1M238 257h1M237 258h1M238 259h1M239 260h1M210 272h1M218 279h1M219 280h1"/>
<path stroke="#ffe800" d="M139 95h1M138 96h1M137 97h1M136 98h1M135 99h1M267 101h1M264 103h1M263 104h1M143 106h1M139 107h1M143 107h1M139 108h1M143 108h1M139 109h1M144 110h1M144 111h1M144 112h1M140 113h1M144 113h1M140 114h1M144 114h1M140 115h1M145 116h1M145 117h1M145 118h1M145 119h1M141 120h1M145 120h1M141 121h1M90 216h1M121 216h1M88 217h1M123 217h1M87 218h1M125 218h1M85 219h1M126 219h1M84 220h1M128 220h1M83 221h1M130 221h1M132 222h1M133 223h1M135 224h1M94 265h1M211 265h2M91 266h2M95 267h1M92 268h1"/>
<path stroke="#c8ff00" d="M143 95h1M142 96h1M141 97h1M140 98h1M139 99h1M260 103h1M128 215h1M130 216h1M132 217h1M133 218h1M135 219h1M137 220h1M92 223h1M90 224h2M89 225h1M87 226h2M86 227h1M85 240h1M218 244h1M219 245h1M220 246h1M221 247h1M223 248h1M230 248h1M224 249h1M231 249h1M225 250h1M232 250h1M226 251h1M233 251h1M227 252h1M234 252h1M228 253h1M229 254h1M231 255h1M238 255h1M232 256h1M239 256h1M233 257h1M234 258h1M235 259h1M236 260h1M237 261h1M239 262h1M240 263h1M214 274h1M215 275h1M216 276h1M217 277h1"/>
<path stroke="#c0ff00" d="M261 102h1M99 214h9M129 215h1M131 216h1M133 217h1M134 218h1M136 219h1M138 220h1M92 224h1M90 225h2M89 226h1M87 227h1M86 228h1M84 240h1M221 240h1M83 241h1M218 245h1M219 246h1M228 246h1M220 247h1M229 247h1M222 248h1M223 249h1M224 250h1M233 250h1M225 251h1M234 251h1M226 252h1M235 252h1M227 253h1M236 253h1M228 254h1M237 254h1M230 255h1M231 256h1M232 257h1M233 258h1M234 259h1M235 260h1M236 261h1M238 262h1M239 263h1M240 264h1M210 270h1M213 273h1M217 276h1M218 277h1M219 278h1M220 279h1"/>
<path stroke="#ffc800" d="M190 79h1M190 80h1M190 81h1M190 82h1M190 83h1M190 84h1M190 85h1M138 94h1M137 95h1M136 96h1M135 97h1M268 102h1M265 104h1M264 105h1M137 107h1M146 107h1M137 108h1M138 113h1M147 113h1M66 114h1M64 115h1M62 116h1M60 117h1M139 119h1M148 119h1M139 120h1M86 216h1M85 217h1M83 218h1M102 219h12M123 219h1M126 221h1M128 222h1M130 223h1M133 225h1M135 226h1M174 246h1M173 247h1M172 248h1M171 249h1M170 250h1M169 251h1M168 252h1M210 262h3M95 263h1M93 264h1M94 269h1M91 270h1"/>
<path stroke="#ffd800" d="M139 94h1M138 95h1M137 96h1M136 97h1M135 98h1M268 101h1M267 102h1M264 104h1M138 107h1M145 107h1M138 108h1M145 108h1M138 109h1M145 109h1M146 110h1M146 111h1M146 112h1M139 113h1M146 113h1M139 114h1M146 114h1M146 115h1M147 116h1M147 117h1M147 118h1M140 119h1M147 119h1M140 120h1M147 120h1M140 121h1M89 215h1M88 216h1M86 217h1M121 217h1M85 218h1M123 218h1M84 219h1M126 220h1M128 221h1M130 222h1M133 224h1M135 225h1M92 240h1M212 263h1M95 264h1M92 265h1M94 268h1M92 269h1"/>
<path stroke="#d8ff00" d="M142 95h1M141 96h1M262 102h1M100 215h15M126 215h1M128 216h1M130 217h1M132 218h1M133 219h1M135 220h1M137 221h1M90 222h2M89 223h1M87 224h2M86 225h1M85 226h1M86 240h1M85 241h1M219 243h1M220 244h1M221 245h1M222 246h1M223 247h1M227 247h1M225 248h1M226 249h1M227 250h1M231 250h1M228 251h1M232 251h1M229 252h1M233 252h1M230 253h1M234 253h1M231 254h1M235 254h1M233 255h1M234 256h1M235 257h1M239 257h1M236 258h1M237 259h1M238 260h1M239 261h1M214 275h1M215 276h1M216 277h1M217 278h1"/>
<path stroke="#00e840" d="M100 153h2M99 154h2M88 158h2M98 158h1M88 159h2M98 159h1M96 160h2M96 161h2M88 162h4M88 163h4M96 168h2M96 169h2M92 170h2M92 171h2M86 172h2M86 173h2M92 174h2M92 175h2M83 176h1M83 177h1M90 178h2M98 178h1M90 179h2M98 179h1M90 180h2M98 180h1M90 181h2M98 181h1M96 188h2M96 189h2M98 194h1M98 195h1M88 196h2M88 197h2M84 198h2M88 198h2M84 199h2M88 199h2M98 200h1M98 201h1M223 237h1M224 238h1M231 244h1M232 245h1M238 250h1M239 251h1M240 252h1"/>
<path stroke="#d000d0" d="M214 56h1M210 58h1M212 62h1M225 70h1M254 203h2M248 204h2M248 205h2M248 206h6M248 207h6M269 207h7M248 208h8M270 208h6M248 209h8M271 209h6M250 210h10M272 210h5M250 211h10M269 211h1M273 211h4M248 212h6M258 212h1M270 212h1M274 212h3M249 213h5M270 213h2M274 213h3M251 214h1M273 214h1M171 267h4M166 268h10M166 269h11M166 270h12M166 271h13M167 272h12M167 273h11M168 274h10M169 275h8M171 276h6M172 277h5M174 278h2M175 279h1M100 282h2M100 283h2M110 283h2M126 292h2M126 293h2"/>
<path stroke="#0848ff" d="M237 39h2M237 40h2M80 135h2M80 136h2M283 142h2M283 143h2M282 163h3M282 164h3M282 165h4M284 166h2M80 168h2M80 169h2M4 170h2M4 171h2M281 172h2M281 173h2M80 194h2M80 195h2M80 196h2M80 197h2M80 198h2M20 212h2M20 213h2M33 227h3M27 228h2M31 228h3M27 229h2M31 229h3M31 230h6M31 231h6M31 232h6M32 233h4M33 234h2M256 237h2M254 238h2M254 239h2M255 242h2M255 243h2M64 245h2M80 268h2M209 280h2M209 281h2M210 282h2M210 283h2"/>
<path stroke="#ff0018" d="M209 56h1M208 57h1M223 57h1M210 60h1M214 62h1M224 63h1M216 64h1M219 67h1M186 84h1M173 87h1M176 90h1M86 106h2M86 107h2M78 111h2M254 112h2M254 113h2M33 114h1M33 115h1M74 116h4M75 117h3M66 120h2M66 121h2M54 140h2M54 141h2M58 180h2M58 181h2M40 188h2M270 188h1M40 189h2M270 189h1M48 194h2M48 195h2M58 196h4M58 197h4M60 246h4M60 247h2M108 286h2M108 287h2M110 294h2M122 294h2M128 294h2M110 295h2M122 295h2M128 295h2"/>
<path stroke="#ffb800" d="M189 79h1M189 80h1M189 81h1M189 82h1M189 83h1M189 84h1M189 85h1M138 93h1M137 94h1M136 95h1M269 102h1M268 103h1M265 105h1M136 106h1M136 107h1M136 108h1M137 112h1M147 112h1M64 114h1M62 115h1M60 116h1M138 118h1M148 118h1M138 119h1M138 120h1M84 216h1M123 220h1M124 221h1M126 222h1M128 223h1M130 224h1M133 226h1M135 227h1M173 244h1M172 245h1M171 246h1M170 247h1M169 248h1M168 249h1M167 250h1M166 251h1M210 260h2M93 263h1M93 270h1"/>
<path stroke="#e8ff00" d="M267 99h1M263 102h1M100 216h15M126 216h1M128 217h1M130 218h1M90 220h2M133 220h1M89 221h1M135 221h1M88 222h1M137 222h1M86 223h1M85 224h1M83 225h2M228 238h1M88 239h1M224 239h5M87 240h1M222 240h8M222 241h8M220 242h1M222 242h8M221 243h10M221 244h9M222 245h7M223 246h5M225 247h2M227 248h1M228 249h1M229 250h1M230 251h1M231 252h1M232 253h2M233 254h2M235 255h1M236 256h1M237 257h1M238 258h1M214 276h1M215 277h1M216 278h1M217 279h1"/>
<path stroke="#b0ff00" d="M263 100h1M260 102h1M131 215h1M133 216h1M134 217h1M136 218h1M138 219h1M83 240h1M82 241h1M217 246h1M218 247h1M220 248h1M232 248h1M221 249h1M233 249h1M222 250h1M234 250h1M223 251h1M235 251h1M224 252h1M236 252h1M225 253h1M226 254h1M228 255h1M240 255h1M229 256h1M230 257h1M231 258h1M232 259h1M233 260h1M234 261h1M236 262h1M237 263h1M238 264h1M239 265h1M210 269h1M217 275h1M218 276h1M219 277h1M220 278h1"/>
<path stroke="#ffa090" d="M66 106h2M66 107h2M36 108h4M36 109h4M82 109h2M36 110h3M82 110h2M99 111h3M99 112h3M99 113h3M93 114h3M93 115h3M93 116h3M207 164h1M200 165h1M207 165h2M200 166h1M208 166h1M200 167h1M207 167h2M200 168h1M207 168h1M200 169h1M207 169h1M201 170h2M206 170h1M202 171h4M168 281h1M169 282h1M170 283h1M171 284h1M178 287h1M177 288h1M179 288h1M178 289h1M182 296h1M183 297h1M184 298h1M184 299h1"/>
<path stroke="#00c048" d="M95 138h1M93 139h4M91 140h6M90 141h5M88 142h6M87 143h5M88 144h2M88 145h1M107 176h2M106 177h4M104 178h7M103 179h6M101 180h7M100 181h6M99 182h6M99 183h4M99 184h3M99 185h1M125 196h3M124 197h2M122 198h3M121 199h2M119 200h3M118 201h2M116 202h3M115 203h2M113 204h3M112 205h2M110 206h3M109 207h2M108 208h2M224 236h1M225 237h1M231 242h1M232 243h1M233 244h1M239 249h1M240 250h1M241 251h1"/>
<path stroke="#ff0020" d="M126 44h2M130 44h2M126 45h2M130 45h2M228 62h1M187 80h1M175 86h1M60 106h2M76 106h2M60 107h2M76 107h2M52 108h2M52 109h1M78 112h2M78 113h2M56 114h2M57 115h1M98 116h2M98 117h2M70 120h2M70 121h2M51 130h1M40 194h2M40 195h2M72 228h1M72 229h1M72 232h2M72 233h2M34 238h2M34 239h2M92 254h2M92 255h2M100 260h1M100 261h1M93 280h1M93 281h1M96 288h2M96 289h2"/>
<path stroke="#00a898" d="M236 226h6M231 227h12M230 228h14M229 229h17M228 230h19M227 231h21M226 232h23M227 233h23M228 234h23M229 235h23M230 236h24M231 237h23M230 238h1M232 238h22M231 239h1M234 239h20M261 239h1M235 240h20M256 240h1M259 240h1M236 241h18M237 242h17M238 243h16M239 244h15M256 244h1M238 245h1M241 245h13M239 246h1M242 246h13M243 247h12M244 248h10M245 249h9M246 250h7M247 251h6M246 252h1M249 252h3M247 253h1M250 253h2"/>
<path stroke="#10f038" d="M141 102h1M140 103h1M85 211h1M84 212h1M83 213h1M139 213h1M141 214h1M98 221h1M97 222h1M96 223h1M95 224h1M94 225h1M93 226h1M94 227h1M93 228h1M92 229h1M88 232h1M87 233h1M86 234h1M85 235h1M84 236h1M83 237h1M84 238h1M83 239h1M236 249h1M220 255h1M221 256h1M227 261h1M228 262h1M229 263h1M213 266h1M214 267h1M215 268h1M235 268h1M236 269h1M221 273h1M222 274h1"/>
<path stroke="#ffc000" d="M267 103h1M266 104h1M137 109h1M137 110h1M137 111h1M65 114h1M63 115h1M61 116h1M59 117h1M138 117h1M139 121h1M139 122h1M85 216h1M84 217h1M122 219h1M124 220h1M125 221h1M127 222h1M129 223h1M131 224h1M132 225h1M134 226h1M40 242h2M40 243h2M173 245h2M172 246h2M171 247h2M170 248h2M169 249h2M168 250h2M167 251h2M167 252h1M210 261h2M94 263h1M91 264h2M95 269h1M92 270h1"/>
<path stroke="#00c848" d="M97 140h1M95 141h4M94 142h6M92 143h6M90 144h7M89 145h6M89 146h4M90 147h2M105 172h1M104 173h3M102 174h6M101 175h7M99 176h8M99 177h7M99 178h5M99 179h4M99 180h2M99 181h1M126 197h3M125 198h4M123 199h5M122 200h4M120 201h5M119 202h4M117 203h5M116 204h4M114 205h5M113 206h4M111 207h5M110 208h4M110 209h3M226 238h1M234 245h1M235 246h1M236 247h1M242 252h1M243 253h1"/>
<path stroke="#ff0030" d="M221 64h1M223 64h1M224 66h1M221 72h1M186 79h1M174 85h1M187 85h1M177 86h1M185 88h1M180 90h1M35 106h1M34 107h2M44 108h2M68 108h1M44 109h2M68 109h1M65 110h1M256 114h2M98 118h2M98 119h2M72 124h1M70 228h2M70 229h2M64 242h2M64 243h2M88 258h2M88 259h2M60 264h2M60 265h2M80 270h2M80 271h2M100 281h2M116 292h2M116 293h2M122 296h2M122 297h2"/>
<path stroke="#f0ff00" d="M193 78h1M193 79h1M193 80h1M193 83h1M193 84h1M193 85h1M193 86h1M142 94h1M141 95h1M140 96h1M139 97h1M138 98h1M137 99h1M136 100h1M266 100h1M135 101h1M262 103h1M124 215h1M125 216h1M127 217h1M129 218h1M90 219h2M131 219h1M89 220h1M132 220h1M88 221h1M134 221h1M86 222h2M136 222h1M85 223h1M83 224h2M89 239h1M88 240h1M210 273h1M218 280h1"/>
<path stroke="#ffb000" d="M135 96h1M134 97h1M267 104h1M264 106h1M136 109h1M136 110h1M147 111h1M65 113h1M63 114h1M61 115h1M59 116h1M137 116h1M137 117h1M148 117h1M138 121h1M138 122h1M125 222h1M127 223h1M129 224h1M131 225h1M132 226h1M134 227h1M173 243h1M172 244h1M171 245h1M170 246h1M169 247h1M168 248h1M167 249h1M166 250h1M210 259h2M92 263h1M94 270h1M134 300h2M134 301h2"/>
<path stroke="#ff8078" d="M132 110h1M132 111h1M133 116h1M133 117h1M231 210h1M165 242h1M97 244h1M95 247h1M93 250h1M175 252h1M171 277h1M172 278h1M173 279h1M174 280h1M165 286h1M165 287h2M166 288h2M167 289h2M168 290h2M169 291h2M170 292h2M185 292h2M171 293h1M186 293h2M172 294h1M187 294h2M173 295h1M188 295h2M174 296h1M189 296h2M174 297h2M190 297h2M175 298h2M176 299h2M177 300h2"/>
<path stroke="#ffa088" d="M108 108h2M108 109h2M102 111h2M102 112h2M102 113h2M74 114h2M74 115h2M102 123h2M102 124h2M102 125h2M62 132h1M61 133h1M60 134h2M58 136h2M58 137h2M206 164h1M201 165h6M201 166h2M205 166h3M201 167h2M205 167h2M201 168h6M201 169h6M203 170h3M167 281h1M168 282h1M169 283h1M170 284h1M178 288h1M182 297h1M134 298h2M183 298h1M134 299h2"/>
<path stroke="#00d048" d="M98 143h2M97 144h4M95 145h6M93 146h7M92 147h6M91 148h5M92 149h3M99 170h1M99 171h4M99 172h6M99 173h5M99 174h3M99 175h2M129 198h1M128 199h3M126 200h5M125 201h4M123 202h5M122 203h4M120 204h5M119 205h4M117 206h5M116 207h4M114 208h3M113 209h1M223 236h1M230 242h1M231 243h1M237 248h1M238 249h1M239 250h1"/>
<path stroke="#ffa098" d="M218 56h1M106 112h2M106 113h2M57 117h2M57 118h3M57 119h3M208 163h1M199 164h1M208 164h1M199 165h1M199 166h1M209 166h1M199 167h1M209 167h1M199 168h1M208 168h1M199 169h1M208 169h1M200 170h1M207 170h2M200 171h2M206 171h2M202 172h5M38 244h2M38 245h2M177 287h1M179 287h1M177 289h1M179 289h1M178 290h1"/>
<path stroke="#0890e8" d="M253 71h1M252 72h1M251 73h1M250 74h1M249 75h1M248 76h1M247 77h1M246 78h1M245 79h1M244 80h1M243 81h1M242 82h1M241 83h1M82 130h2M82 131h2M264 204h1M265 205h1M266 206h1M267 207h1M268 208h1M269 209h1M270 210h1M271 211h1M272 212h1M273 213h1M120 270h2M122 271h2M122 272h2"/>
<path stroke="#00c050" d="M94 138h1M92 139h1M90 140h1M88 141h2M87 142h1M109 179h2M108 180h1M106 181h2M105 182h1M103 183h2M102 184h1M100 185h2M99 186h1M125 195h2M123 196h2M122 197h2M120 198h2M119 199h2M117 200h2M116 201h2M114 202h2M113 203h2M111 204h2M110 205h2M108 206h2M107 207h2M230 241h1M238 248h1"/>
<path stroke="#00e040" d="M101 149h1M99 150h3M97 151h5M96 152h6M96 153h4M86 166h2M86 167h2M84 176h2M84 177h2M83 180h1M83 181h1M83 186h1M83 187h1M98 190h1M98 191h1M94 202h2M132 202h1M131 203h3M129 204h6M128 205h8M126 206h9M125 207h9M126 208h7M129 209h3M235 247h1M236 248h1M237 249h1M243 254h1"/>
<path stroke="#78f810" d="M140 101h1M139 102h1M87 214h1M86 215h1M135 215h1M137 216h1M93 232h1M92 233h1M232 247h1M220 251h1M221 252h1M240 254h1M246 254h1M245 255h1M244 256h1M243 257h1M228 258h1M242 258h1M229 259h1M241 259h1M240 260h1M235 264h1M236 265h1M237 266h1M210 267h1M217 273h1M218 274h1"/>
<path stroke="#00a8a0" d="M226 233h1M226 234h2M227 235h2M228 236h2M229 237h2M260 237h1M231 238h1M260 238h1M232 239h2M233 240h2M234 241h2M235 242h2M254 242h1M236 243h2M237 244h2M255 244h1M239 245h2M240 246h2M241 247h2M242 248h2M243 249h2M244 250h2M245 251h2M247 252h2M248 253h2M249 254h1"/>
<path stroke="#08f038" d="M144 99h1M143 100h1M142 101h1M82 214h1M143 215h1M94 226h1M93 227h1M92 228h1M91 229h1M90 230h2M89 231h2M89 232h1M84 237h1M83 238h1M82 239h1M235 248h1M214 250h1M215 251h1M216 252h1M222 257h1M223 258h1M230 264h1M231 265h1M219 271h1M220 272h1"/>
<path stroke="#68f818" d="M89 211h1M88 212h1M87 213h1M86 214h1M138 216h1M140 217h1M97 227h1M96 228h1M88 237h1M87 238h1M222 238h1M86 239h1M230 245h1M217 249h1M218 250h1M238 252h1M225 256h1M226 257h1M232 262h1M233 263h1M234 264h1M213 269h1M214 270h1M221 276h1M222 277h1"/>
<path stroke="#48f820" d="M137 214h1M83 216h1M82 217h1M96 227h1M95 228h1M86 238h1M85 239h1M234 248h1M219 252h1M220 253h1M245 253h1M244 254h1M242 255h2M242 256h1M241 257h1M226 258h1M240 258h1M227 259h1M239 259h1M228 260h1M234 265h1M235 266h1M213 268h1M214 269h1M221 275h1"/>
<path stroke="#28f030" d="M86 211h1M85 212h1M139 214h1M141 215h1M97 220h1M96 221h1M95 222h1M94 228h1M92 230h1M87 231h1M86 232h1M85 233h1M223 238h1M84 239h1M231 245h1M220 254h1M221 255h1M222 256h1M228 261h1M229 262h1M213 267h1M236 268h1M220 273h1M221 274h1"/>
<path stroke="#50f820" d="M87 212h1M86 213h1M85 214h1M136 214h1M84 215h1M138 215h1M140 216h1M98 225h1M97 226h1M89 235h1M88 236h1M87 237h1M216 249h1M235 249h1M217 250h1M218 251h1M224 256h1M225 257h1M232 263h1M233 264h1M215 270h1M216 271h1M222 276h1M223 277h1"/>
<path stroke="#00a8e0" d="M253 70h1M252 71h1M251 72h1M250 73h1M249 74h1M248 75h1M247 76h1M246 77h1M245 78h1M244 79h1M243 80h1M242 81h1M241 82h1M240 83h1M256 239h2M257 243h1M254 245h2M141 281h1M141 282h2M142 283h3M144 284h2M145 285h2M146 286h3"/>
<path stroke="#90f808" d="M88 214h1M87 215h1M135 216h1M137 217h1M139 218h1M93 233h1M92 234h1M221 251h1M222 252h1M246 255h1M245 256h1M228 257h1M244 257h1M229 258h1M243 258h1M230 259h1M242 259h1M241 260h1M240 261h1M236 264h1M237 265h1M216 273h1M217 274h1"/>
<path stroke="#60f818" d="M135 214h1M85 215h1M137 215h1M83 217h1M82 218h1M93 231h1M219 251h1M237 251h1M220 252h1M221 253h1M246 253h1M245 254h1M244 255h1M243 256h1M242 257h1M227 258h1M241 258h1M228 259h1M240 259h1M235 265h1M236 266h1M219 274h1M220 275h1"/>
<path stroke="#a8f800" d="M265 98h1M141 99h1M140 100h1M261 101h1M132 215h1M139 219h1M92 235h1M91 236h1M229 245h1M222 251h1M223 252h1M237 252h1M247 255h1M246 256h1M245 257h1M230 258h1M244 258h1M243 259h1M242 260h1M241 261h1M238 265h1M214 272h1"/>
<path stroke="#20f030" d="M84 213h1M138 213h1M83 214h1M82 215h1M98 223h1M91 231h1M90 232h1M89 233h1M88 234h1M230 244h1M215 250h1M216 251h1M238 251h1M223 257h1M224 258h1M230 263h1M210 264h1M231 264h1M232 265h1M218 271h1M219 272h1M225 277h1"/>
<path stroke="#f8ff00" d="M268 99h1M265 101h1M123 215h1M124 216h1M126 217h1M90 218h2M128 218h1M89 219h1M130 219h1M88 220h1M86 221h2M133 221h1M85 222h1M135 222h1M83 223h2M137 223h1M210 274h1M214 277h1M215 278h1M216 279h1M217 280h1"/>
<path stroke="#40f828" d="M142 100h1M141 101h1M140 102h1M139 103h1M87 211h1M139 215h1M141 216h1M92 231h1M91 232h1M233 247h1M215 249h1M221 254h1M241 254h1M222 255h1M229 261h1M230 262h1M210 265h1M236 267h1M237 268h1M218 272h1M219 273h1"/>
<path stroke="#18f038" d="M142 215h1M98 220h1M97 221h1M96 225h1M95 226h1M92 227h1M91 228h1M90 229h1M89 230h1M88 231h1M87 232h1M86 236h1M85 237h1M82 238h1M218 253h1M219 254h1M226 260h1M234 267h1M216 269h1M223 275h1M224 276h1"/>
<path stroke="#ffa080" d="M33 108h3M48 108h3M33 109h3M48 109h3M33 110h3M48 110h3M72 117h3M102 117h2M72 118h3M102 118h2M72 119h3M102 119h2M203 166h2M203 167h2M24 205h2M32 205h2M22 210h2M22 211h2M32 214h2M32 215h2"/>
<path stroke="#80f810" d="M90 211h1M89 212h1M88 213h1M133 214h1M138 217h1M140 218h1M97 228h1M88 238h1M87 239h1M233 248h1M218 249h1M219 250h1M225 255h1M226 256h1M227 257h1M233 262h1M234 263h1M213 270h1M219 275h1M220 276h1"/>
<path stroke="#ff8880" d="M170 277h1M170 278h2M171 279h2M172 280h2M173 281h1M166 285h1M167 286h1M167 287h2M168 288h2M169 289h2M170 290h1M185 293h1M185 294h2M186 295h2M187 296h2M177 297h1M188 297h2M178 298h1M179 299h1M179 300h1"/>
<path stroke="#ff7870" d="M165 289h1M166 290h1M186 290h1M167 291h1M187 291h1M168 292h1M188 292h1M169 293h1M189 293h1M170 294h1M190 294h1M171 295h1M191 295h1M172 296h1M192 296h1M173 297h1M193 297h1M173 298h2M174 299h2M175 300h1"/>
<path stroke="#0880f0" d="M80 129h2M80 130h2M80 131h2M80 132h2M80 162h2M80 163h2M80 177h2M80 178h2M114 194h1M116 195h1M80 209h2M80 210h2M80 211h2M80 224h2M80 225h2M34 228h2M34 229h2M80 232h2M80 233h2"/>
<path stroke="#ff8878" d="M235 209h1M232 210h2M231 211h2M230 212h1M97 243h1M96 244h1M96 245h1M95 246h1M94 247h1M94 248h1M93 249h1M92 250h1M92 251h1M91 252h1M165 285h1M166 286h1M176 297h1M177 298h1M178 299h1"/>
<path stroke="#ff9860" d="M237 212h2M236 213h2M234 214h2M233 215h2M231 216h2M230 217h1M94 240h1M94 241h1M93 242h1M92 243h2M92 244h1M91 245h1M90 246h2M90 247h1M89 248h1M88 249h2M88 250h1M87 251h1M86 252h2"/>
<path stroke="#ff9068" d="M237 210h1M236 211h2M234 212h2M233 213h1M231 214h2M230 215h1M96 241h1M95 242h1M94 243h1M94 244h1M93 245h1M92 246h1M92 247h1M91 248h1M90 249h1M90 250h1M89 251h1M88 252h1"/>
<path stroke="#ff9080" d="M169 278h1M170 279h1M171 280h1M172 281h1M166 283h1M166 284h2M167 285h2M168 286h1M169 287h1M170 288h1M184 294h1M185 295h1M186 296h1M178 297h2M187 297h1M179 298h2M188 298h1M180 299h1"/>
<path stroke="#c800e0" d="M211 55h1M213 55h1M217 55h1M217 57h2M212 59h1M226 60h1M210 61h1M219 62h1M225 62h1M214 66h1M225 66h1M220 67h1M222 67h1M222 68h1M228 68h1M230 68h1M220 70h1"/>
<path stroke="#a0f800" d="M144 96h1M143 97h1M142 98h1M134 216h1M136 217h1M90 237h1M89 238h1M217 247h1M236 251h1M224 253h1M225 254h1M231 259h1M232 260h1M239 266h1M213 271h1M220 277h1M221 278h1"/>
<path stroke="#ffa050" d="M67 118h1M65 119h1M63 120h1M22 208h2M22 209h2M129 227h1M91 241h1M90 243h1M89 244h1M88 246h1M87 247h1M86 249h1M85 250h1M175 250h1M174 251h1M84 252h1M173 252h1"/>
<path stroke="#f800a0" d="M176 118h2M176 119h2M19 181h2M109 265h1M107 266h2M106 267h2M105 268h1M103 269h2M102 270h2M101 271h1M100 272h1M80 282h2M81 283h1M104 286h2M104 287h2M100 290h2M100 291h2"/>
<path stroke="#ff8870" d="M64 121h1M236 209h1M234 210h2M233 211h1M231 212h1M230 213h1M97 242h1M96 243h1M95 244h1M95 245h1M94 246h1M93 247h1M93 248h1M92 249h1M91 250h1M91 251h1M90 252h1"/>
<path stroke="#00d848" d="M100 146h2M98 147h3M96 148h4M95 149h3M93 150h3M93 151h2M131 200h1M129 201h3M128 202h2M126 203h3M125 204h2M123 205h3M122 206h2M122 207h1M224 237h1M232 244h1M240 251h1"/>
<path stroke="#00d840" d="M101 147h1M100 148h2M98 149h3M96 150h3M95 151h2M94 152h2M130 202h2M129 203h2M127 204h2M126 205h2M124 206h2M123 207h2M225 238h1M233 245h1M234 246h1M241 252h1M242 253h1"/>
<path stroke="#98f808" d="M90 212h1M89 213h1M133 215h1M138 218h1M140 219h1M82 221h1M218 248h1M219 249h1M220 250h1M235 250h1M226 255h1M227 256h1M234 262h1M235 263h1M210 268h1M218 275h1M219 276h1"/>
<path stroke="#30f028" d="M82 216h1M142 216h1M97 225h1M96 226h1M87 236h1M86 237h1M232 246h1M218 252h1M219 253h1M241 256h1M240 257h1M239 258h1M226 259h1M233 265h1M234 266h1M215 269h1M223 276h1"/>
<path stroke="#ff9888" d="M168 279h1M168 280h2M169 281h2M167 282h1M170 282h2M167 283h2M171 283h1M168 284h2M169 285h2M170 286h1M183 295h1M183 296h2M180 297h2M184 297h2M181 298h2M185 298h2M182 299h2"/>
<path stroke="#70f818" d="M144 97h1M143 98h1M142 99h1M134 214h1M136 215h1M90 235h1M89 236h1M223 239h1M231 246h1M216 248h1M223 254h1M224 255h1M231 261h1M215 271h1M216 272h1M223 278h1"/>
<path stroke="#ffa060" d="M78 108h2M78 109h2M78 110h2M93 123h3M93 124h3M24 206h2M24 207h2M238 213h1M236 214h1M235 215h1M233 216h1M231 217h1M93 241h1M91 244h1M89 247h1M87 250h1"/>
<path stroke="#58f820" d="M88 211h1M141 217h1M92 232h1M91 233h1M90 234h1M215 248h1M236 250h1M222 254h1M223 255h1M230 261h1M231 262h1M210 266h1M237 267h1M217 272h1M218 273h1M224 278h1"/>
<path stroke="#ffa078" d="M87 111h3M96 111h3M87 112h3M96 112h3M87 113h3M96 113h3M87 117h3M87 118h3M87 119h3M36 123h3M37 124h2M37 125h2M22 222h2M22 223h2M21 224h1"/>
<path stroke="#ffa020" d="M266 106h1M134 107h1M65 111h1M63 112h1M61 113h1M59 114h1M136 119h1M171 242h1M170 243h1M169 244h1M168 245h1M167 246h1M166 247h1M165 248h1"/>
<path stroke="#ffa010" d="M264 107h1M135 110h1M136 116h1M136 117h1M172 242h1M171 243h1M170 244h1M169 245h1M168 246h1M167 247h1M166 248h1M165 249h1M136 296h2M136 297h2"/>
<path stroke="#00a8d0" d="M82 128h1M82 129h3M84 130h2M84 131h2M82 132h5M82 133h5M82 134h6M82 135h6M82 136h7M82 137h6M83 138h4M85 139h2M257 238h1M260 239h1"/>
<path stroke="#ff9070" d="M237 209h1M236 210h1M234 211h2M232 212h2M231 213h2M230 214h1M96 242h1M95 243h1M94 245h1M93 246h1M92 248h1M91 249h1M90 251h1M89 252h1"/>
<path stroke="#ffa048" d="M22 216h2M22 217h2M126 225h1M90 241h1M90 242h1M89 243h1M88 244h1M88 245h1M87 246h1M86 247h1M86 248h1M85 249h1M84 250h1M84 251h1"/>
<path stroke="#ff9040" d="M267 106h1M133 107h1M64 110h1M62 111h1M60 112h1M134 113h1M135 119h1M169 242h1M168 243h1M167 244h1M166 245h1M165 246h1M164 247h1"/>
<path stroke="#ff9868" d="M236 212h1M234 213h2M233 214h1M231 215h2M230 216h1M95 241h1M94 242h1M93 244h1M92 245h1M91 247h1M90 248h1M89 250h1M88 251h1"/>
<path stroke="#ffa040" d="M128 226h1M130 227h1M89 241h1M89 242h1M88 243h1M87 244h1M87 245h1M86 246h1M85 247h1M85 248h1M84 249h1M83 250h1M83 251h1"/>
<path stroke="#38f828" d="M144 98h1M143 99h1M86 212h1M85 213h1M136 213h1M90 233h1M89 234h1M216 250h1M223 256h1M224 257h1M231 263h1M217 271h1"/>
<path stroke="#ff9830" d="M268 105h1M265 107h1M134 110h1M135 116h1M171 241h1M170 242h1M169 243h1M168 244h1M167 245h1M166 246h1M165 247h1M164 248h1"/>
<path stroke="#00a8b8" d="M113 192h5M113 193h6M113 194h1M115 194h5M113 195h3M117 195h3M114 196h5M114 197h5M114 198h5M261 240h1M257 244h1M256 245h1"/>
<path stroke="#38f028" d="M84 214h1M138 214h1M83 215h1M140 215h1M98 224h1M88 235h1M217 251h1M240 253h1M225 258h1M232 264h1M216 270h1M224 277h1"/>
<path stroke="#38f830" d="M98 218h1M97 219h1M96 220h1M95 221h1M94 222h1M93 223h1M88 229h1M87 230h1M86 231h1M85 232h1M84 233h1M83 234h1"/>
<path stroke="#ffa068" d="M32 114h1M67 114h2M32 115h1M67 115h2M32 116h1M67 116h2M26 208h2M26 209h2M128 227h1M118 294h2M118 295h2"/>
<path stroke="#ffc810" d="M65 116h1M63 117h1M61 118h1M238 221h1M237 222h1M175 247h1M174 248h1M173 249h1M172 250h1M171 251h1M170 252h1"/>
<path stroke="#ffb038" d="M67 117h1M65 118h1M63 119h1M238 217h1M237 218h1M235 219h1M233 220h1M175 249h1M174 250h1M173 251h1M172 252h1"/>
<path stroke="#88f808" d="M134 215h1M91 235h1M90 236h1M216 247h1M234 249h1M223 253h1M231 260h1M238 266h1M214 271h1M215 272h1M222 278h1"/>
<path stroke="#20f038" d="M96 222h1M95 223h1M94 224h1M93 225h1M92 226h1M91 227h1M86 233h1M85 234h1M84 235h1M83 236h1M82 237h1"/>
<path stroke="#ff9088" d="M169 279h1M170 280h1M171 281h1M172 282h1M169 286h1M170 287h1M184 295h1M185 296h1M186 297h1M187 298h1M181 299h1"/>
<path stroke="#b8f000" d="M196 78h1M196 79h1M196 80h1M196 81h1M196 82h1M196 83h1M196 84h1M196 85h1M264 98h1M260 101h1"/>
<path stroke="#00b858" d="M89 135h3M89 136h2M88 137h1M84 139h1M226 237h1M227 238h1M234 244h1M235 245h1M242 251h1M243 252h1"/>
<path stroke="#88ff20" d="M98 212h1M97 213h1M96 214h1M95 215h1M94 216h1M93 217h1M92 218h1M84 227h1M83 228h1M82 229h1"/>
<path stroke="#ffa030" d="M88 241h1M87 242h1M86 243h1M86 244h1M85 245h1M84 246h1M84 247h1M83 248h1M82 249h1M82 250h1"/>
<path stroke="#ff9828" d="M269 104h1M134 108h1M134 109h1M64 111h1M62 112h1M60 113h1M135 114h1M135 115h1M136 120h1"/>
<path stroke="#ff8860" d="M63 109h1M61 110h1M59 111h1M133 112h1M134 118h1M167 242h1M166 243h1M165 244h1M164 245h1"/>
<path stroke="#ff9050" d="M133 109h1M133 110h1M134 115h1M134 116h1M168 242h1M167 243h1M166 244h1M165 245h1M164 246h1"/>
<path stroke="#ffd0d0" d="M270 158h2M269 159h2M268 160h2M266 161h2M265 162h2M264 163h2M263 164h2M261 165h2M260 166h2"/>
<path stroke="#48f830" d="M96 219h1M95 220h1M94 221h1M93 222h1M86 230h1M85 231h1M84 232h1M83 233h1M82 234h1"/>
<path stroke="#30f830" d="M94 223h1M93 224h1M92 225h1M91 226h1M90 227h1M89 228h1M84 234h1M83 235h1M82 236h1"/>
<path stroke="#ffa820" d="M126 224h1M128 225h1M86 241h1M85 242h1M84 243h1M84 244h1M83 245h1M82 246h1M82 247h1"/>
<path stroke="#e800b8" d="M114 272h1M113 273h2M112 274h2M110 275h3M109 276h2M108 277h2M106 278h3M105 279h2M105 280h1"/>
<path stroke="#70f810" d="M141 100h1M139 217h1M82 219h1M91 234h1M222 253h1M239 253h1M230 260h1M238 267h1"/>
<path stroke="#ffa808" d="M135 109h1M136 115h1M137 121h1M124 222h1M129 225h1M131 226h1M82 242h1M82 243h1"/>
<path stroke="#88ff18" d="M97 212h1M96 213h1M95 214h1M94 215h1M93 216h1M92 217h1M83 227h1M82 228h1"/>
<path stroke="#30f030" d="M137 213h1M95 227h1M85 238h1M239 252h1M227 260h1M235 267h1M214 268h1M222 275h1"/>
<path stroke="#18f030" d="M140 214h1M97 224h1M87 235h1M237 250h1M217 252h1M225 259h1M233 266h1M217 270h1"/>
<path stroke="#88f810" d="M136 216h1M82 220h1M89 237h1M217 248h1M224 254h1M241 255h1M232 261h1M221 277h1"/>
<path stroke="#58f828" d="M95 219h1M94 220h1M93 221h1M92 222h1M85 230h1M84 231h1M83 232h1M82 233h1"/>
<path stroke="#ffa038" d="M125 224h1M88 242h1M87 243h1M86 245h1M85 246h1M84 248h1M83 249h1M82 251h1"/>
<path stroke="#00a8a8" d="M254 237h1M261 237h1M261 238h1M255 240h1M260 241h1M257 242h1M254 243h1M254 244h1"/>
<path stroke="#e800c8" d="M216 60h1M213 62h1M156 106h2M156 107h2M26 180h1M68 238h2M68 239h2"/>
<path stroke="#d0d000" d="M197 78h1M197 79h1M197 80h1M197 81h1M197 82h1M197 83h1M197 84h1"/>
<path stroke="#ffa018" d="M267 105h1M64 112h1M62 113h1M60 114h1M136 118h1M24 212h1M24 213h1"/>
<path stroke="#ffb830" d="M66 117h1M64 118h1M62 119h1M238 218h1M236 219h2M235 220h1M233 221h2"/>
<path stroke="#90ff18" d="M96 212h1M95 213h1M94 214h1M93 215h1M92 216h1M83 226h1M82 227h1"/>
<path stroke="#60f828" d="M98 215h1M97 216h1M96 217h1M95 218h1M94 219h1M85 229h1M84 230h1"/>
<path stroke="#80f820" d="M95 216h1M94 217h1M93 218h1M92 219h1M84 228h1M83 229h1M82 230h1"/>
<path stroke="#40f830" d="M98 217h1M97 218h1M90 226h1M89 227h1M88 228h1M87 229h1M82 235h1"/>
<path stroke="#ffa028" d="M105 221h8M87 241h1M86 242h1M85 244h1M84 245h1M83 247h1M82 248h1"/>
<path stroke="#00b860" d="M224 235h1M225 236h1M232 242h1M233 243h1M239 248h1M240 249h1M241 250h1"/>
<path stroke="#00b078" d="M225 235h1M226 236h1M232 241h1M233 242h1M240 248h1M241 249h1M248 255h1"/>
<path stroke="#00b070" d="M227 237h1M234 243h1M235 244h1M236 245h1M242 250h1M243 251h1M244 252h1"/>
<path stroke="#00b080" d="M230 239h1M231 240h1M237 245h1M238 246h1M239 247h1M245 252h1M247 254h1"/>
<path stroke="#ff9048" d="M266 107h1M133 108h1M63 110h1M61 111h1M59 112h1M134 114h1"/>
<path stroke="#ff8868" d="M132 108h1M133 113h1M133 114h1M166 242h1M165 243h1M164 244h1"/>
<path stroke="#ff9838" d="M63 111h1M134 111h1M61 112h1M59 113h1M135 117h1M135 118h1"/>
<path stroke="#ffc020" d="M65 117h1M63 118h1M61 119h1M237 220h2M236 221h1M234 222h2"/>
<path stroke="#98ff10" d="M94 212h1M93 213h1M92 214h2M91 215h2M82 225h1M82 226h1"/>
<path stroke="#70f828" d="M97 215h1M96 216h1M95 217h1M94 218h1M85 228h1M84 229h1"/>
<path stroke="#50f828" d="M98 216h1M97 217h1M96 218h1M88 227h1M87 228h1M86 229h1"/>
<path stroke="#ffb828" d="M236 220h1M175 248h1M174 249h1M173 250h1M172 251h1M171 252h1"/>
<path stroke="#ffa818" d="M125 223h1M130 226h1M132 227h1M84 242h1M83 244h1M82 245h1"/>
<path stroke="#ff18b8" d="M107 263h1M106 264h1M104 265h1M103 266h1M102 267h1M100 268h1"/>
<path stroke="#ff10b0" d="M107 264h1M106 265h1M104 266h1M103 267h1M102 268h1M100 269h1"/>
<path stroke="#ff08a8" d="M108 264h1M107 265h1M105 266h1M104 267h1M103 268h1M101 269h1"/>
<path stroke="#c800e8" d="M215 56h1M221 58h1M222 60h1M211 62h1M213 65h1"/>
<path stroke="#c800f0" d="M220 58h1M221 62h1M222 65h1M228 65h1M223 68h1"/>
<path stroke="#ffa008" d="M268 104h1M65 112h1M63 113h1M61 114h1M59 115h1"/>
<path stroke="#ff9060" d="M67 119h1M65 120h1M63 121h1M175 251h1M174 252h1"/>
<path stroke="#d800c8" d="M28 175h1M79 282h1M116 296h2M130 298h2M130 299h2"/>
<path stroke="#a0ff08" d="M92 212h2M91 213h2M90 214h2M82 223h1M82 224h1"/>
<path stroke="#68f828" d="M98 214h1M93 220h1M92 221h1M83 231h1M82 232h1"/>
<path stroke="#ffa848" d="M239 215h1M237 216h1M236 217h1M234 218h1M232 219h2"/>
<path stroke="#ffb040" d="M239 216h1M237 217h1M235 218h2M234 219h1M232 220h1"/>
<path stroke="#ffa810" d="M127 224h1M134 228h1M83 242h1M83 243h1M82 244h1"/>
<path stroke="#00a888" d="M227 236h1M228 237h1M235 243h1M236 244h1M243 250h1"/>
<path stroke="#00b868" d="M229 239h1M230 240h1M231 241h1M237 246h1M238 247h1"/>
<path stroke="#ff38d0" d="M104 262h1M103 263h1M101 264h1M100 265h1M99 266h1"/>
<path stroke="#ff30c8" d="M105 262h1M104 263h1M103 264h1M101 265h1M99 267h1"/>
<path stroke="#ff9058" d="M265 108h1M64 109h1M62 110h1M60 111h1"/>
<path stroke="#ffc018" d="M66 116h1M64 117h1M62 118h1M60 119h1"/>
<path stroke="#ffa850" d="M238 215h1M236 216h1M234 217h2M233 218h1"/>
<path stroke="#70f820" d="M93 219h1M92 220h1M83 230h1M82 231h1"/>
<path stroke="#28f038" d="M98 219h1M90 228h1M89 229h1M88 230h1"/>
<path stroke="#ffa828" d="M124 223h1M131 227h1M85 243h1M83 246h1"/>
<path stroke="#00a8b0" d="M256 238h1M255 241h2M259 241h1M258 243h1"/>
<path stroke="#0020d0" d="M258 238h2M258 239h2M257 240h2M257 241h2"/>
<path stroke="#f0b800" d="M198 81h1M198 82h1M198 83h1"/>
<path stroke="#40f030" d="M144 100h1M143 101h1M142 102h1"/>
<path stroke="#ffa070" d="M56 117h1M54 118h3M54 119h3"/>
<path stroke="#ffa840" d="M66 118h1M64 119h1M62 120h1"/>
<path stroke="#00b058" d="M88 133h2M88 134h3M88 135h1"/>
<path stroke="#78f820" d="M98 213h1M97 214h1M96 215h1"/>
<path stroke="#00f038" d="M140 213h1M224 259h1M232 266h1"/>
<path stroke="#ffc028" d="M238 219h1M235 221h1M233 222h1"/>
<path stroke="#ff40d8" d="M103 262h1M102 263h1M100 264h1"/>
<path stroke="#ff28c0" d="M105 263h1M104 264h1M101 266h1"/>
<path stroke="#ff20c0" d="M106 263h1M103 265h1M102 266h1"/>
<path stroke="#e0c800" d="M261 98h1M257 101h1"/>
<path stroke="#d0d800" d="M261 99h1M258 101h1"/>
<path stroke="#90f818" d="M144 101h1M143 102h1"/>
<path stroke="#ff9800" d="M147 108h1M148 114h1"/>
<path stroke="#ff5800" d="M148 108h1M149 114h1"/>
<path stroke="#ff2000" d="M149 108h1M150 114h1"/>
<path stroke="#ff8070" d="M132 109h1M133 115h1"/>
<path stroke="#ffa000" d="M147 109h1M148 115h1"/>
<path stroke="#ff6000" d="M148 109h1M149 115h1"/>
<path stroke="#ff2800" d="M149 109h1M150 115h1"/>
<path stroke="#ff7000" d="M148 110h1M149 116h1"/>
<path stroke="#ff3000" d="M149 110h1M150 116h1"/>
<path stroke="#ff8858" d="M133 111h1M134 117h1"/>
<path stroke="#ff7800" d="M148 111h1M149 117h1"/>
<path stroke="#ff8000" d="M148 112h1M149 118h1"/>
<path stroke="#ff9858" d="M66 119h1M64 120h1"/>
<path stroke="#00b060" d="M87 132h1M87 133h1"/>
<path stroke="#90ff10" d="M95 212h1M94 213h1"/>
<path stroke="#58f818" d="M139 216h1M229 260h1"/>
<path stroke="#ffb838" d="M239 217h1M234 220h1"/>
<path stroke="#ffc818" d="M237 221h1M236 222h1"/>
<path stroke="#ffa830" d="M127 225h1M129 226h1"/>
<path stroke="#00a8c0" d="M255 237h1M258 242h1"/>
<path stroke="#00b088" d="M229 238h1M244 251h1"/>
<path stroke="#ff28c8" d="M106 262h1M102 265h1"/>
<path stroke="#ff20b8" d="M105 264h1M101 267h1"/>
<path stroke="#ff18b0" d="M105 265h1M101 268h1"/>
<path stroke="#ff00a8" d="M106 266h1M102 269h1"/>
<path stroke="#d000d8" d="M223 69h1"/>
<path stroke="#d8c800" d="M260 99h1"/>
<path stroke="#e0c000" d="M258 100h1"/>
<path stroke="#d8d000" d="M259 100h1"/>
<path stroke="#c8e000" d="M260 100h1"/>
<path stroke="#b8e800" d="M261 100h1"/>
<path stroke="#b0f800" d="M262 100h1"/>
<path stroke="#c0e000" d="M259 101h1"/>
<path stroke="#38f030" d="M141 103h1"/>
<path stroke="#88f818" d="M142 103h1"/>
<path stroke="#d8ff08" d="M143 103h1"/>
<path stroke="#ff4000" d="M149 111h1"/>
<path stroke="#ff4800" d="M149 112h1"/>
<path stroke="#ff1000" d="M150 112h1"/>
<path stroke="#ff8800" d="M148 113h1"/>
<path stroke="#ff5000" d="M149 113h1"/>
<path stroke="#ff1800" d="M150 113h1"/>
<path stroke="#00a860" d="M86 131h1"/>
<path stroke="#ffb048" d="M238 216h1"/>
<path stroke="#ffd008" d="M238 222h1"/>
<path stroke="#00a8c8" d="M260 240h1"/>
<path stroke="#00a8d8" d="M254 241h1"/>
<path stroke="#a0f808" d="M233 261h1"/>
<path stroke="#ff48e0" d="M102 262h1"/>
<path stroke="#ff48d8" d="M101 263h1"/>
<path stroke="#ff30d0" d="M102 264h1"/>
<path stroke="#48f828" d="M220 274h1"/>
<path stroke="#ff7068" d="M172 299h1"/>
</g>
<g fill="none" stroke-width="2.4" clip-path="url(#hc)"><path d="M199.3 270V1310" stroke="#70007a" stroke-dasharray="5.2 5.2" stroke-opacity=".85"/><path d="M199.3 275.2V1310" stroke="#f266f2" stroke-dasharray="5.2 5.2" stroke-opacity=".85"/><path d="M357.8 270V1310" stroke="#70007a" stroke-dasharray="5.2 5.2" stroke-opacity=".85"/><path d="M357.8 275.2V1310" stroke="#f266f2" stroke-dasharray="5.2 5.2" stroke-opacity=".85"/><path d="M516 270V1310" stroke="#70007a" stroke-dasharray="5.2 5.2" stroke-opacity=".85"/><path d="M516 275.2V1310" stroke="#f266f2" stroke-dasharray="5.2 5.2" stroke-opacity=".85"/><path d="M674.5 270V1310" stroke="#70007a" stroke-dasharray="5.2 5.2" stroke-opacity=".85"/><path d="M674.5 275.2V1310" stroke="#f266f2" stroke-dasharray="5.2 5.2" stroke-opacity=".85"/><path d="M833.3 270V1310" stroke="#70007a" stroke-dasharray="5.2 5.2" stroke-opacity=".85"/><path d="M833.3 275.2V1310" stroke="#f266f2" stroke-dasharray="5.2 5.2" stroke-opacity=".85"/><path d="M991.8 270V1310" stroke="#70007a" stroke-dasharray="5.2 5.2" stroke-opacity=".85"/><path d="M991.8 275.2V1310" stroke="#f266f2" stroke-dasharray="5.2 5.2" stroke-opacity=".85"/><path d="M1150.3 270V1310" stroke="#70007a" stroke-dasharray="5.2 5.2" stroke-opacity=".85"/><path d="M1150.3 275.2V1310" stroke="#f266f2" stroke-dasharray="5.2 5.2" stroke-opacity=".85"/><path d="M180 286.5H1170" stroke="#7a007a" stroke-dasharray="2.6 2.6" stroke-opacity=".7"/><path d="M182.6 286.5H1170" stroke="#f4b0f4" stroke-dasharray="2.6 2.6" stroke-opacity=".9"/><path d="M180 454.5H1170" stroke="#7a007a" stroke-dasharray="2.6 2.6" stroke-opacity=".7"/><path d="M182.6 454.5H1170" stroke="#f4b0f4" stroke-dasharray="2.6 2.6" stroke-opacity=".9"/><path d="M180 622.5H1170" stroke="#7a007a" stroke-dasharray="2.6 2.6" stroke-opacity=".7"/><path d="M182.6 622.5H1170" stroke="#f4b0f4" stroke-dasharray="2.6 2.6" stroke-opacity=".9"/><path d="M180 788.8H1170" stroke="#7a007a" stroke-dasharray="2.6 2.6" stroke-opacity=".7"/><path d="M182.6 788.8H1170" stroke="#f4b0f4" stroke-dasharray="2.6 2.6" stroke-opacity=".9"/><path d="M180 955.2H1170" stroke="#7a007a" stroke-dasharray="2.6 2.6" stroke-opacity=".7"/><path d="M182.6 955.2H1170" stroke="#f4b0f4" stroke-dasharray="2.6 2.6" stroke-opacity=".9"/><path d="M180 1123H1170" stroke="#7a007a" stroke-dasharray="2.6 2.6" stroke-opacity=".7"/><path d="M182.6 1123H1170" stroke="#f4b0f4" stroke-dasharray="2.6 2.6" stroke-opacity=".9"/><path d="M180 1291.8H1170" stroke="#7a007a" stroke-dasharray="2.6 2.6" stroke-opacity=".7"/><path d="M182.6 1291.8H1170" stroke="#f4b0f4" stroke-dasharray="2.6 2.6" stroke-opacity=".9"/></g>
</g>
<g id="annot" filter="url(#soft2)">
<rect x="8.5" y="5" width="1934.5" height="1609.3" fill="none" stroke="#000" stroke-width="4"/>
<path d="M182.5 64V788" stroke="#222" stroke-width="2" stroke-dasharray="9.5 7" fill="none"/>
<path d="M1164.5 95V770" stroke="#222" stroke-width="2" stroke-dasharray="9.5 7" fill="none"/>
<path d="M200 176.8H1152" stroke="#111" stroke-width="1.8" fill="none"/>
<path d="M189 176.8l13.5 -7.5v15z"/>
<path d="M1164 176.8l-13.5 -7.5v15z"/>
<path class="ln" style="stroke-width:4" d="M1000.5 291.3L620.0 497.0"/><path class="ln" style="stroke-width:4;stroke-linejoin:miter" d="M640.0 496.2L620.0 497.0L631.6 480.7"/>
<path class="ln" style="stroke-width:4" d="M1019.2 338.9L668.0 613.0"/><path class="ln" style="stroke-width:4;stroke-linejoin:miter" d="M687.6 608.9L668.0 613.0L676.8 595.0"/>
<path class="ln" style="stroke-width:4" d="M1044.3 358.9L590.6 1193.0"/><path class="ln" style="stroke-width:4;stroke-linejoin:miter" d="M606.9 1181.4L590.6 1193.0L591.5 1173.0"/>
<path class="ln" style="stroke-width:4" d="M1071.8 367.2L957.6 941.8"/><path class="ln" style="stroke-width:4;stroke-linejoin:miter" d="M969.7 925.9L957.6 941.8L952.5 922.5"/>
<path class="ln" style="stroke-width:4" d="M303.7 1365.5L491.7 931.3"/><path class="ln" style="stroke-width:4;stroke-linejoin:miter" d="M476.5 944.3L491.7 931.3L492.6 951.3"/>
<path class="ln" style="stroke-width:4" d="M457.0 1393.8L714.2 1241.0"/><path class="ln" style="stroke-width:4;stroke-linejoin:miter" d="M694.3 1242.6L714.2 1241.0L703.2 1257.7"/>
<path class="ln" d="M1162 1040 Q1088 1200 922 1289" style="stroke-width:4"/><path d="M1172.2 1017L1151 1037.5L1171.6 1046.5z"/><path d="M901.3 1298.4L920 1276.5L931.5 1296.5z"/>
<ellipse cx="679.1" cy="812.2" rx="127.7" ry="128.3" fill="none" stroke="#fff" stroke-width="3" stroke-dasharray="17 11.7" stroke-dashoffset="4"/>
<path d="M563 812.3H795" stroke="#fff" stroke-width="2" fill="none"/>
<path d="M552.5 812.3l14 -7v14z" fill="#fff"/>
<path d="M805.5 812.3l-14 -7v14z" fill="#fff"/>
<text x="681" y="164.7" class="m">64 cm</text>
<text x="687" y="260.4" class="m">90º</text>
<text x="1179.5" y="259" class="m">Discontinuities</text>
<text x="1179.5" y="320" class="m">in materials</text>
<text x="96" y="807.3" class="m" style="letter-spacing:-.5px">180º</text>
<text x="1207" y="805.3" class="m">0º</text>
<text x="391" y="854" class="m w">A</text>
<text x="490" y="869.2" class="m">B</text>
<text x="678.5" y="806.6" class="m w">9.6 cm</text>
<text x="679" y="898" class="m w">Tube</text>
<text x="973" y="1149.7" class="m">B</text>
<text x="674.5" y="1366.7" class="m">270º</text>
<text x="319.5" y="1433.3" class="m">Possible fissures</text>
<text x="319.5" y="1494" class="m">or damage</text>
<text x="1222" y="1210.3" class="m">Superficial</text>
<text x="1222" y="1271.7" class="m">damage</text>
<text x="1222" y="1332.5" class="m">(area not</text>
<text x="1222" y="1392.6" class="m">studied</text>
<text x="1222" y="1453" class="m">with GPR)</text>
<text x="0" y="0" transform="translate(253,474) rotate(-42)">Surface</text>
<text x="1433.5" y="257">v<tspan dy="15.5" dx="1" style="font-size:46px">p</tspan><tspan dy="-15.5" dx="-9.5"> (m/s)</tspan></text>
<text x="1699" y="264">E<tspan dy="17.5" dx="-3" style="font-size:45px">d</tspan><tspan dy="-17.5" dx="-6.8" style="letter-spacing:.3px"> (MPa)</tspan></text>
<text x="1598" y="387.6" class="e">42<tspan dx="-4.6">1</tspan></text>
<text x="1595.6" y="467" class="e">833</text>
<text x="1595.6" y="546.4" class="e">1245</text>
<text x="1595.6" y="625.8" class="e">1657</text>
<text x="1595.6" y="705.2" class="e">2069</text>
<text x="1598" y="784.6" class="e">248<tspan dx="-3.5">1</tspan></text>
<text x="1595.6" y="864" class="e">2893</text>
<text x="1595.6" y="943.4" class="e">3304</text>
<text x="1595.6" y="1022.8" class="e">3716</text>
<text x="1595.6" y="1102.2" class="e">4128</text>
<text x="1595.6" y="1181.6" class="e">4540</text>
<text x="1595.6" y="1261" class="e">4952</text>
<text x="1595.6" y="1340.4" class="e">5364</text>
<text x="1691.2" y="374.3" style="letter-spacing:.5px">535</text>
<text x="1690.2" y="512.3" style="letter-spacing:-.3px">1385</text>
<text x="1691.2" y="650.3" style="letter-spacing:.5px">5414</text>
<text x="1690.2" y="788.3" style="letter-spacing:-.3px">12286</text>
<text x="1691.2" y="926.3" style="letter-spacing:.5px">21789</text>
<text x="1691.2" y="1064.3" style="letter-spacing:.5px">27562</text>
<text x="1691.2" y="1202.3" style="letter-spacing:.5px">41140</text>
<text x="1691.2" y="1340.3" style="letter-spacing:.5px">57429</text>
<rect x="1601.5" y="326.5" width="78" height="1013.5" fill="url(#cb)"/>
</g>
</svg>
</body></html>
